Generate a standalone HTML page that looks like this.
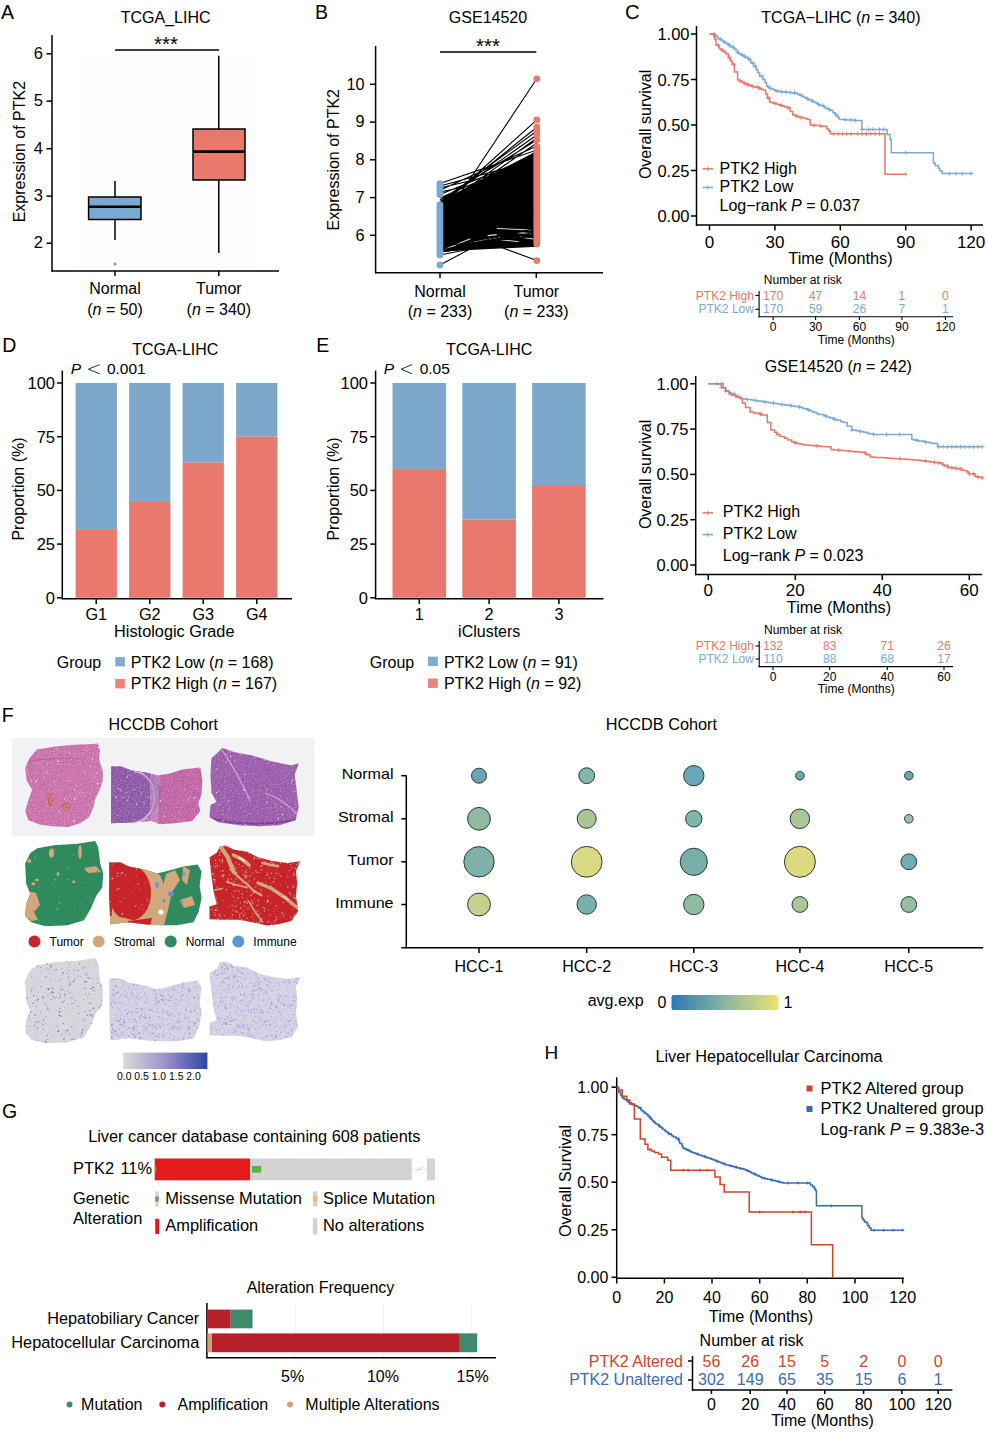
<!DOCTYPE html>
<html><head><meta charset="utf-8"><style>
html,body{margin:0;padding:0;background:#fff;}
svg{display:block;font-family:"Liberation Sans", sans-serif;}
</style></head><body>
<svg width="986" height="1433" viewBox="0 0 986 1433">
<rect width="986" height="1433" fill="#fff"/>
<text x="1.0" y="18.5" font-size="19.5" text-anchor="start" fill="#000">A</text><text x="165.6" y="23.4" font-size="16" text-anchor="middle" fill="#000">TCGA_LIHC</text><rect x="75.0" y="55.0" width="176.0" height="214.0" fill="#fdfdfd"/><line x1="52.0" y1="35.0" x2="52.0" y2="271.6" stroke="#000" stroke-width="1.5"/><line x1="51.3" y1="271.0" x2="279.0" y2="271.0" stroke="#000" stroke-width="1.5"/><line x1="46.5" y1="53.8" x2="52.0" y2="53.8" stroke="#000" stroke-width="1.5"/><text x="43.0" y="59.0" font-size="16.5" text-anchor="end" fill="#000">6</text><line x1="46.5" y1="101.1" x2="52.0" y2="101.1" stroke="#000" stroke-width="1.5"/><text x="43.0" y="106.3" font-size="16.5" text-anchor="end" fill="#000">5</text><line x1="46.5" y1="148.7" x2="52.0" y2="148.7" stroke="#000" stroke-width="1.5"/><text x="43.0" y="153.9" font-size="16.5" text-anchor="end" fill="#000">4</text><line x1="46.5" y1="196.1" x2="52.0" y2="196.1" stroke="#000" stroke-width="1.5"/><text x="43.0" y="201.3" font-size="16.5" text-anchor="end" fill="#000">3</text><line x1="46.5" y1="243.2" x2="52.0" y2="243.2" stroke="#000" stroke-width="1.5"/><text x="43.0" y="248.4" font-size="16.5" text-anchor="end" fill="#000">2</text><line x1="115.0" y1="271.0" x2="115.0" y2="276.0" stroke="#000" stroke-width="1.5"/><line x1="218.8" y1="271.0" x2="218.8" y2="276.0" stroke="#000" stroke-width="1.5"/><text x="19.5" y="151.6" font-size="16" text-anchor="middle" fill="#000" transform="rotate(-90 19.5 151.6)" dominant-baseline="central">Expression of PTK2</text><text x="115.0" y="294.0" font-size="16" text-anchor="middle" fill="#000">Normal</text><text x="115.0" y="315.0" font-size="16" text-anchor="middle" fill="#000">(<tspan font-style="italic">n</tspan> = 50)</text><text x="218.8" y="294.0" font-size="16" text-anchor="middle" fill="#000">Tumor</text><text x="218.8" y="315.0" font-size="16" text-anchor="middle" fill="#000">(<tspan font-style="italic">n</tspan> = 340)</text><line x1="115.0" y1="50.0" x2="219.0" y2="50.0" stroke="#000" stroke-width="1.5"/><text x="166.0" y="51.4" font-size="20.5" text-anchor="middle" fill="#000">***</text><line x1="115.0" y1="181.0" x2="115.0" y2="197.0" stroke="#000" stroke-width="1.5"/><line x1="115.0" y1="219.5" x2="115.0" y2="240.0" stroke="#000" stroke-width="1.5"/><rect x="88.6" y="197.0" width="52.4" height="22.5" fill="#7aaad2" stroke="#000" stroke-width="1.5"/><line x1="88.6" y1="206.8" x2="141.0" y2="206.8" stroke="#000" stroke-width="2.6"/><circle cx="115.0" cy="264.0" r="1.6" fill="#999"/><line x1="218.8" y1="55.8" x2="218.8" y2="129.0" stroke="#000" stroke-width="1.5"/><line x1="218.8" y1="180.0" x2="218.8" y2="253.0" stroke="#000" stroke-width="1.5"/><rect x="193.0" y="129.0" width="52.0" height="51.0" fill="#e8796c" stroke="#000" stroke-width="1.5"/><line x1="193.0" y1="151.6" x2="245.0" y2="151.6" stroke="#000" stroke-width="2.6"/><text x="315.0" y="18.5" font-size="19.5" text-anchor="start" fill="#000">B</text><text x="488.0" y="23.4" font-size="16" text-anchor="middle" fill="#000">GSE14520</text><line x1="375.6" y1="46.0" x2="375.6" y2="273.3" stroke="#000" stroke-width="1.5"/><line x1="375.0" y1="272.7" x2="603.0" y2="272.7" stroke="#000" stroke-width="1.5"/><line x1="370.0" y1="235.3" x2="375.6" y2="235.3" stroke="#000" stroke-width="1.5"/><text x="364.5" y="240.5" font-size="16.3" text-anchor="end" fill="#000">6</text><line x1="370.0" y1="197.6" x2="375.6" y2="197.6" stroke="#000" stroke-width="1.5"/><text x="364.5" y="202.8" font-size="16.3" text-anchor="end" fill="#000">7</text><line x1="370.0" y1="159.8" x2="375.6" y2="159.8" stroke="#000" stroke-width="1.5"/><text x="364.5" y="165.0" font-size="16.3" text-anchor="end" fill="#000">8</text><line x1="370.0" y1="122.1" x2="375.6" y2="122.1" stroke="#000" stroke-width="1.5"/><text x="364.5" y="127.3" font-size="16.3" text-anchor="end" fill="#000">9</text><line x1="370.0" y1="84.3" x2="375.6" y2="84.3" stroke="#000" stroke-width="1.5"/><text x="364.5" y="89.5" font-size="16.3" text-anchor="end" fill="#000">10</text><line x1="440.0" y1="272.7" x2="440.0" y2="278.0" stroke="#000" stroke-width="1.5"/><line x1="536.3" y1="272.7" x2="536.3" y2="278.0" stroke="#000" stroke-width="1.5"/><text x="333.5" y="159.7" font-size="16" text-anchor="middle" fill="#000" transform="rotate(-90 333.5 159.7)" dominant-baseline="central">Expression of PTK2</text><text x="440.0" y="297.0" font-size="16" text-anchor="middle" fill="#000">Normal</text><text x="440.0" y="317.0" font-size="16" text-anchor="middle" fill="#000">(<tspan font-style="italic">n</tspan> = 233)</text><text x="536.3" y="297.0" font-size="16" text-anchor="middle" fill="#000">Tumor</text><text x="536.3" y="317.0" font-size="16" text-anchor="middle" fill="#000">(<tspan font-style="italic">n</tspan> = 233)</text><line x1="440.0" y1="51.9" x2="536.3" y2="51.9" stroke="#000" stroke-width="1.5"/><text x="488.0" y="52.6" font-size="20.5" text-anchor="middle" fill="#000">***</text><path d="M439.9,201.5L536.8,151L536.8,246.8L439.9,251.5Z" fill="#050303" stroke="none" stroke-width="1"/><path d="M439.9,232.6L536.8,221.8M439.9,241.3L536.8,241.2M439.9,238.5L536.8,239.3M439.9,203.0L536.8,195.1M439.9,248.7L536.8,212.8M439.9,246.5L536.8,161.0M439.9,225.0L536.8,173.9M439.9,228.7L536.8,205.6M439.9,202.2L536.8,171.0M439.9,215.5L536.8,238.7M439.9,239.8L536.8,165.4M439.9,241.4L536.8,163.4M439.9,232.4L536.8,162.3M439.9,201.6L536.8,234.4M439.9,212.0L536.8,170.9M439.9,250.6L536.8,234.4M439.9,216.0L536.8,243.1M439.9,228.5L536.8,215.6M439.9,211.7L536.8,241.1M439.9,236.0L536.8,243.6M439.9,246.2L536.8,178.9M439.9,219.6L536.8,166.1M439.9,208.8L536.8,156.3M439.9,216.6L536.8,208.4M439.9,201.7L536.8,215.6M439.9,218.4L536.8,180.0M439.9,242.4L536.8,196.5M439.9,217.3L536.8,196.6M439.9,236.7L536.8,155.5M439.9,250.3L536.8,152.2M439.9,239.0L536.8,231.8M439.9,202.4L536.8,226.3M439.9,219.8L536.8,206.0M439.9,202.0L536.8,154.5M439.9,210.5L536.8,242.5M439.9,211.3L536.8,223.2M439.9,248.0L536.8,241.2M439.9,218.7L536.8,184.3M439.9,227.7L536.8,225.1M439.9,206.9L536.8,222.4M439.9,241.4L536.8,233.2M439.9,203.3L536.8,241.6M439.9,206.1L536.8,183.0M439.9,232.0L536.8,238.9M439.9,218.5L536.8,239.5M439.9,228.8L536.8,180.2M439.9,217.3L536.8,167.2M439.9,205.4L536.8,164.4M439.9,236.0L536.8,246.5M439.9,209.6L536.8,154.7M439.9,250.8L536.8,201.6M439.9,221.8L536.8,173.0M439.9,231.2L536.8,230.0M439.9,224.3L536.8,190.8M439.9,204.3L536.8,238.7M439.9,203.1L536.8,197.8M439.9,243.4L536.8,162.6M439.9,238.1L536.8,241.9M439.9,233.0L536.8,226.3M439.9,206.8L536.8,192.1M439.9,209.0L536.8,231.8M439.9,216.2L536.8,193.9M439.9,251.5L536.8,232.5M439.9,250.3L536.8,193.9M439.9,225.9L536.8,220.6M439.9,225.5L536.8,178.2M439.9,221.7L536.8,164.2M439.9,220.4L536.8,245.7M439.9,249.5L536.8,210.7M439.9,226.5L536.8,182.8M439.9,206.0L536.8,176.4M439.9,240.6L536.8,234.0M439.9,219.6L536.8,226.1M439.9,240.2L536.8,217.2M439.9,234.7L536.8,223.5M439.9,219.7L536.8,218.2M439.9,215.5L536.8,197.0M439.9,240.0L536.8,216.9M439.9,216.2L536.8,241.5M439.9,234.0L536.8,206.2M439.9,202.1L536.8,202.9M439.9,214.0L536.8,215.0M439.9,224.6L536.8,229.1M439.9,233.9L536.8,227.2M439.9,218.9L536.8,212.3M439.9,238.4L536.8,230.2M439.9,219.0L536.8,231.6M439.9,245.0L536.8,216.6M439.9,250.3L536.8,242.6M439.9,227.4L536.8,201.2M439.9,209.8L536.8,231.0M439.9,248.4L536.8,196.2M439.9,236.1L536.8,219.7M439.9,238.0L536.8,166.6M439.9,240.5L536.8,206.2M439.9,234.8L536.8,190.7M439.9,232.7L536.8,225.0M439.9,233.3L536.8,219.7M439.9,202.9L536.8,165.5M439.9,223.6L536.8,212.9M439.9,212.5L536.8,216.4M439.9,233.0L536.8,154.1M439.9,225.1L536.8,171.9M439.9,204.2L536.8,162.9M439.9,217.4L536.8,167.6M439.9,211.2L536.8,153.5M439.9,224.8L536.8,186.8M439.9,232.1L536.8,207.1M439.9,213.4L536.8,237.4M439.9,201.5L536.8,189.2M439.9,215.4L536.8,189.7M439.9,207.3L536.8,230.5M439.9,220.2L536.8,153.5M439.9,232.2L536.8,159.2M439.9,228.8L536.8,182.9M439.9,230.5L536.8,242.8M439.9,242.4L536.8,190.6M439.9,242.1L536.8,212.2M439.9,220.0L536.8,163.8M439.9,231.3L536.8,204.6M439.9,249.4L536.8,243.7M439.9,231.9L536.8,184.0M439.9,246.2L536.8,150.1M439.9,206.9L536.8,204.8M439.9,232.3L536.8,163.6M439.9,233.0L536.8,236.3M439.9,220.3L536.8,191.8M439.9,212.8L536.8,178.2M439.9,250.1L536.8,186.8M439.9,249.6L536.8,238.5M439.9,231.3L536.8,175.2M439.9,250.5L536.8,198.0M439.9,222.3L536.8,180.9M439.9,250.7L536.8,197.6M439.9,215.8L536.8,196.2M439.9,207.6L536.8,210.2M439.9,223.7L536.8,178.4M439.9,240.6L536.8,230.0M439.9,202.2L536.8,201.6M439.9,215.2L536.8,240.5M439.9,240.6L536.8,173.8M439.9,214.9L536.8,165.0M439.9,250.9L536.8,178.4M439.9,231.9L536.8,195.9M439.9,233.7L536.8,208.5M439.9,238.7L536.8,161.4M439.9,239.5L536.8,179.1M439.9,228.2L536.8,182.5M439.9,216.3L536.8,201.3M439.9,224.7L536.8,184.9M439.9,238.8L536.8,207.2M439.9,203.3L536.8,174.4M439.9,224.3L536.8,238.7M439.9,245.9L536.8,202.8M439.9,202.2L536.8,225.3M439.9,222.9L536.8,205.7M439.9,236.9L536.8,211.2M439.9,225.6L536.8,238.3M439.9,220.8L536.8,187.9M439.9,244.1L536.8,169.0M439.9,183.6L536.8,150.0M439.9,186.0L536.8,160.0M439.9,190.2L536.8,146.0M439.9,194.6L536.8,155.0M439.9,192.0L536.8,172.0M439.9,188.0L536.8,165.0M439.9,224.3L536.8,78.8M439.9,224.3L536.8,260.6M439.9,265.0L536.8,213.7M439.9,200.0L536.8,140.0M439.9,203.0L536.8,135.0M439.9,205.0L536.8,127.2M439.9,207.0L536.8,119.9M439.9,210.0L536.8,143.0M439.9,198.0L536.8,156.0M439.9,202.0L536.8,131.0M439.9,208.0L536.8,138.0M439.9,250.0L536.8,232.0M439.9,252.0L536.8,240.0M439.9,255.0L536.8,236.0" fill="none" stroke="#000" stroke-width="1.1"/><path d="M496.8,228.5L531.3,230M517,232.6L531.3,233.6M500.9,239.7L519.1,241.7M487.7,235.6L496.8,234.6M444,249.8L470.4,238.7M470,243L500,237M520,237L533,239" fill="none" stroke="#fff" stroke-width="1.1" opacity="0.85"/><path d="M439.9,250.0L536.8,232.0M439.9,252.0L536.8,240.0M439.9,246.0L536.8,236.0M439.9,251.0L536.8,228.0" fill="none" stroke="#000" stroke-width="1.0"/><rect x="436.5" y="201.2" width="6.8" height="57.2" fill="#79a9d2" rx="3.4"/><circle cx="439.9" cy="183.6" r="3.4" fill="#79a9d2"/><circle cx="439.9" cy="187.0" r="3.4" fill="#79a9d2"/><circle cx="439.9" cy="190.2" r="3.4" fill="#79a9d2"/><circle cx="439.9" cy="194.6" r="3.4" fill="#79a9d2"/><circle cx="439.9" cy="265.0" r="3.4" fill="#79a9d2"/><rect x="533.4" y="143.3" width="6.8" height="104.1" fill="#e8796c" rx="3.4"/><circle cx="536.8" cy="78.8" r="3.4" fill="#e8796c"/><circle cx="536.8" cy="119.9" r="3.4" fill="#e8796c"/><circle cx="536.8" cy="127.2" r="3.4" fill="#e8796c"/><circle cx="536.8" cy="131.0" r="3.4" fill="#e8796c"/><circle cx="536.8" cy="135.0" r="3.4" fill="#e8796c"/><circle cx="536.8" cy="140.0" r="3.4" fill="#e8796c"/><circle cx="536.8" cy="260.6" r="3.4" fill="#e8796c"/><text x="625.0" y="18.8" font-size="20.2" text-anchor="start" fill="#000">C</text><text x="840.9" y="23.0" font-size="16" text-anchor="middle" fill="#000">TCGA−LIHC (<tspan font-style="italic">n</tspan> = 340)</text><line x1="696.5" y1="26.0" x2="696.5" y2="225.6" stroke="#000" stroke-width="1.5"/><line x1="695.9" y1="225.0" x2="983.0" y2="225.0" stroke="#000" stroke-width="1.5"/><line x1="691.0" y1="34.0" x2="696.5" y2="34.0" stroke="#000" stroke-width="1.5"/><text x="689.5" y="40.0" font-size="16.5" text-anchor="end" fill="#000">1.00</text><line x1="691.0" y1="79.5" x2="696.5" y2="79.5" stroke="#000" stroke-width="1.5"/><text x="689.5" y="85.5" font-size="16.5" text-anchor="end" fill="#000">0.75</text><line x1="691.0" y1="125.0" x2="696.5" y2="125.0" stroke="#000" stroke-width="1.5"/><text x="689.5" y="131.0" font-size="16.5" text-anchor="end" fill="#000">0.50</text><line x1="691.0" y1="170.5" x2="696.5" y2="170.5" stroke="#000" stroke-width="1.5"/><text x="689.5" y="176.5" font-size="16.5" text-anchor="end" fill="#000">0.25</text><line x1="691.0" y1="216.0" x2="696.5" y2="216.0" stroke="#000" stroke-width="1.5"/><text x="689.5" y="222.0" font-size="16.5" text-anchor="end" fill="#000">0.00</text><line x1="709.5" y1="225.0" x2="709.5" y2="230.4" stroke="#000" stroke-width="1.5"/><text x="709.5" y="248.0" font-size="17" text-anchor="middle" fill="#000">0</text><line x1="774.9" y1="225.0" x2="774.9" y2="230.4" stroke="#000" stroke-width="1.5"/><text x="774.9" y="248.0" font-size="17" text-anchor="middle" fill="#000">30</text><line x1="840.3" y1="225.0" x2="840.3" y2="230.4" stroke="#000" stroke-width="1.5"/><text x="840.3" y="248.0" font-size="17" text-anchor="middle" fill="#000">60</text><line x1="905.7" y1="225.0" x2="905.7" y2="230.4" stroke="#000" stroke-width="1.5"/><text x="905.7" y="248.0" font-size="17" text-anchor="middle" fill="#000">90</text><line x1="971.1" y1="225.0" x2="971.1" y2="230.4" stroke="#000" stroke-width="1.5"/><text x="971.1" y="248.0" font-size="17" text-anchor="middle" fill="#000">120</text><text x="840.5" y="264.2" font-size="16.3" text-anchor="middle" fill="#000">Time (Months)</text><text x="645.5" y="124.4" font-size="16" text-anchor="middle" fill="#000" transform="rotate(-90 645.5 124.4)" dominant-baseline="central">Overall survival</text><path d="M709.5,34.0H713.8V36.0H717.3V38.0H720.2V39.5H722.4V40.9H723.9V42.4H726.6V43.8H728.9V45.3H731.0V47.1H733.5V48.9H735.9V50.7H737.6V52.6H739.0V53.8H740.9V55.0H744.0V56.2H745.4V57.4H747.8V58.6H749.4V59.8H750.8V63.1H753.6V66.4H756.1V69.7H757.9V72.9H759.7V76.2H762.9V79.4H765.0V82.6H766.6V85.9H768.1V87.2H770.3V88.5H773.2V89.8H775.3V91.1H778.0V91.3H779.2V91.5H781.0V91.7H783.3V91.9H784.8V92.1H787.1V92.3H789.4V92.5H791.5V92.7H793.2V92.9H795.6V93.1H797.4V94.2H799.5V95.3H802.1V96.4H804.3V97.5H806.3V98.7H808.3V99.8H811.9V101.0H813.8V102.2H816.1V103.3H818.4V104.4H819.8V105.4H823.0V106.5H824.8V107.5H825.8V108.5H828.2V109.6H830.5V110.6H833.0V112.8H835.2V115.0H837.7V117.2H839.2V119.4H841.1V119.5H843.7V119.6H845.5V119.7H847.0V119.9H849.5V120.0H851.9V120.1H853.9V120.2H855.4V120.4H857.6V120.5H859.5V120.6H861.9V129.4H887.1V134.5H890.0V139.6H891.3V152.7H933.4V162.9H935.2V165.5H938.2V168.2H939.8V170.9H942.1V173.6H972.6" fill="none" stroke="#79aad4" stroke-width="1.5"/><path d="M713.8,36.0H718.2M716.0,33.8V38.2M718.2,39.5H722.6M720.4,37.3V41.7M722.6,42.4H727.0M724.8,40.2V44.6M726.9,45.3H731.3M729.1,43.1V47.5M731.3,47.1H735.7M733.5,44.9V49.3M735.6,52.6H740.0M737.8,50.4V54.8M740.0,55.0H744.4M742.2,52.8V57.2M742.2,56.2H746.6M744.4,54.0V58.4M746.5,58.6H750.9M748.7,56.4V60.8M750.9,63.1H755.3M753.1,60.9V65.3M753.1,66.4H757.5M755.3,64.2V68.6M759.6,76.2H764.0M761.8,74.0V78.4M768.3,88.5H772.7M770.5,86.3V90.7M774.9,91.1H779.3M777.1,88.9V93.3M779.2,91.7H783.6M781.4,89.5V93.9M783.6,92.1H788.0M785.8,89.9V94.3M788.0,92.5H792.4M790.2,90.3V94.7M792.3,92.9H796.7M794.5,90.7V95.1M798.9,95.3H803.3M801.1,93.1V97.5M805.4,98.7H809.8M807.6,96.5V100.9M809.8,101.0H814.2M812.0,98.8V103.2M816.3,104.4H820.7M818.5,102.2V106.6M820.7,105.4H825.1M822.9,103.2V107.6M827.2,109.6H831.6M829.4,107.4V111.8M833.7,115.0H838.1M835.9,112.8V117.2M842.5,119.6H846.9M844.7,117.4V121.8M849.0,120.0H853.4M851.2,117.8V122.2M853.4,120.4H857.8M855.6,118.2V122.6M859.9,129.4H864.3M862.1,127.2V131.6M866.4,129.4H870.8M868.6,127.2V131.6M870.8,129.4H875.2M873.0,127.2V131.6M877.3,129.4H881.7M879.5,127.2V131.6M881.7,129.4H886.1M883.9,127.2V131.6M903.5,152.7H907.9M905.7,150.5V154.9M947.1,173.6H951.5M949.3,171.4V175.8M953.6,173.6H958.0M955.8,171.4V175.8M960.2,173.6H964.6M962.4,171.4V175.8M968.9,173.6H973.3M971.1,171.4V175.8" fill="none" stroke="#79aad4" stroke-width="0.9"/><path d="M709.5,34.0H714.6V39.6H716.0V45.3H718.7V47.0H719.4V48.8H721.5V50.5H724.5V52.3H726.1V54.0H728.4V57.4H730.2V60.8H732.0V64.2H734.4V72.1H737.6V80.0H740.0V81.1H742.1V82.2H744.3V83.3H746.3V84.4H748.0V85.1H750.6V85.9H752.7V86.6H755.4V87.3H758.0V88.1H760.1V88.8H761.7V89.5H763.8V90.2H765.7V94.1H767.4V98.0H769.7V101.9H771.1V102.6H773.3V103.3H776.2V104.1H778.1V104.8H780.4V105.5H783.3V106.3H785.0V107.0H787.1V107.7H790.1V111.4H792.8V115.0H794.5V115.6H796.3V116.2H798.8V116.9H800.6V117.5H803.2V118.1H806.0V118.7H807.4V119.4H810.2V125.0H812.5V125.2H813.9V125.4H816.9V125.6H818.9V125.8H820.8V126.0H823.1V126.2H824.6V126.5H826.9V128.9H828.9V131.3H830.5V133.7H885.0V174.3H905.7" fill="none" stroke="#e8776a" stroke-width="1.5"/><path d="M711.7,34.0H716.1M713.9,31.8V36.2M716.0,45.3H720.4M718.2,43.1V47.5M720.4,50.5H724.8M722.6,48.3V52.7M726.9,57.4H731.3M729.1,55.2V59.6M731.3,64.2H735.7M733.5,62.0V66.4M737.8,81.1H742.2M740.0,78.9V83.3M742.2,83.3H746.6M744.4,81.1V85.5M746.5,85.1H750.9M748.7,82.9V87.3M750.9,86.6H755.3M753.1,84.4V88.8M755.3,87.3H759.7M757.5,85.1V89.5M757.4,88.1H761.8M759.6,85.9V90.3M766.2,98.0H770.6M768.4,95.8V100.2M772.7,103.3H777.1M774.9,101.1V105.5M779.2,105.5H783.6M781.4,103.3V107.7M785.8,107.7H790.2M788.0,105.5V109.9M794.5,116.2H798.9M796.7,114.0V118.4M798.9,117.5H803.3M801.1,115.3V119.7M811.9,125.4H816.3M814.1,123.2V127.6M818.5,125.8H822.9M820.7,123.6V128.0M831.6,133.7H836.0M833.8,131.5V135.9M835.9,133.7H840.3M838.1,131.5V135.9M840.3,133.7H844.7M842.5,131.5V135.9M844.6,133.7H849.0M846.8,131.5V135.9M849.0,133.7H853.4M851.2,131.5V135.9M855.5,133.7H859.9M857.7,131.5V135.9M859.9,133.7H864.3M862.1,131.5V135.9M864.3,133.7H868.7M866.5,131.5V135.9M868.6,133.7H873.0M870.8,131.5V135.9M873.0,133.7H877.4M875.2,131.5V135.9M877.3,133.7H881.7M879.5,131.5V135.9M903.5,174.3H907.9M905.7,172.1V176.5" fill="none" stroke="#e8776a" stroke-width="0.9"/><line x1="702.5" y1="168.8" x2="713.0" y2="168.8" stroke="#e8776a" stroke-width="1.5"/><line x1="707.7" y1="166.6" x2="707.7" y2="171.0" stroke="#e8776a" stroke-width="1"/><line x1="702.5" y1="187.5" x2="713.0" y2="187.5" stroke="#79aad4" stroke-width="1.5"/><line x1="707.7" y1="185.3" x2="707.7" y2="189.7" stroke="#79aad4" stroke-width="1"/><text x="719.5" y="173.7" font-size="16" text-anchor="start" fill="#000">PTK2 High</text><text x="719.5" y="192.3" font-size="16" text-anchor="start" fill="#000">PTK2 Low</text><text x="719.5" y="210.8" font-size="16" text-anchor="start" fill="#000">Log−rank <tspan font-style="italic">P</tspan> = 0.037</text><text x="763.8" y="284.2" font-size="12" text-anchor="start" fill="#000">Number at risk</text><text x="753.9" y="299.7" font-size="12" text-anchor="end" fill="#e8776a">PTK2 High</text><text x="753.9" y="313.4" font-size="12" text-anchor="end" fill="#79aad4">PTK2 Low</text><line x1="759.1" y1="291.0" x2="759.1" y2="317.4" stroke="#000" stroke-width="1.1"/><line x1="758.5" y1="316.8" x2="953.0" y2="316.8" stroke="#000" stroke-width="1.1"/><line x1="755.5" y1="295.5" x2="759.1" y2="295.5" stroke="#000" stroke-width="1.1"/><line x1="755.5" y1="309.3" x2="759.1" y2="309.3" stroke="#000" stroke-width="1.1"/><text x="773.1" y="299.7" font-size="12" text-anchor="middle" fill="#e8776a">170</text><text x="773.1" y="313.4" font-size="12" text-anchor="middle" fill="#79aad4">170</text><line x1="773.1" y1="316.8" x2="773.1" y2="320.0" stroke="#000" stroke-width="1.1"/><text x="773.1" y="330.8" font-size="12" text-anchor="middle" fill="#000">0</text><text x="815.6" y="299.7" font-size="12" text-anchor="middle" fill="#e8776a">47</text><text x="815.6" y="313.4" font-size="12" text-anchor="middle" fill="#79aad4">59</text><line x1="815.6" y1="316.8" x2="815.6" y2="320.0" stroke="#000" stroke-width="1.1"/><text x="815.6" y="330.8" font-size="12" text-anchor="middle" fill="#000">30</text><text x="859.4" y="299.7" font-size="12" text-anchor="middle" fill="#e8776a">14</text><text x="859.4" y="313.4" font-size="12" text-anchor="middle" fill="#79aad4">26</text><line x1="859.4" y1="316.8" x2="859.4" y2="320.0" stroke="#000" stroke-width="1.1"/><text x="859.4" y="330.8" font-size="12" text-anchor="middle" fill="#000">60</text><text x="901.9" y="299.7" font-size="12" text-anchor="middle" fill="#e8776a">1</text><text x="901.9" y="313.4" font-size="12" text-anchor="middle" fill="#79aad4">7</text><line x1="901.9" y1="316.8" x2="901.9" y2="320.0" stroke="#000" stroke-width="1.1"/><text x="901.9" y="330.8" font-size="12" text-anchor="middle" fill="#000">90</text><text x="945.4" y="299.7" font-size="12" text-anchor="middle" fill="#e8776a">0</text><text x="945.4" y="313.4" font-size="12" text-anchor="middle" fill="#79aad4">1</text><line x1="945.4" y1="316.8" x2="945.4" y2="320.0" stroke="#000" stroke-width="1.1"/><text x="945.4" y="330.8" font-size="12" text-anchor="middle" fill="#000">120</text><text x="856.3" y="344.4" font-size="12" text-anchor="middle" fill="#000">Time (Months)</text><text x="838.3" y="371.5" font-size="16" text-anchor="middle" fill="#000">GSE14520 (<tspan font-style="italic">n</tspan> = 242)</text><line x1="695.7" y1="376.0" x2="695.7" y2="575.2" stroke="#000" stroke-width="1.5"/><line x1="695.1" y1="574.6" x2="982.0" y2="574.6" stroke="#000" stroke-width="1.5"/><line x1="690.2" y1="383.8" x2="695.7" y2="383.8" stroke="#000" stroke-width="1.5"/><text x="688.5" y="389.8" font-size="16.5" text-anchor="end" fill="#000">1.00</text><line x1="690.2" y1="429.1" x2="695.7" y2="429.1" stroke="#000" stroke-width="1.5"/><text x="688.5" y="435.1" font-size="16.5" text-anchor="end" fill="#000">0.75</text><line x1="690.2" y1="474.4" x2="695.7" y2="474.4" stroke="#000" stroke-width="1.5"/><text x="688.5" y="480.4" font-size="16.5" text-anchor="end" fill="#000">0.50</text><line x1="690.2" y1="519.7" x2="695.7" y2="519.7" stroke="#000" stroke-width="1.5"/><text x="688.5" y="525.7" font-size="16.5" text-anchor="end" fill="#000">0.25</text><line x1="690.2" y1="565.0" x2="695.7" y2="565.0" stroke="#000" stroke-width="1.5"/><text x="688.5" y="571.0" font-size="16.5" text-anchor="end" fill="#000">0.00</text><line x1="708.3" y1="574.6" x2="708.3" y2="580.0" stroke="#000" stroke-width="1.5"/><text x="708.3" y="596.0" font-size="17" text-anchor="middle" fill="#000">0</text><line x1="795.3" y1="574.6" x2="795.3" y2="580.0" stroke="#000" stroke-width="1.5"/><text x="795.3" y="596.0" font-size="17" text-anchor="middle" fill="#000">20</text><line x1="882.3" y1="574.6" x2="882.3" y2="580.0" stroke="#000" stroke-width="1.5"/><text x="882.3" y="596.0" font-size="17" text-anchor="middle" fill="#000">40</text><line x1="969.3" y1="574.6" x2="969.3" y2="580.0" stroke="#000" stroke-width="1.5"/><text x="969.3" y="596.0" font-size="17" text-anchor="middle" fill="#000">60</text><text x="839.0" y="612.8" font-size="16.3" text-anchor="middle" fill="#000">Time (Months)</text><text x="645.5" y="474.4" font-size="16" text-anchor="middle" fill="#000" transform="rotate(-90 645.5 474.4)" dominant-baseline="central">Overall survival</text><path d="M708.3,383.8H721.3V387.4H725.7V391.0H728.8V392.5H731.5V394.0H735.1V395.5H738.1V397.0H740.9V398.5H743.2V399.0H746.5V399.5H751.7V400.0H753.7V400.5H757.0V401.0H762.1V401.5H764.2V402.0H768.4V402.5H770.9V403.0H774.2V403.5H777.9V404.0H780.1V404.5H784.6V405.0H788.5V405.5H791.0V406.0H794.8V406.5H798.0V407.0H801.0V407.5H803.1V408.7H807.6V409.9H810.3V411.1H812.7V412.3H816.2V413.5H818.4V414.6H823.8V415.8H826.2V416.9H830.2V418.0H833.9V419.2H836.9V420.3H840.8V421.4H843.1V422.6H847.2V426.3H851.8V430.0H856.2V430.8H858.8V431.5H863.6V432.3H867.0V433.0H868.6V433.8H873.2V434.5H911.9V439.6H914.5V440.3H918.2V440.9H923.5V441.6H925.6V442.3H929.6V442.9H932.8V443.6H937.5V446.7H982.3" fill="none" stroke="#79aad4" stroke-width="1.5"/><path d="M714.8,383.8H719.2M717.0,381.6V386.0M719.1,387.4H723.5M721.3,385.2V389.6M732.2,394.0H736.6M734.4,391.8V396.2M745.2,399.5H749.6M747.4,397.3V401.7M753.9,400.5H758.4M756.1,398.3V402.7M762.6,402.0H767.0M764.8,399.8V404.2M771.3,403.0H775.8M773.5,400.8V405.2M780.0,404.5H784.5M782.2,402.3V406.7M788.7,405.5H793.1M790.9,403.3V407.7M797.4,407.0H801.9M799.6,404.8V409.2M806.1,409.9H810.5M808.3,407.7V412.1M823.5,415.8H828.0M825.8,413.6V418.0M832.2,419.2H836.6M834.4,417.0V421.4M849.6,430.0H854.0M851.8,427.8V432.2M858.3,431.5H862.8M860.5,429.3V433.7M871.4,434.5H875.8M873.6,432.3V436.7M884.4,434.5H888.9M886.6,432.3V436.7M897.5,434.5H901.9M899.7,432.3V436.7M914.9,440.3H919.3M917.1,438.1V442.5M923.6,442.3H928.0M925.8,440.1V444.5M936.6,446.7H941.0M938.8,444.5V448.9M941.0,446.7H945.4M943.2,444.5V448.9M945.3,446.7H949.8M947.5,444.5V448.9M949.7,446.7H954.1M951.9,444.5V448.9M954.0,446.7H958.5M956.2,444.5V448.9M958.4,446.7H962.8M960.6,444.5V448.9M962.7,446.7H967.1M964.9,444.5V448.9M967.1,446.7H971.5M969.3,444.5V448.9M971.4,446.7H975.8M973.6,444.5V448.9M975.8,446.7H980.2M978.0,444.5V448.9M980.1,446.7H984.5M982.3,444.5V448.9" fill="none" stroke="#79aad4" stroke-width="0.9"/><path d="M708.3,383.8H723.1V388.0H725.6V391.0H729.2V393.9H731.7V395.5H735.9V397.0H739.6V398.5H742.3V403.0H745.5V407.5H750.1V412.1H753.7V413.0H759.0V414.0H761.8V415.0H767.3V422.5H770.9V430.0H774.6V432.3H777.0V434.5H780.0V436.4H784.5V438.3H787.5V440.1H791.8V442.0H794.2V442.7H797.1V443.5H800.3V444.3H804.0V445.0H808.5V445.3H811.8V445.6H815.2V445.9H818.7V446.1H820.7V446.4H824.9V446.7H831.0V449.6H833.8V449.9H837.9V450.2H841.4V450.5H845.0V450.8H848.4V451.1H849.8V451.4H854.4V451.7H857.8V452.0H860.7V452.3H864.0V452.7H866.4V454.8H870.1V457.0H873.3V457.2H875.6V457.4H880.7V457.6H883.7V457.8H886.2V458.0H888.9V458.2H893.4V458.5H895.9V458.7H899.8V458.9H902.9V459.1H905.3V459.3H908.3V459.5H911.9V459.7H914.9V459.9H918.2V460.3H921.0V460.8H924.7V461.2H929.3V461.7H930.9V462.1H934.3V462.5H938.8V463.0H942.2V464.6H944.5V466.1H948.0V467.7H952.0V468.1H955.7V468.5H959.7V469.0H962.4V470.5H966.9V472.1H968.9V473.7H975.0V476.6H977.9V477.3H982.3V478.0H982.3" fill="none" stroke="#e8776a" stroke-width="1.5"/><path d="M719.1,383.8H723.5M721.3,381.6V386.0M723.5,391.0H727.9M725.7,388.8V393.2M758.3,414.0H762.7M760.5,411.8V416.2M775.7,434.5H780.1M777.9,432.3V436.7M793.1,442.7H797.5M795.3,440.5V444.9M814.8,445.9H819.2M817.0,443.7V448.1M836.6,450.2H841.0M838.8,448.0V452.4M862.7,452.7H867.1M864.9,450.5V454.9M897.5,458.7H901.9M899.7,456.5V460.9M923.6,461.2H928.0M925.8,459.0V463.4M932.3,462.5H936.7M934.5,460.3V464.7M936.6,463.0H941.0M938.8,460.8V465.2M941.0,464.6H945.4M943.2,462.4V466.8M945.3,466.1H949.8M947.5,463.9V468.3M949.7,467.7H954.1M951.9,465.5V469.9M954.0,468.5H958.5M956.2,466.3V470.7M958.4,469.0H962.8M960.6,466.8V471.2M967.1,473.7H971.5M969.3,471.5V475.9M971.4,473.7H975.8M973.6,471.5V475.9M975.8,477.3H980.2M978.0,475.1V479.5M980.1,478.0H984.5M982.3,475.8V480.2" fill="none" stroke="#e8776a" stroke-width="0.9"/><line x1="702.5" y1="512.8" x2="713.0" y2="512.8" stroke="#e8776a" stroke-width="1.5"/><line x1="707.7" y1="510.6" x2="707.7" y2="515.0" stroke="#e8776a" stroke-width="1"/><line x1="702.5" y1="534.6" x2="713.0" y2="534.6" stroke="#79aad4" stroke-width="1.5"/><line x1="707.7" y1="532.4" x2="707.7" y2="536.8" stroke="#79aad4" stroke-width="1"/><text x="722.8" y="517.4" font-size="16" text-anchor="start" fill="#000">PTK2 High</text><text x="722.8" y="539.3" font-size="16" text-anchor="start" fill="#000">PTK2 Low</text><text x="722.8" y="560.9" font-size="16" text-anchor="start" fill="#000">Log−rank <tspan font-style="italic">P</tspan> = 0.023</text><text x="764.0" y="634.4" font-size="12" text-anchor="start" fill="#000">Number at risk</text><text x="753.9" y="650.3" font-size="12" text-anchor="end" fill="#e8776a">PTK2 High</text><text x="753.9" y="663.0" font-size="12" text-anchor="end" fill="#79aad4">PTK2 Low</text><line x1="759.2" y1="641.0" x2="759.2" y2="667.2" stroke="#000" stroke-width="1.1"/><line x1="758.6" y1="666.6" x2="953.0" y2="666.6" stroke="#000" stroke-width="1.1"/><line x1="755.6" y1="646.0" x2="759.2" y2="646.0" stroke="#000" stroke-width="1.1"/><line x1="755.6" y1="659.0" x2="759.2" y2="659.0" stroke="#000" stroke-width="1.1"/><text x="773.0" y="650.3" font-size="12" text-anchor="middle" fill="#e8776a">132</text><text x="773.0" y="663.0" font-size="12" text-anchor="middle" fill="#79aad4">110</text><line x1="773.0" y1="666.6" x2="773.0" y2="670.0" stroke="#000" stroke-width="1.1"/><text x="773.0" y="680.8" font-size="12" text-anchor="middle" fill="#000">0</text><text x="829.7" y="650.3" font-size="12" text-anchor="middle" fill="#e8776a">83</text><text x="829.7" y="663.0" font-size="12" text-anchor="middle" fill="#79aad4">88</text><line x1="829.7" y1="666.6" x2="829.7" y2="670.0" stroke="#000" stroke-width="1.1"/><text x="829.7" y="680.8" font-size="12" text-anchor="middle" fill="#000">20</text><text x="887.3" y="650.3" font-size="12" text-anchor="middle" fill="#e8776a">71</text><text x="887.3" y="663.0" font-size="12" text-anchor="middle" fill="#79aad4">68</text><line x1="887.3" y1="666.6" x2="887.3" y2="670.0" stroke="#000" stroke-width="1.1"/><text x="887.3" y="680.8" font-size="12" text-anchor="middle" fill="#000">40</text><text x="944.0" y="650.3" font-size="12" text-anchor="middle" fill="#e8776a">26</text><text x="944.0" y="663.0" font-size="12" text-anchor="middle" fill="#79aad4">17</text><line x1="944.0" y1="666.6" x2="944.0" y2="670.0" stroke="#000" stroke-width="1.1"/><text x="944.0" y="680.8" font-size="12" text-anchor="middle" fill="#000">60</text><text x="856.3" y="692.6" font-size="12" text-anchor="middle" fill="#000">Time (Months)</text><text x="2.3" y="351.8" font-size="19.5" text-anchor="start" fill="#000">D</text><text x="175.3" y="355.3" font-size="16" text-anchor="middle" fill="#000">TCGA-LIHC</text><text x="70.8" y="373.8" font-size="15.5" text-anchor="start" fill="#000"><tspan font-style="italic">P</tspan></text><path d="M99.6,364.6L88.4,369.2L99.6,373.8" fill="none" stroke="#111" stroke-width="0.9"/><text x="106.9" y="373.8" font-size="15.5" text-anchor="start" fill="#000">0.001</text><line x1="62.3" y1="370.6" x2="62.3" y2="599.3" stroke="#000" stroke-width="1.5"/><line x1="61.7" y1="598.7" x2="292.0" y2="598.7" stroke="#000" stroke-width="1.5"/><line x1="57.0" y1="597.8" x2="62.3" y2="597.8" stroke="#000" stroke-width="1.5"/><text x="55.0" y="603.8" font-size="16.5" text-anchor="end" fill="#000">0</text><line x1="57.0" y1="544.1" x2="62.3" y2="544.1" stroke="#000" stroke-width="1.5"/><text x="55.0" y="550.1" font-size="16.5" text-anchor="end" fill="#000">25</text><line x1="57.0" y1="490.4" x2="62.3" y2="490.4" stroke="#000" stroke-width="1.5"/><text x="55.0" y="496.4" font-size="16.5" text-anchor="end" fill="#000">50</text><line x1="57.0" y1="436.7" x2="62.3" y2="436.7" stroke="#000" stroke-width="1.5"/><text x="55.0" y="442.7" font-size="16.5" text-anchor="end" fill="#000">75</text><line x1="57.0" y1="383.0" x2="62.3" y2="383.0" stroke="#000" stroke-width="1.5"/><text x="55.0" y="389.0" font-size="16.5" text-anchor="end" fill="#000">100</text><text x="18.8" y="489.0" font-size="16" text-anchor="middle" fill="#000" transform="rotate(-90 18.8 489)" dominant-baseline="central">Proportion (%)</text><rect x="75.6" y="383.0" width="41.3" height="146.1" fill="#7ba8cb"/><rect x="75.6" y="529.1" width="41.3" height="68.7" fill="#e8796c"/><line x1="96.2" y1="598.7" x2="96.2" y2="604.0" stroke="#000" stroke-width="1.5"/><text x="96.2" y="619.8" font-size="16.2" text-anchor="middle" fill="#000">G1</text><rect x="129.1" y="383.0" width="41.3" height="118.1" fill="#7ba8cb"/><rect x="129.1" y="501.1" width="41.3" height="96.7" fill="#e8796c"/><line x1="149.8" y1="598.7" x2="149.8" y2="604.0" stroke="#000" stroke-width="1.5"/><text x="149.8" y="619.8" font-size="16.2" text-anchor="middle" fill="#000">G2</text><rect x="182.6" y="383.0" width="41.3" height="79.5" fill="#7ba8cb"/><rect x="182.6" y="462.5" width="41.3" height="135.3" fill="#e8796c"/><line x1="203.2" y1="598.7" x2="203.2" y2="604.0" stroke="#000" stroke-width="1.5"/><text x="203.2" y="619.8" font-size="16.2" text-anchor="middle" fill="#000">G3</text><rect x="236.1" y="383.0" width="41.3" height="53.7" fill="#7ba8cb"/><rect x="236.1" y="436.7" width="41.3" height="161.1" fill="#e8796c"/><line x1="256.8" y1="598.7" x2="256.8" y2="604.0" stroke="#000" stroke-width="1.5"/><text x="256.8" y="619.8" font-size="16.2" text-anchor="middle" fill="#000">G4</text><text x="174.3" y="636.7" font-size="16.3" text-anchor="middle" fill="#000">Histologic Grade</text><text x="56.8" y="667.6" font-size="16" text-anchor="start" fill="#000">Group</text><rect x="115.3" y="657.0" width="9.6" height="9.4" fill="#80acd0"/><text x="130.8" y="667.6" font-size="16" text-anchor="start" fill="#000">PTK2 Low (<tspan font-style="italic">n</tspan> = 168)</text><rect x="115.3" y="679.0" width="9.6" height="9.4" fill="#e8847a"/><text x="130.8" y="688.6" font-size="16" text-anchor="start" fill="#000">PTK2 High (<tspan font-style="italic">n</tspan> = 167)</text><text x="316.3" y="351.8" font-size="19.5" text-anchor="start" fill="#000">E</text><text x="489.2" y="355.3" font-size="16" text-anchor="middle" fill="#000">TCGA-LIHC</text><text x="383.7" y="373.8" font-size="15.5" text-anchor="start" fill="#000"><tspan font-style="italic">P</tspan></text><path d="M412.1,364.6L401.2,369.2L412.1,373.8" fill="none" stroke="#111" stroke-width="0.9"/><text x="419.7" y="373.8" font-size="15.5" text-anchor="start" fill="#000">0.05</text><line x1="375.6" y1="370.6" x2="375.6" y2="599.3" stroke="#000" stroke-width="1.5"/><line x1="375.0" y1="598.7" x2="603.5" y2="598.7" stroke="#000" stroke-width="1.5"/><line x1="370.3" y1="597.8" x2="375.6" y2="597.8" stroke="#000" stroke-width="1.5"/><text x="368.0" y="603.8" font-size="16.5" text-anchor="end" fill="#000">0</text><line x1="370.3" y1="544.1" x2="375.6" y2="544.1" stroke="#000" stroke-width="1.5"/><text x="368.0" y="550.1" font-size="16.5" text-anchor="end" fill="#000">25</text><line x1="370.3" y1="490.4" x2="375.6" y2="490.4" stroke="#000" stroke-width="1.5"/><text x="368.0" y="496.4" font-size="16.5" text-anchor="end" fill="#000">50</text><line x1="370.3" y1="436.7" x2="375.6" y2="436.7" stroke="#000" stroke-width="1.5"/><text x="368.0" y="442.7" font-size="16.5" text-anchor="end" fill="#000">75</text><line x1="370.3" y1="383.0" x2="375.6" y2="383.0" stroke="#000" stroke-width="1.5"/><text x="368.0" y="389.0" font-size="16.5" text-anchor="end" fill="#000">100</text><text x="333.0" y="489.0" font-size="16" text-anchor="middle" fill="#000" transform="rotate(-90 333 489)" dominant-baseline="central">Proportion (%)</text><rect x="392.5" y="383.0" width="53.6" height="85.9" fill="#7ba8cb"/><rect x="392.5" y="468.9" width="53.6" height="128.9" fill="#e8796c"/><line x1="419.3" y1="598.7" x2="419.3" y2="604.0" stroke="#000" stroke-width="1.5"/><text x="419.3" y="619.8" font-size="16.2" text-anchor="middle" fill="#000">1</text><rect x="462.3" y="383.0" width="53.6" height="136.4" fill="#7ba8cb"/><rect x="462.3" y="519.4" width="53.6" height="78.4" fill="#e8796c"/><line x1="489.1" y1="598.7" x2="489.1" y2="604.0" stroke="#000" stroke-width="1.5"/><text x="489.1" y="619.8" font-size="16.2" text-anchor="middle" fill="#000">2</text><rect x="532.1" y="383.0" width="53.6" height="102.0" fill="#7ba8cb"/><rect x="532.1" y="485.0" width="53.6" height="112.8" fill="#e8796c"/><line x1="558.9" y1="598.7" x2="558.9" y2="604.0" stroke="#000" stroke-width="1.5"/><text x="558.9" y="619.8" font-size="16.2" text-anchor="middle" fill="#000">3</text><text x="489.2" y="636.7" font-size="16" text-anchor="middle" fill="#000">iClusters</text><text x="369.8" y="667.6" font-size="16" text-anchor="start" fill="#000">Group</text><rect x="428.0" y="656.6" width="9.8" height="9.4" fill="#80acd0"/><text x="443.9" y="667.6" font-size="16" text-anchor="start" fill="#000">PTK2 Low (<tspan font-style="italic">n</tspan> = 91)</text><rect x="428.0" y="678.5" width="9.8" height="9.4" fill="#e8847a"/><text x="443.9" y="688.6" font-size="16" text-anchor="start" fill="#000">PTK2 High (<tspan font-style="italic">n</tspan> = 92)</text><text x="1.8" y="722.0" font-size="19.5" text-anchor="start" fill="#000">F</text><text x="163.3" y="730.1" font-size="16" text-anchor="middle" fill="#000">HCCDB Cohort</text><rect x="11.6" y="738.0" width="302.7" height="98.2" fill="#f2f2f5"/><defs><clipPath id="c1"><path d="M29.8,757.8L36.6,749.5L55.6,746.4L70.9,744.9L92.9,744.1L98.2,743.4L99.8,750.2L99.0,759.3L102.8,771.5L102.8,780.6L99.8,789.8L95.2,798.9L93.7,806.5L89.1,817.2L80.0,823.2L67.8,827.0L52.6,826.3L40.4,824.8L28.3,820.2L25.2,811.1L28.3,800.4L32.1,789.8L26.7,780.6L25.2,768.5L27.5,762.4Z"/></clipPath><clipPath id="c2"><path d="M111.1,766.4L121.2,766.4L131.4,770.4L145.6,772.5L157.7,775.5L169.9,773.5L182.1,769.4L200.3,767.4L202.4,780.6L201.4,794.8L198.3,802.9L200.3,811.0L195.3,817.1L192.2,821.1L174.0,823.2L159.8,824.2L151.7,821.1L135.4,822.2L111.1,823.2Z"/></clipPath><clipPath id="c3"><path d="M211.5,758.3L222.6,748.1L234.8,752.2L251.0,755.2L271.3,761.3L291.6,765.4L298.7,763.3L294.7,774.5L296.7,790.7L298.7,806.9L295.7,820.1L279.4,825.2L259.2,826.2L238.9,825.2L218.6,822.2L209.5,817.1L210.5,804.9L216.6,801.9L211.5,792.7L210.5,774.5Z"/></clipPath></defs><path d="M29.8,757.8L36.6,749.5L55.6,746.4L70.9,744.9L92.9,744.1L98.2,743.4L99.8,750.2L99.0,759.3L102.8,771.5L102.8,780.6L99.8,789.8L95.2,798.9L93.7,806.5L89.1,817.2L80.0,823.2L67.8,827.0L52.6,826.3L40.4,824.8L28.3,820.2L25.2,811.1L28.3,800.4L32.1,789.8L26.7,780.6L25.2,768.5L27.5,762.4Z" fill="#cc72aa" stroke="none" stroke-width="1"/><path d="M111.1,766.4L121.2,766.4L131.4,770.4L145.6,772.5L157.7,775.5L169.9,773.5L182.1,769.4L200.3,767.4L202.4,780.6L201.4,794.8L198.3,802.9L200.3,811.0L195.3,817.1L192.2,821.1L174.0,823.2L159.8,824.2L151.7,821.1L135.4,822.2L111.1,823.2Z" fill="#c264a4" stroke="none" stroke-width="1"/><path d="M211.5,758.3L222.6,748.1L234.8,752.2L251.0,755.2L271.3,761.3L291.6,765.4L298.7,763.3L294.7,774.5L296.7,790.7L298.7,806.9L295.7,820.1L279.4,825.2L259.2,826.2L238.9,825.2L218.6,822.2L209.5,817.1L210.5,804.9L216.6,801.9L211.5,792.7L210.5,774.5Z" fill="#9a5bab" stroke="none" stroke-width="1"/><g clip-path="url(#c2)"><path d="M105,760 L134,760 A22,26 0 0 1 134,823 L105,830Z" fill="#8a58a5"/><path d="M134,771 A22.5,26.5 0 0 1 134,823.5" stroke="#cdaed3" stroke-width="3.2" fill="none"/><ellipse cx="132.9" cy="796.8" rx="21" ry="24.5" fill="#8b57a6"/><path d="M150,772 L160,776 L158,824 L150,824Z" fill="#c898c8" opacity="0.6"/></g><g clip-path="url(#c1)"><ellipse cx="50" cy="800" rx="3" ry="7" fill="#c96a5a" opacity="0.85"/><ellipse cx="66" cy="806" rx="4.5" ry="4" fill="#c96a5a" opacity="0.85"/><path d="M27,762 Q45,757 82,759" stroke="#a65a98" stroke-width="0.9" fill="none"/></g><g clip-path="url(#c3)"><path d="M222,750 Q236,770 250,800" stroke="#c6a6d2" stroke-width="1.3" fill="none"/><path d="M265,793 Q285,800 298,815" stroke="#c6a6d2" stroke-width="1.3" fill="none"/><path d="M208,818 Q250,828 297,820" stroke="#7a3d90" stroke-width="2" fill="none"/></g><defs><filter id="nzl" x="0" y="0" width="1" height="1"><feTurbulence type="fractalNoise" baseFrequency="0.7" numOctaves="2" seed="4"/><feColorMatrix type="matrix" values="0 0 0 0 1  0 0 0 0 0.92  0 0 0 0 1  2.2 0 0 0 -1.05"/></filter><filter id="nzd" x="0" y="0" width="1" height="1"><feTurbulence type="fractalNoise" baseFrequency="0.55" numOctaves="2" seed="9"/><feColorMatrix type="matrix" values="0 0 0 0 0.35  0 0 0 0 0.1  0 0 0 0 0.4  2.2 0 0 0 -1.1"/></filter></defs><g clip-path="url(#c1)"><rect x="24" y="742" width="81" height="87" filter="url(#nzl)" opacity="0.45"/><rect x="24" y="742" width="81" height="87" filter="url(#nzd)" opacity="0.6"/></g><g clip-path="url(#c2)"><rect x="110" y="765" width="94" height="61" filter="url(#nzl)" opacity="0.45"/><rect x="110" y="765" width="94" height="61" filter="url(#nzd)" opacity="0.6"/></g><g clip-path="url(#c3)"><rect x="208" y="746" width="92" height="83" filter="url(#nzl)" opacity="0.45"/><rect x="208" y="746" width="92" height="83" filter="url(#nzd)" opacity="0.6"/></g><g clip-path="url(#c1)"><circle cx="60.7" cy="790.6" r="0.5" fill="#ffffff"/><circle cx="92.5" cy="759.1" r="0.6" fill="#ffffff"/><circle cx="87.6" cy="751.0" r="0.4" fill="#ffffff"/><circle cx="67.6" cy="818.7" r="0.5" fill="#f0c8e0"/><circle cx="56.3" cy="781.5" r="0.5" fill="#f0c8e0"/><circle cx="90.7" cy="748.4" r="0.4" fill="#f0c8e0"/><circle cx="44.1" cy="745.6" r="0.4" fill="#ffffff"/><circle cx="71.7" cy="759.6" r="0.6" fill="#f0c8e0"/><circle cx="64.5" cy="799.3" r="0.6" fill="#ffffff"/><circle cx="57.1" cy="789.9" r="0.6" fill="#f0c8e0"/><circle cx="49.9" cy="762.5" r="0.3" fill="#ffffff"/><circle cx="69.5" cy="752.2" r="0.6" fill="#f0c8e0"/><circle cx="55.5" cy="824.4" r="0.4" fill="#f0c8e0"/><circle cx="98.2" cy="747.4" r="0.7" fill="#ffffff"/><circle cx="56.4" cy="749.2" r="0.6" fill="#f0c8e0"/><circle cx="46.3" cy="750.4" r="0.3" fill="#ffffff"/><circle cx="57.4" cy="821.4" r="0.4" fill="#f0c8e0"/><circle cx="33.0" cy="748.1" r="0.4" fill="#ffffff"/><circle cx="69.2" cy="781.0" r="0.7" fill="#f0c8e0"/><circle cx="85.8" cy="778.6" r="0.3" fill="#ffffff"/><circle cx="58.2" cy="761.1" r="0.6" fill="#ffffff"/><circle cx="102.0" cy="793.4" r="0.4" fill="#f0c8e0"/><circle cx="56.1" cy="815.6" r="0.3" fill="#f0c8e0"/><circle cx="36.6" cy="780.5" r="0.6" fill="#f0c8e0"/><circle cx="51.0" cy="768.2" r="0.3" fill="#f0c8e0"/><circle cx="41.5" cy="797.1" r="0.5" fill="#f0c8e0"/><circle cx="54.4" cy="781.5" r="0.6" fill="#ffffff"/><circle cx="35.7" cy="775.8" r="0.4" fill="#f0c8e0"/><circle cx="43.0" cy="794.9" r="0.4" fill="#f0c8e0"/><circle cx="74.7" cy="790.1" r="0.7" fill="#ffffff"/><circle cx="72.7" cy="778.8" r="0.3" fill="#f0c8e0"/><circle cx="65.5" cy="764.7" r="0.4" fill="#ffffff"/><circle cx="90.1" cy="793.7" r="0.5" fill="#ffffff"/><circle cx="98.4" cy="826.1" r="0.4" fill="#f0c8e0"/><circle cx="69.2" cy="815.5" r="0.4" fill="#f0c8e0"/><circle cx="97.5" cy="760.3" r="0.3" fill="#f0c8e0"/><circle cx="57.5" cy="764.2" r="0.4" fill="#f0c8e0"/><circle cx="54.1" cy="791.6" r="0.3" fill="#f0c8e0"/><circle cx="35.9" cy="781.3" r="0.6" fill="#ffffff"/><circle cx="79.6" cy="792.7" r="0.5" fill="#f0c8e0"/><circle cx="98.0" cy="783.4" r="0.6" fill="#ffffff"/><circle cx="101.1" cy="744.8" r="0.5" fill="#f0c8e0"/><circle cx="82.7" cy="770.1" r="0.3" fill="#f0c8e0"/><circle cx="68.1" cy="805.6" r="0.6" fill="#f0c8e0"/><circle cx="97.3" cy="772.9" r="0.7" fill="#ffffff"/><circle cx="93.8" cy="778.5" r="0.6" fill="#f0c8e0"/><circle cx="70.3" cy="796.1" r="0.5" fill="#ffffff"/><circle cx="26.0" cy="749.1" r="0.6" fill="#f0c8e0"/><circle cx="103.5" cy="817.8" r="0.5" fill="#ffffff"/><circle cx="83.1" cy="792.4" r="0.5" fill="#ffffff"/><circle cx="67.8" cy="787.1" r="0.4" fill="#f0c8e0"/><circle cx="31.9" cy="744.9" r="0.5" fill="#f0c8e0"/><circle cx="73.5" cy="821.2" r="0.7" fill="#ffffff"/><circle cx="54.1" cy="755.2" r="0.5" fill="#f0c8e0"/><circle cx="84.5" cy="772.1" r="0.5" fill="#ffffff"/><circle cx="44.1" cy="777.4" r="0.4" fill="#ffffff"/><circle cx="59.0" cy="811.5" r="0.7" fill="#f0c8e0"/><circle cx="55.4" cy="792.6" r="0.4" fill="#ffffff"/><circle cx="35.6" cy="772.8" r="0.6" fill="#f0c8e0"/><circle cx="100.1" cy="766.5" r="0.3" fill="#f0c8e0"/><circle cx="62.2" cy="821.7" r="0.5" fill="#ffffff"/><circle cx="66.1" cy="800.1" r="0.4" fill="#ffffff"/><circle cx="90.5" cy="766.6" r="0.6" fill="#f0c8e0"/><circle cx="47.2" cy="773.1" r="0.6" fill="#f0c8e0"/><circle cx="57.0" cy="759.1" r="0.4" fill="#ffffff"/><circle cx="36.1" cy="747.0" r="0.5" fill="#f0c8e0"/><circle cx="74.8" cy="798.7" r="0.7" fill="#ffffff"/><circle cx="79.1" cy="759.9" r="0.4" fill="#ffffff"/><circle cx="81.4" cy="807.2" r="0.4" fill="#f0c8e0"/><circle cx="46.5" cy="772.4" r="0.5" fill="#f0c8e0"/><circle cx="87.6" cy="820.0" r="0.5" fill="#f0c8e0"/><circle cx="95.5" cy="776.0" r="0.5" fill="#ffffff"/><circle cx="74.4" cy="820.3" r="0.5" fill="#ffffff"/><circle cx="76.6" cy="785.7" r="0.5" fill="#ffffff"/><circle cx="76.5" cy="760.4" r="0.4" fill="#f0c8e0"/><circle cx="96.1" cy="826.3" r="0.5" fill="#ffffff"/><circle cx="87.5" cy="770.2" r="0.4" fill="#f0c8e0"/><circle cx="31.5" cy="780.5" r="0.6" fill="#ffffff"/><circle cx="63.5" cy="745.4" r="0.5" fill="#f0c8e0"/><circle cx="27.8" cy="788.3" r="0.5" fill="#f0c8e0"/></g><g clip-path="url(#c2)"><circle cx="203.0" cy="819.0" r="0.7" fill="#ffffff"/><circle cx="155.8" cy="821.9" r="0.6" fill="#f0d0ea"/><circle cx="150.9" cy="798.5" r="0.5" fill="#f0d0ea"/><circle cx="188.5" cy="798.6" r="0.6" fill="#ffffff"/><circle cx="198.8" cy="817.2" r="0.4" fill="#f0d0ea"/><circle cx="123.1" cy="797.7" r="0.5" fill="#ffffff"/><circle cx="128.7" cy="797.2" r="0.5" fill="#f0d0ea"/><circle cx="112.6" cy="823.2" r="0.5" fill="#ffffff"/><circle cx="202.0" cy="772.3" r="0.6" fill="#f0d0ea"/><circle cx="116.1" cy="797.3" r="0.7" fill="#ffffff"/><circle cx="184.4" cy="789.2" r="0.5" fill="#f0d0ea"/><circle cx="121.8" cy="791.0" r="0.5" fill="#ffffff"/><circle cx="120.1" cy="790.2" r="0.7" fill="#f0d0ea"/><circle cx="122.0" cy="811.8" r="0.3" fill="#f0d0ea"/><circle cx="124.5" cy="765.7" r="0.4" fill="#ffffff"/><circle cx="143.0" cy="802.2" r="0.5" fill="#f0d0ea"/><circle cx="164.1" cy="816.1" r="0.6" fill="#ffffff"/><circle cx="175.2" cy="817.7" r="0.5" fill="#f0d0ea"/><circle cx="148.4" cy="796.8" r="0.5" fill="#f0d0ea"/><circle cx="190.3" cy="797.0" r="0.5" fill="#f0d0ea"/><circle cx="189.2" cy="801.7" r="0.4" fill="#f0d0ea"/><circle cx="178.9" cy="813.6" r="0.4" fill="#f0d0ea"/><circle cx="139.3" cy="820.4" r="0.6" fill="#f0d0ea"/><circle cx="128.1" cy="770.8" r="0.4" fill="#f0d0ea"/><circle cx="118.2" cy="788.3" r="0.6" fill="#ffffff"/><circle cx="149.2" cy="812.4" r="0.4" fill="#f0d0ea"/><circle cx="168.4" cy="812.9" r="0.4" fill="#f0d0ea"/><circle cx="173.5" cy="819.7" r="0.3" fill="#ffffff"/><circle cx="157.0" cy="810.5" r="0.6" fill="#f0d0ea"/><circle cx="154.8" cy="766.5" r="0.4" fill="#ffffff"/><circle cx="127.2" cy="777.2" r="0.7" fill="#f0d0ea"/><circle cx="196.2" cy="770.7" r="0.4" fill="#f0d0ea"/><circle cx="173.3" cy="769.7" r="0.4" fill="#f0d0ea"/><circle cx="153.4" cy="795.9" r="0.4" fill="#ffffff"/><circle cx="144.7" cy="803.0" r="0.6" fill="#f0d0ea"/><circle cx="126.9" cy="792.2" r="0.5" fill="#ffffff"/><circle cx="128.1" cy="774.9" r="0.4" fill="#f0d0ea"/><circle cx="117.9" cy="815.5" r="0.5" fill="#ffffff"/><circle cx="127.8" cy="800.1" r="0.6" fill="#ffffff"/><circle cx="134.0" cy="819.7" r="0.6" fill="#f0d0ea"/><circle cx="147.7" cy="818.8" r="0.6" fill="#ffffff"/><circle cx="181.2" cy="789.3" r="0.3" fill="#f0d0ea"/><circle cx="141.8" cy="793.1" r="0.7" fill="#f0d0ea"/><circle cx="202.1" cy="819.2" r="0.4" fill="#f0d0ea"/><circle cx="197.9" cy="805.0" r="0.4" fill="#ffffff"/><circle cx="147.8" cy="775.9" r="0.5" fill="#f0d0ea"/><circle cx="203.0" cy="803.5" r="0.6" fill="#f0d0ea"/><circle cx="201.1" cy="766.4" r="0.6" fill="#f0d0ea"/><circle cx="133.9" cy="789.1" r="0.6" fill="#f0d0ea"/><circle cx="170.3" cy="765.6" r="0.4" fill="#ffffff"/><circle cx="194.2" cy="798.0" r="0.7" fill="#ffffff"/><circle cx="162.8" cy="824.7" r="0.6" fill="#ffffff"/><circle cx="117.1" cy="800.9" r="0.5" fill="#f0d0ea"/><circle cx="197.3" cy="788.2" r="0.6" fill="#f0d0ea"/><circle cx="160.4" cy="800.8" r="0.7" fill="#ffffff"/><circle cx="149.1" cy="796.6" r="0.4" fill="#ffffff"/><circle cx="136.6" cy="804.3" r="0.6" fill="#ffffff"/><circle cx="179.5" cy="766.6" r="0.5" fill="#f0d0ea"/><circle cx="168.9" cy="789.5" r="0.3" fill="#ffffff"/><circle cx="139.3" cy="788.9" r="0.3" fill="#ffffff"/></g><g clip-path="url(#c3)"><circle cx="291.4" cy="781.8" r="0.4" fill="#ffffff"/><circle cx="277.8" cy="750.7" r="0.7" fill="#e0c8ec"/><circle cx="274.8" cy="784.9" r="0.5" fill="#e0c8ec"/><circle cx="219.5" cy="797.6" r="0.3" fill="#ffffff"/><circle cx="287.4" cy="775.9" r="0.3" fill="#e0c8ec"/><circle cx="249.3" cy="801.1" r="0.5" fill="#ffffff"/><circle cx="267.2" cy="802.2" r="0.6" fill="#ffffff"/><circle cx="257.3" cy="827.8" r="0.6" fill="#ffffff"/><circle cx="230.7" cy="756.2" r="0.6" fill="#ffffff"/><circle cx="265.9" cy="776.1" r="0.5" fill="#ffffff"/><circle cx="275.0" cy="803.6" r="0.6" fill="#e0c8ec"/><circle cx="277.6" cy="762.4" r="0.5" fill="#e0c8ec"/><circle cx="268.4" cy="762.9" r="0.6" fill="#e0c8ec"/><circle cx="209.9" cy="768.0" r="0.5" fill="#e0c8ec"/><circle cx="218.3" cy="790.9" r="0.6" fill="#e0c8ec"/><circle cx="292.1" cy="760.0" r="0.6" fill="#e0c8ec"/><circle cx="243.0" cy="785.8" r="0.4" fill="#e0c8ec"/><circle cx="254.0" cy="757.8" r="0.6" fill="#e0c8ec"/><circle cx="249.7" cy="813.6" r="0.5" fill="#e0c8ec"/><circle cx="277.0" cy="778.6" r="0.4" fill="#e0c8ec"/><circle cx="268.5" cy="827.1" r="0.4" fill="#ffffff"/><circle cx="278.1" cy="813.9" r="0.5" fill="#e0c8ec"/><circle cx="242.6" cy="754.9" r="0.3" fill="#ffffff"/><circle cx="216.6" cy="792.7" r="0.6" fill="#ffffff"/><circle cx="251.2" cy="813.7" r="0.3" fill="#e0c8ec"/><circle cx="228.4" cy="800.6" r="0.6" fill="#e0c8ec"/><circle cx="254.0" cy="808.9" r="0.4" fill="#ffffff"/><circle cx="222.0" cy="776.0" r="0.4" fill="#ffffff"/><circle cx="219.7" cy="804.5" r="0.5" fill="#ffffff"/><circle cx="282.1" cy="771.7" r="0.4" fill="#ffffff"/><circle cx="297.1" cy="806.1" r="0.3" fill="#e0c8ec"/><circle cx="284.4" cy="749.0" r="0.5" fill="#ffffff"/><circle cx="281.4" cy="806.8" r="0.6" fill="#ffffff"/><circle cx="258.2" cy="814.7" r="0.4" fill="#e0c8ec"/><circle cx="278.1" cy="818.4" r="0.6" fill="#ffffff"/><circle cx="229.1" cy="751.7" r="0.5" fill="#e0c8ec"/><circle cx="296.9" cy="799.7" r="0.3" fill="#ffffff"/><circle cx="258.8" cy="810.8" r="0.4" fill="#e0c8ec"/><circle cx="233.9" cy="755.5" r="0.3" fill="#ffffff"/><circle cx="266.7" cy="758.7" r="0.4" fill="#ffffff"/><circle cx="229.1" cy="809.0" r="0.6" fill="#ffffff"/><circle cx="244.9" cy="774.4" r="0.6" fill="#ffffff"/><circle cx="253.9" cy="790.5" r="0.6" fill="#e0c8ec"/><circle cx="292.3" cy="780.3" r="0.6" fill="#ffffff"/><circle cx="282.3" cy="814.5" r="0.7" fill="#ffffff"/><circle cx="267.3" cy="789.4" r="0.6" fill="#e0c8ec"/><circle cx="247.4" cy="781.1" r="0.4" fill="#e0c8ec"/><circle cx="223.8" cy="798.4" r="0.4" fill="#e0c8ec"/><circle cx="244.4" cy="789.9" r="0.7" fill="#ffffff"/><circle cx="214.4" cy="772.0" r="0.4" fill="#e0c8ec"/><circle cx="223.2" cy="821.5" r="0.6" fill="#e0c8ec"/><circle cx="210.6" cy="786.0" r="0.4" fill="#e0c8ec"/><circle cx="227.0" cy="776.1" r="0.5" fill="#e0c8ec"/><circle cx="251.9" cy="788.2" r="0.4" fill="#ffffff"/><circle cx="234.6" cy="761.0" r="0.6" fill="#ffffff"/><circle cx="294.7" cy="791.6" r="0.5" fill="#ffffff"/><circle cx="245.6" cy="824.4" r="0.5" fill="#e0c8ec"/><circle cx="229.1" cy="751.0" r="0.6" fill="#e0c8ec"/><circle cx="244.0" cy="789.7" r="0.6" fill="#ffffff"/><circle cx="214.3" cy="821.9" r="0.6" fill="#e0c8ec"/><circle cx="291.4" cy="783.5" r="0.6" fill="#e0c8ec"/><circle cx="264.2" cy="759.7" r="0.6" fill="#e0c8ec"/><circle cx="222.2" cy="820.6" r="0.6" fill="#e0c8ec"/><circle cx="299.4" cy="768.6" r="0.4" fill="#e0c8ec"/><circle cx="279.1" cy="747.1" r="0.6" fill="#e0c8ec"/><circle cx="216.5" cy="768.9" r="0.7" fill="#e0c8ec"/><circle cx="272.1" cy="753.7" r="0.3" fill="#ffffff"/><circle cx="226.1" cy="762.6" r="0.6" fill="#e0c8ec"/><circle cx="249.1" cy="750.0" r="0.5" fill="#ffffff"/><circle cx="223.3" cy="814.4" r="0.4" fill="#ffffff"/></g><defs><clipPath id="s1"><path d="M30.2,853.3L37.3,848.2L55.6,845.1L75.9,844.1L95.1,841.1L98.2,847.2L100.2,863.4L103.2,873.5L102.2,887.7L96.1,895.9L91.1,908.0L84.0,920.2L67.7,925.3L45.4,926.3L31.2,922.2L25.1,916.1L26.2,904.0L30.2,893.8L26.2,883.7L25.1,863.4Z"/></clipPath><clipPath id="s2"><path d="M109.3,862.4L120.5,862.4L128.6,866.4L144.8,869.5L157.0,873.5L169.2,870.5L183.4,866.4L197.6,864.4L201.6,871.5L199.6,885.7L201.6,897.9L198.6,912.1L193.5,922.2L177.3,925.3L161.0,925.3L144.8,924.2L128.6,922.2L110.3,924.2L109.3,895.9Z"/></clipPath><clipPath id="s3"><path d="M220.1,846.2L225.7,845.6L233.5,849.5L246.9,851.7L258.0,857.3L271.4,860.7L287.0,862.9L300.4,861.2L295.9,870.7L297.1,883.0L295.9,896.4L298.2,910.9L291.5,920.9L278.1,924.2L266.9,925.4L255.8,923.1L239.0,919.8L222.3,919.8L209.5,919.2L209.5,906.4L216.7,904.2L213.4,890.8L211.2,874.0L209.5,857.3L216.7,852.8Z"/></clipPath></defs><path d="M30.2,853.3L37.3,848.2L55.6,845.1L75.9,844.1L95.1,841.1L98.2,847.2L100.2,863.4L103.2,873.5L102.2,887.7L96.1,895.9L91.1,908.0L84.0,920.2L67.7,925.3L45.4,926.3L31.2,922.2L25.1,916.1L26.2,904.0L30.2,893.8L26.2,883.7L25.1,863.4Z" fill="#2f8a5e" stroke="none" stroke-width="1"/><g clip-path="url(#s1)" fill="#d3a77c"><path d="M24,890 L36,893 L40,905 L34,912 L38,920 L24,922Z"/><ellipse cx="51.5" cy="853" rx="2.5" ry="4.5"/><ellipse cx="80" cy="852" rx="1.8" ry="7"/><path d="M84,868 L96,866 L101,872 L88,873Z"/><ellipse cx="29.2" cy="861" rx="2" ry="2"/><ellipse cx="33.3" cy="883.7" rx="2" ry="1.5"/><ellipse cx="73.8" cy="881.7" rx="1.5" ry="1.5"/><ellipse cx="58" cy="874" rx="1.3" ry="2"/><ellipse cx="37" cy="880" rx="2" ry="1.2"/></g><path d="M109.3,862.4L120.5,862.4L128.6,866.4L144.8,869.5L157.0,873.5L169.2,870.5L183.4,866.4L197.6,864.4L201.6,871.5L199.6,885.7L201.6,897.9L198.6,912.1L193.5,922.2L177.3,925.3L161.0,925.3L144.8,924.2L128.6,922.2L110.3,924.2L109.3,895.9Z" fill="#2f8a5e" stroke="none" stroke-width="1"/><g clip-path="url(#s2)"><path d="M105,858 L128,864 L150,870 L160,875 L166,890 L162,930 L105,930Z" fill="#d3a77c"/><ellipse cx="130" cy="893" rx="21" ry="28" fill="#c8242b"/><path d="M105,858 L121,862 L128,866 L112,880 L112,918 L105,918Z" fill="#c8242b"/><path d="M105,915 L125,918 L140,922 L150,915 L150,930 L105,930Z" fill="#d3a77c"/><path d="M128,921 L152,918 L150,928 L128,928Z" fill="#c8242b"/><path d="M166,874 L175,870 L180,880 L172,892 L168,910 L164,925 L160,925 L158,905Z" fill="#d3a77c"/><path d="M183,866 L190,870 L187,885 L182,880Z" fill="#d3a77c"/><path d="M180,900 L192,896 L195,905 L184,908Z" fill="#d3a77c"/><ellipse cx="157" cy="885" rx="1.5" ry="3" fill="#5b95d6"/><ellipse cx="171" cy="894" rx="3" ry="2.5" fill="#5b95d6"/><ellipse cx="164" cy="901" rx="1.5" ry="2" fill="#5b95d6"/><ellipse cx="181" cy="902" rx="2" ry="1.5" fill="#5b95d6"/><ellipse cx="184" cy="874" rx="1.2" ry="1.5" fill="#5b95d6"/><circle cx="161" cy="912" r="2.6" fill="#fff"/></g><path d="M220.1,846.2L225.7,845.6L233.5,849.5L246.9,851.7L258.0,857.3L271.4,860.7L287.0,862.9L300.4,861.2L295.9,870.7L297.1,883.0L295.9,896.4L298.2,910.9L291.5,920.9L278.1,924.2L266.9,925.4L255.8,923.1L239.0,919.8L222.3,919.8L209.5,919.2L209.5,906.4L216.7,904.2L213.4,890.8L211.2,874.0L209.5,857.3L216.7,852.8Z" fill="#c8242b" stroke="none" stroke-width="1"/><g clip-path="url(#s3)" stroke="#d3a77c" fill="none" stroke-linecap="round" stroke-linejoin="round"><path d="M221.2,847.3 L227.9,857.3 L233.5,871.8" stroke-width="4.2"/><path d="M233.5,871.8 L240.2,878.5 L246.9,884.1 L253.5,890.8 L261.4,895.2" stroke-width="2.2"/><path d="M233.5,855.1 L242.4,859.5 L249.1,865.1" stroke-width="3.6"/><path d="M262.5,862.9 L271.4,865.1 L278.1,866.2" stroke-width="2.6"/><path d="M258,883 L271.4,888.5 L284.8,897.5 L297.1,907.5" stroke-width="3.4"/><path d="M226.8,881.9 L236.8,885.2 L246.9,887.4" stroke-width="1.8"/><path d="M249.1,901.9 L255.8,913.1 L262.5,922" stroke-width="1.6"/><path d="M215,890 L222.3,888.5" stroke-width="1.5"/></g><path d="M238.5,857.5 L245,861.5" stroke="#fff" stroke-width="1.1"/><path d="M283,896 L289,900" stroke="#fff" stroke-width="0.9"/><g clip-path="url(#s1)"><circle cx="56.0" cy="887.8" r="0.7" fill="#3b9468"/><circle cx="29.3" cy="846.4" r="0.4" fill="#d3a77c"/><circle cx="55.1" cy="879.7" r="0.7" fill="#d3a77c"/><circle cx="25.0" cy="872.4" r="0.5" fill="#3b9468"/><circle cx="68.6" cy="879.4" r="0.7" fill="#d3a77c"/><circle cx="90.7" cy="901.9" r="0.5" fill="#d3a77c"/><circle cx="53.7" cy="886.4" r="0.8" fill="#3b9468"/><circle cx="83.6" cy="887.8" r="0.5" fill="#d3a77c"/><circle cx="39.8" cy="902.9" r="0.5" fill="#3b9468"/><circle cx="45.6" cy="880.4" r="0.6" fill="#3b9468"/><circle cx="54.2" cy="848.8" r="0.5" fill="#d3a77c"/><circle cx="73.8" cy="855.4" r="0.6" fill="#d3a77c"/><circle cx="90.1" cy="891.0" r="0.4" fill="#d3a77c"/><circle cx="26.6" cy="924.9" r="0.6" fill="#3b9468"/><circle cx="29.7" cy="919.2" r="0.8" fill="#3b9468"/><circle cx="35.0" cy="857.7" r="0.7" fill="#d3a77c"/><circle cx="54.5" cy="868.5" r="0.6" fill="#3b9468"/><circle cx="81.4" cy="892.7" r="0.8" fill="#3b9468"/><circle cx="86.4" cy="896.8" r="0.5" fill="#d3a77c"/><circle cx="38.9" cy="866.4" r="0.4" fill="#3b9468"/><circle cx="53.8" cy="883.8" r="0.7" fill="#3b9468"/><circle cx="72.3" cy="853.6" r="0.6" fill="#3b9468"/><circle cx="51.9" cy="883.0" r="0.6" fill="#d3a77c"/><circle cx="39.7" cy="920.3" r="0.6" fill="#d3a77c"/><circle cx="26.1" cy="896.7" r="0.5" fill="#d3a77c"/><circle cx="61.8" cy="875.9" r="0.5" fill="#3b9468"/><circle cx="97.4" cy="871.1" r="0.8" fill="#3b9468"/><circle cx="59.7" cy="902.8" r="0.8" fill="#d3a77c"/><circle cx="66.9" cy="888.2" r="0.5" fill="#3b9468"/><circle cx="82.9" cy="917.1" r="0.6" fill="#3b9468"/><circle cx="33.7" cy="910.9" r="0.7" fill="#3b9468"/><circle cx="52.7" cy="905.2" r="0.7" fill="#3b9468"/><circle cx="38.7" cy="887.1" r="0.6" fill="#d3a77c"/><circle cx="55.9" cy="907.3" r="0.5" fill="#d3a77c"/><circle cx="77.0" cy="903.4" r="0.6" fill="#3b9468"/><circle cx="74.6" cy="905.6" r="0.5" fill="#d3a77c"/><circle cx="61.0" cy="852.3" r="0.4" fill="#3b9468"/><circle cx="56.1" cy="868.9" r="0.5" fill="#d3a77c"/><circle cx="68.9" cy="868.6" r="0.7" fill="#d3a77c"/><circle cx="86.2" cy="874.7" r="0.6" fill="#3b9468"/><circle cx="61.1" cy="875.4" r="0.7" fill="#3b9468"/><circle cx="62.4" cy="925.5" r="0.7" fill="#3b9468"/><circle cx="33.3" cy="849.9" r="0.6" fill="#3b9468"/><circle cx="58.1" cy="917.8" r="0.8" fill="#3b9468"/><circle cx="47.4" cy="893.0" r="0.7" fill="#3b9468"/><circle cx="71.2" cy="904.7" r="0.8" fill="#3b9468"/><circle cx="93.3" cy="861.0" r="0.5" fill="#3b9468"/><circle cx="93.0" cy="923.6" r="0.7" fill="#3b9468"/><circle cx="65.6" cy="860.6" r="0.7" fill="#3b9468"/><circle cx="98.3" cy="915.7" r="0.7" fill="#3b9468"/><circle cx="57.3" cy="909.3" r="0.7" fill="#d3a77c"/><circle cx="57.3" cy="850.6" r="0.4" fill="#d3a77c"/><circle cx="86.6" cy="850.6" r="0.4" fill="#3b9468"/><circle cx="43.3" cy="865.7" r="0.5" fill="#3b9468"/><circle cx="58.8" cy="878.7" r="0.5" fill="#3b9468"/><circle cx="78.7" cy="859.8" r="0.4" fill="#3b9468"/><circle cx="95.0" cy="866.5" r="0.5" fill="#3b9468"/><circle cx="85.4" cy="906.8" r="0.5" fill="#d3a77c"/><circle cx="91.9" cy="899.6" r="0.5" fill="#d3a77c"/><circle cx="90.2" cy="870.5" r="0.4" fill="#3b9468"/></g><g clip-path="url(#s3)"><circle cx="266.8" cy="902.2" r="0.6" fill="#d3a77c"/><circle cx="230.5" cy="922.9" r="0.7" fill="#d3a77c"/><circle cx="236.9" cy="912.1" r="0.8" fill="#e0b894"/><circle cx="273.9" cy="856.1" r="0.6" fill="#e0b894"/><circle cx="224.4" cy="915.6" r="0.7" fill="#d3a77c"/><circle cx="226.9" cy="859.8" r="0.6" fill="#d3a77c"/><circle cx="235.9" cy="867.4" r="0.7" fill="#d3a77c"/><circle cx="229.8" cy="869.7" r="0.7" fill="#d3a77c"/><circle cx="234.2" cy="897.5" r="0.6" fill="#d3a77c"/><circle cx="215.9" cy="920.2" r="0.6" fill="#d3a77c"/><circle cx="213.1" cy="894.2" r="0.6" fill="#e0b894"/><circle cx="247.5" cy="891.6" r="0.5" fill="#d3a77c"/><circle cx="277.8" cy="865.2" r="0.7" fill="#e0b894"/><circle cx="211.6" cy="909.8" r="0.8" fill="#d3a77c"/><circle cx="212.1" cy="882.9" r="0.4" fill="#e0b894"/><circle cx="290.1" cy="849.9" r="0.7" fill="#d3a77c"/><circle cx="267.7" cy="874.5" r="0.8" fill="#e0b894"/><circle cx="256.0" cy="886.5" r="0.7" fill="#d3a77c"/><circle cx="279.2" cy="854.2" r="0.5" fill="#e0b894"/><circle cx="249.1" cy="908.4" r="0.5" fill="#d3a77c"/><circle cx="258.5" cy="914.9" r="0.5" fill="#e0b894"/><circle cx="227.4" cy="924.6" r="0.7" fill="#d3a77c"/><circle cx="288.4" cy="859.8" r="0.7" fill="#d3a77c"/><circle cx="264.4" cy="911.1" r="0.7" fill="#e0b894"/><circle cx="287.0" cy="847.5" r="0.8" fill="#d3a77c"/><circle cx="260.8" cy="889.5" r="0.7" fill="#d3a77c"/><circle cx="213.9" cy="879.9" r="0.8" fill="#e0b894"/><circle cx="276.2" cy="909.0" r="0.4" fill="#e0b894"/><circle cx="283.7" cy="859.1" r="0.5" fill="#e0b894"/><circle cx="254.2" cy="899.0" r="0.4" fill="#e0b894"/><circle cx="246.4" cy="874.9" r="0.7" fill="#d3a77c"/><circle cx="296.1" cy="855.5" r="0.5" fill="#d3a77c"/><circle cx="250.4" cy="906.1" r="0.4" fill="#d3a77c"/><circle cx="246.3" cy="888.1" r="0.6" fill="#d3a77c"/><circle cx="236.1" cy="879.8" r="0.8" fill="#d3a77c"/><circle cx="270.9" cy="903.8" r="0.5" fill="#d3a77c"/><circle cx="219.8" cy="915.1" r="0.6" fill="#e0b894"/><circle cx="293.9" cy="874.8" r="0.8" fill="#e0b894"/><circle cx="293.0" cy="862.9" r="0.6" fill="#d3a77c"/><circle cx="268.1" cy="849.8" r="0.7" fill="#e0b894"/><circle cx="292.0" cy="917.5" r="0.6" fill="#d3a77c"/><circle cx="244.8" cy="914.1" r="0.6" fill="#e0b894"/><circle cx="213.5" cy="879.3" r="0.5" fill="#d3a77c"/><circle cx="259.0" cy="858.4" r="0.6" fill="#d3a77c"/><circle cx="263.0" cy="907.3" r="0.6" fill="#e0b894"/><circle cx="299.4" cy="900.7" r="0.5" fill="#e0b894"/><circle cx="243.8" cy="851.0" r="0.6" fill="#e0b894"/><circle cx="234.0" cy="846.5" r="0.7" fill="#d3a77c"/><circle cx="255.6" cy="891.5" r="0.5" fill="#d3a77c"/><circle cx="241.9" cy="857.6" r="0.5" fill="#e0b894"/><circle cx="230.9" cy="913.8" r="0.4" fill="#d3a77c"/><circle cx="238.3" cy="876.5" r="0.8" fill="#d3a77c"/><circle cx="243.7" cy="866.0" r="0.5" fill="#d3a77c"/><circle cx="264.3" cy="885.1" r="0.5" fill="#d3a77c"/><circle cx="263.2" cy="847.6" r="0.6" fill="#e0b894"/><circle cx="252.6" cy="901.9" r="0.5" fill="#e0b894"/><circle cx="250.1" cy="875.9" r="0.8" fill="#d3a77c"/><circle cx="257.7" cy="881.8" r="0.6" fill="#d3a77c"/><circle cx="287.8" cy="863.5" r="0.6" fill="#e0b894"/><circle cx="264.6" cy="856.5" r="0.7" fill="#d3a77c"/><circle cx="252.9" cy="845.9" r="0.7" fill="#e0b894"/><circle cx="215.1" cy="914.9" r="0.7" fill="#e0b894"/><circle cx="295.9" cy="916.2" r="0.8" fill="#d3a77c"/><circle cx="232.6" cy="910.6" r="0.6" fill="#d3a77c"/><circle cx="214.5" cy="876.4" r="0.5" fill="#e0b894"/><circle cx="273.0" cy="863.2" r="0.5" fill="#e0b894"/><circle cx="278.9" cy="873.8" r="0.6" fill="#d3a77c"/><circle cx="276.6" cy="919.4" r="0.6" fill="#d3a77c"/><circle cx="232.4" cy="914.9" r="0.7" fill="#e0b894"/><circle cx="211.1" cy="877.1" r="0.8" fill="#e0b894"/><circle cx="292.0" cy="867.3" r="0.6" fill="#e0b894"/><circle cx="262.3" cy="883.5" r="0.8" fill="#e0b894"/><circle cx="215.6" cy="847.9" r="0.8" fill="#e0b894"/><circle cx="260.5" cy="866.5" r="0.7" fill="#d3a77c"/><circle cx="244.0" cy="873.0" r="0.4" fill="#e0b894"/><circle cx="273.4" cy="862.8" r="0.7" fill="#d3a77c"/><circle cx="265.5" cy="878.7" r="0.4" fill="#e0b894"/><circle cx="215.2" cy="883.0" r="0.6" fill="#e0b894"/><circle cx="291.8" cy="848.1" r="0.7" fill="#d3a77c"/><circle cx="233.8" cy="885.6" r="0.8" fill="#e0b894"/><circle cx="222.6" cy="860.8" r="0.5" fill="#d3a77c"/><circle cx="229.0" cy="887.7" r="0.4" fill="#e0b894"/><circle cx="258.8" cy="914.6" r="0.7" fill="#d3a77c"/><circle cx="260.0" cy="913.2" r="0.5" fill="#e0b894"/><circle cx="218.5" cy="846.6" r="0.7" fill="#d3a77c"/><circle cx="271.5" cy="924.0" r="0.5" fill="#d3a77c"/><circle cx="265.6" cy="885.2" r="0.6" fill="#e0b894"/><circle cx="235.0" cy="906.4" r="0.5" fill="#e0b894"/><circle cx="231.7" cy="871.6" r="0.8" fill="#d3a77c"/><circle cx="276.1" cy="917.0" r="0.8" fill="#d3a77c"/><circle cx="289.6" cy="870.4" r="0.6" fill="#e0b894"/><circle cx="270.8" cy="848.3" r="0.8" fill="#e0b894"/><circle cx="213.9" cy="865.8" r="0.5" fill="#e0b894"/><circle cx="266.8" cy="875.2" r="0.5" fill="#e0b894"/><circle cx="286.9" cy="861.8" r="0.7" fill="#d3a77c"/><circle cx="247.3" cy="903.0" r="0.8" fill="#e0b894"/><circle cx="220.4" cy="875.9" r="0.5" fill="#e0b894"/><circle cx="225.8" cy="846.1" r="0.5" fill="#d3a77c"/><circle cx="233.7" cy="865.7" r="0.6" fill="#e0b894"/><circle cx="270.8" cy="856.4" r="0.7" fill="#d3a77c"/><circle cx="219.8" cy="848.5" r="0.6" fill="#e0b894"/><circle cx="258.0" cy="910.7" r="0.5" fill="#e0b894"/><circle cx="211.4" cy="889.5" r="0.5" fill="#e0b894"/><circle cx="215.1" cy="881.0" r="0.5" fill="#e0b894"/><circle cx="274.7" cy="878.5" r="0.8" fill="#d3a77c"/><circle cx="244.4" cy="901.9" r="0.8" fill="#e0b894"/><circle cx="222.4" cy="859.4" r="0.7" fill="#d3a77c"/><circle cx="290.6" cy="917.2" r="0.5" fill="#e0b894"/><circle cx="238.5" cy="846.6" r="0.5" fill="#d3a77c"/><circle cx="245.4" cy="871.4" r="0.6" fill="#d3a77c"/><circle cx="242.3" cy="866.3" r="0.5" fill="#d3a77c"/><circle cx="209.6" cy="907.4" r="0.4" fill="#d3a77c"/><circle cx="239.6" cy="856.5" r="0.8" fill="#d3a77c"/><circle cx="246.2" cy="847.6" r="0.8" fill="#e0b894"/><circle cx="245.0" cy="849.7" r="0.5" fill="#e0b894"/><circle cx="294.4" cy="915.9" r="0.7" fill="#e0b894"/><circle cx="294.6" cy="848.9" r="0.8" fill="#d3a77c"/><circle cx="258.0" cy="900.3" r="0.6" fill="#e0b894"/><circle cx="277.6" cy="870.4" r="0.4" fill="#e0b894"/><circle cx="228.1" cy="923.7" r="0.7" fill="#d3a77c"/><circle cx="233.1" cy="865.1" r="0.6" fill="#e0b894"/><circle cx="282.1" cy="912.9" r="0.8" fill="#d3a77c"/><circle cx="252.9" cy="913.9" r="0.5" fill="#e0b894"/><circle cx="291.8" cy="846.9" r="0.5" fill="#d3a77c"/><circle cx="244.3" cy="875.3" r="0.8" fill="#e0b894"/><circle cx="242.2" cy="897.3" r="0.5" fill="#e0b894"/><circle cx="215.1" cy="898.6" r="0.5" fill="#d3a77c"/><circle cx="228.4" cy="859.8" r="0.7" fill="#d3a77c"/><circle cx="258.7" cy="900.8" r="0.6" fill="#d3a77c"/><circle cx="223.2" cy="875.6" r="0.6" fill="#d3a77c"/><circle cx="209.9" cy="886.2" r="0.4" fill="#e0b894"/><circle cx="295.5" cy="913.9" r="0.4" fill="#d3a77c"/><circle cx="224.9" cy="850.5" r="0.7" fill="#d3a77c"/><circle cx="238.3" cy="883.8" r="0.6" fill="#d3a77c"/><circle cx="280.0" cy="917.8" r="0.4" fill="#e0b894"/><circle cx="244.5" cy="920.5" r="0.7" fill="#d3a77c"/><circle cx="256.8" cy="845.8" r="0.8" fill="#e0b894"/><circle cx="214.0" cy="895.5" r="0.8" fill="#e0b894"/><circle cx="286.9" cy="896.5" r="0.5" fill="#d3a77c"/><circle cx="276.2" cy="906.0" r="0.7" fill="#e0b894"/><circle cx="247.2" cy="876.5" r="0.6" fill="#d3a77c"/><circle cx="258.2" cy="848.5" r="0.6" fill="#d3a77c"/><circle cx="250.1" cy="868.3" r="0.7" fill="#d3a77c"/><circle cx="293.8" cy="857.5" r="0.5" fill="#e0b894"/><circle cx="232.3" cy="896.1" r="0.7" fill="#d3a77c"/><circle cx="299.0" cy="878.0" r="0.7" fill="#d3a77c"/><circle cx="290.7" cy="854.1" r="0.8" fill="#d3a77c"/><circle cx="268.1" cy="921.9" r="0.8" fill="#d3a77c"/><circle cx="255.6" cy="926.5" r="0.5" fill="#d3a77c"/><circle cx="212.5" cy="873.1" r="0.6" fill="#e0b894"/><circle cx="257.8" cy="916.0" r="0.6" fill="#d3a77c"/><circle cx="296.5" cy="864.6" r="0.6" fill="#d3a77c"/><circle cx="280.6" cy="885.2" r="0.4" fill="#d3a77c"/><circle cx="254.2" cy="849.6" r="0.8" fill="#d3a77c"/><circle cx="222.8" cy="875.0" r="0.6" fill="#d3a77c"/><circle cx="293.5" cy="923.3" r="0.8" fill="#d3a77c"/><circle cx="219.7" cy="859.9" r="0.4" fill="#e0b894"/><circle cx="271.1" cy="883.2" r="0.4" fill="#e0b894"/><circle cx="298.9" cy="862.0" r="0.8" fill="#e0b894"/><circle cx="275.2" cy="861.2" r="0.6" fill="#e0b894"/><circle cx="283.3" cy="902.4" r="0.7" fill="#e0b894"/><circle cx="228.0" cy="862.2" r="0.5" fill="#d3a77c"/><circle cx="261.8" cy="848.4" r="0.5" fill="#e0b894"/><circle cx="294.6" cy="895.0" r="0.5" fill="#e0b894"/><circle cx="209.7" cy="850.7" r="0.7" fill="#d3a77c"/><circle cx="241.8" cy="870.4" r="0.5" fill="#e0b894"/><circle cx="215.5" cy="866.8" r="0.8" fill="#e0b894"/><circle cx="246.2" cy="882.5" r="0.8" fill="#d3a77c"/><circle cx="240.5" cy="902.7" r="0.6" fill="#d3a77c"/><circle cx="219.7" cy="855.1" r="0.8" fill="#e0b894"/><circle cx="216.1" cy="898.2" r="0.8" fill="#d3a77c"/><circle cx="244.3" cy="905.9" r="0.6" fill="#d3a77c"/><circle cx="214.8" cy="879.4" r="0.7" fill="#e0b894"/><circle cx="268.9" cy="866.9" r="0.7" fill="#d3a77c"/><circle cx="231.3" cy="878.7" r="0.7" fill="#d3a77c"/><circle cx="287.8" cy="876.8" r="0.6" fill="#e0b894"/><circle cx="283.7" cy="914.7" r="0.6" fill="#d3a77c"/><circle cx="218.0" cy="918.5" r="0.8" fill="#d3a77c"/><circle cx="210.5" cy="847.5" r="0.8" fill="#e0b894"/><circle cx="283.2" cy="916.6" r="0.6" fill="#d3a77c"/><circle cx="241.9" cy="883.1" r="0.6" fill="#e0b894"/><circle cx="268.3" cy="850.0" r="0.8" fill="#d3a77c"/><circle cx="299.3" cy="877.4" r="0.7" fill="#d3a77c"/><circle cx="272.8" cy="926.8" r="0.8" fill="#d3a77c"/><circle cx="268.7" cy="909.8" r="0.6" fill="#d3a77c"/><circle cx="262.2" cy="885.8" r="0.6" fill="#d3a77c"/><circle cx="217.7" cy="910.2" r="0.5" fill="#d3a77c"/><circle cx="268.1" cy="896.1" r="0.7" fill="#e0b894"/><circle cx="297.3" cy="883.8" r="0.6" fill="#d3a77c"/><circle cx="223.2" cy="875.4" r="0.8" fill="#e0b894"/><circle cx="290.5" cy="847.0" r="0.6" fill="#e0b894"/><circle cx="260.1" cy="924.9" r="0.5" fill="#d3a77c"/><circle cx="255.2" cy="855.2" r="0.5" fill="#d3a77c"/><circle cx="217.0" cy="887.0" r="0.6" fill="#e0b894"/><circle cx="231.4" cy="893.4" r="0.4" fill="#e0b894"/><circle cx="228.8" cy="882.0" r="0.6" fill="#d3a77c"/><circle cx="286.4" cy="853.6" r="0.5" fill="#d3a77c"/><circle cx="260.4" cy="859.2" r="0.6" fill="#d3a77c"/><circle cx="210.0" cy="857.6" r="0.7" fill="#d3a77c"/><circle cx="273.8" cy="857.8" r="0.6" fill="#d3a77c"/><circle cx="253.9" cy="919.8" r="0.6" fill="#d3a77c"/><circle cx="236.3" cy="862.6" r="0.7" fill="#d3a77c"/><circle cx="247.1" cy="918.4" r="0.7" fill="#d3a77c"/><circle cx="289.7" cy="922.6" r="0.6" fill="#d3a77c"/><circle cx="236.2" cy="905.6" r="0.5" fill="#e0b894"/><circle cx="216.7" cy="909.9" r="0.6" fill="#e0b894"/><circle cx="248.2" cy="882.0" r="0.5" fill="#d3a77c"/><circle cx="257.3" cy="858.4" r="0.6" fill="#e0b894"/><circle cx="245.4" cy="863.3" r="0.7" fill="#d3a77c"/><circle cx="211.9" cy="874.5" r="0.6" fill="#d3a77c"/><circle cx="256.9" cy="905.1" r="0.6" fill="#e0b894"/><circle cx="296.9" cy="845.6" r="0.8" fill="#e0b894"/><circle cx="242.3" cy="894.0" r="0.8" fill="#e0b894"/><circle cx="228.1" cy="907.5" r="0.5" fill="#d3a77c"/><circle cx="254.3" cy="887.3" r="0.4" fill="#e0b894"/><circle cx="217.4" cy="865.7" r="0.8" fill="#e0b894"/><circle cx="294.9" cy="898.1" r="0.6" fill="#e0b894"/><circle cx="235.0" cy="900.8" r="0.6" fill="#d3a77c"/><circle cx="229.5" cy="865.5" r="0.5" fill="#d3a77c"/><circle cx="283.6" cy="909.6" r="0.4" fill="#e0b894"/><circle cx="278.5" cy="848.9" r="0.6" fill="#d3a77c"/><circle cx="293.4" cy="897.4" r="0.7" fill="#d3a77c"/><circle cx="271.1" cy="862.3" r="0.8" fill="#d3a77c"/><circle cx="252.6" cy="872.5" r="0.5" fill="#d3a77c"/><circle cx="216.6" cy="901.2" r="0.6" fill="#d3a77c"/><circle cx="249.7" cy="880.8" r="0.6" fill="#d3a77c"/><circle cx="290.7" cy="904.7" r="0.8" fill="#d3a77c"/><circle cx="241.4" cy="913.2" r="0.7" fill="#d3a77c"/><circle cx="245.1" cy="901.7" r="0.8" fill="#d3a77c"/><circle cx="228.2" cy="879.0" r="0.8" fill="#d3a77c"/><circle cx="220.2" cy="916.6" r="0.6" fill="#e0b894"/><circle cx="290.6" cy="921.3" r="0.7" fill="#d3a77c"/><circle cx="293.5" cy="885.5" r="0.6" fill="#e0b894"/><circle cx="252.8" cy="890.1" r="0.7" fill="#d3a77c"/><circle cx="238.5" cy="846.2" r="0.7" fill="#d3a77c"/><circle cx="243.3" cy="910.8" r="0.6" fill="#e0b894"/><circle cx="262.6" cy="882.9" r="0.6" fill="#d3a77c"/><circle cx="298.2" cy="871.9" r="0.5" fill="#e0b894"/><circle cx="232.8" cy="904.9" r="0.5" fill="#d3a77c"/><circle cx="214.8" cy="912.6" r="0.5" fill="#e0b894"/><circle cx="228.4" cy="919.5" r="0.7" fill="#d3a77c"/><circle cx="297.8" cy="919.6" r="0.6" fill="#e0b894"/><circle cx="219.7" cy="860.3" r="0.7" fill="#d3a77c"/><circle cx="254.6" cy="857.3" r="0.7" fill="#e0b894"/><circle cx="259.2" cy="872.3" r="0.6" fill="#d3a77c"/><circle cx="297.3" cy="874.3" r="0.4" fill="#e0b894"/><circle cx="280.4" cy="862.9" r="0.8" fill="#d3a77c"/><circle cx="276.1" cy="873.2" r="0.7" fill="#d3a77c"/><circle cx="262.0" cy="918.7" r="0.7" fill="#e0b894"/><circle cx="242.1" cy="923.0" r="0.7" fill="#e0b894"/><circle cx="284.6" cy="925.5" r="0.5" fill="#d3a77c"/><circle cx="210.9" cy="889.1" r="0.7" fill="#e0b894"/><circle cx="235.1" cy="891.0" r="0.6" fill="#e0b894"/><circle cx="233.8" cy="868.4" r="0.8" fill="#e0b894"/><circle cx="222.8" cy="877.0" r="0.7" fill="#d3a77c"/><circle cx="258.5" cy="905.2" r="0.5" fill="#e0b894"/><circle cx="247.9" cy="909.0" r="0.6" fill="#d3a77c"/><circle cx="271.4" cy="873.3" r="0.8" fill="#d3a77c"/><circle cx="255.0" cy="891.4" r="0.8" fill="#e0b894"/><circle cx="215.9" cy="890.1" r="0.5" fill="#d3a77c"/><circle cx="209.2" cy="921.5" r="0.5" fill="#d3a77c"/><circle cx="242.4" cy="874.0" r="0.4" fill="#d3a77c"/><circle cx="269.6" cy="850.6" r="0.6" fill="#d3a77c"/><circle cx="222.0" cy="919.0" r="0.6" fill="#d3a77c"/><circle cx="270.8" cy="852.1" r="0.7" fill="#e0b894"/><circle cx="293.2" cy="917.1" r="0.6" fill="#d3a77c"/><circle cx="253.2" cy="851.5" r="0.4" fill="#e0b894"/><circle cx="294.5" cy="918.7" r="0.5" fill="#d3a77c"/><circle cx="236.3" cy="872.5" r="0.8" fill="#e0b894"/><circle cx="297.8" cy="922.9" r="0.8" fill="#d3a77c"/><circle cx="294.1" cy="846.7" r="0.8" fill="#e0b894"/><circle cx="299.7" cy="891.9" r="0.8" fill="#e0b894"/><circle cx="216.9" cy="887.6" r="0.4" fill="#d3a77c"/><circle cx="236.1" cy="869.7" r="0.6" fill="#d3a77c"/><circle cx="222.6" cy="860.3" r="0.4" fill="#d3a77c"/><circle cx="215.2" cy="910.1" r="0.8" fill="#e0b894"/><circle cx="246.1" cy="872.5" r="0.6" fill="#e0b894"/><circle cx="290.8" cy="864.8" r="0.7" fill="#d3a77c"/><circle cx="256.9" cy="872.5" r="0.6" fill="#e0b894"/><circle cx="230.3" cy="917.3" r="0.5" fill="#d3a77c"/><circle cx="228.2" cy="882.0" r="0.8" fill="#d3a77c"/><circle cx="239.3" cy="864.5" r="0.7" fill="#e0b894"/><circle cx="261.3" cy="892.0" r="0.5" fill="#d3a77c"/><circle cx="230.1" cy="869.7" r="0.7" fill="#e0b894"/><circle cx="227.6" cy="847.8" r="0.6" fill="#d3a77c"/><circle cx="216.2" cy="907.6" r="0.6" fill="#d3a77c"/><circle cx="213.1" cy="890.7" r="0.6" fill="#d3a77c"/><circle cx="241.4" cy="919.7" r="0.8" fill="#e0b894"/><circle cx="247.1" cy="900.0" r="0.6" fill="#d3a77c"/><circle cx="280.9" cy="876.1" r="0.7" fill="#e0b894"/><circle cx="294.9" cy="850.6" r="0.4" fill="#d3a77c"/><circle cx="212.0" cy="923.2" r="0.8" fill="#e0b894"/><circle cx="222.1" cy="861.9" r="0.8" fill="#e0b894"/><circle cx="293.8" cy="873.0" r="0.5" fill="#d3a77c"/><circle cx="274.0" cy="922.5" r="0.5" fill="#d3a77c"/><circle cx="272.8" cy="864.4" r="0.6" fill="#e0b894"/><circle cx="275.1" cy="920.7" r="0.8" fill="#d3a77c"/><circle cx="215.5" cy="860.2" r="0.7" fill="#e0b894"/><circle cx="220.2" cy="871.3" r="0.5" fill="#d3a77c"/><circle cx="256.5" cy="911.9" r="0.7" fill="#e0b894"/><circle cx="256.9" cy="922.7" r="0.7" fill="#d3a77c"/><circle cx="210.5" cy="920.6" r="0.5" fill="#d3a77c"/><circle cx="239.1" cy="891.6" r="0.6" fill="#e0b894"/><circle cx="290.3" cy="894.0" r="0.7" fill="#e0b894"/><circle cx="286.0" cy="883.1" r="0.5" fill="#d3a77c"/><circle cx="251.7" cy="900.6" r="0.7" fill="#e0b894"/><circle cx="245.4" cy="849.3" r="0.4" fill="#d3a77c"/><circle cx="245.5" cy="912.5" r="0.4" fill="#d3a77c"/><circle cx="247.6" cy="923.8" r="0.6" fill="#d3a77c"/><circle cx="225.6" cy="846.2" r="0.8" fill="#e0b894"/><circle cx="239.6" cy="914.5" r="0.7" fill="#e0b894"/><circle cx="231.8" cy="905.9" r="0.6" fill="#d3a77c"/><circle cx="289.4" cy="892.6" r="0.6" fill="#e0b894"/><circle cx="262.4" cy="866.0" r="0.5" fill="#e0b894"/><circle cx="294.2" cy="914.9" r="0.6" fill="#d3a77c"/><circle cx="260.1" cy="920.4" r="0.8" fill="#d3a77c"/><circle cx="237.5" cy="890.5" r="0.5" fill="#e0b894"/><circle cx="295.2" cy="868.3" r="0.7" fill="#d3a77c"/><circle cx="209.3" cy="884.3" r="0.6" fill="#d3a77c"/><circle cx="293.0" cy="887.2" r="0.7" fill="#e0b894"/><circle cx="269.3" cy="877.9" r="0.7" fill="#e0b894"/><circle cx="266.5" cy="882.9" r="0.5" fill="#d3a77c"/><circle cx="267.2" cy="850.1" r="0.8" fill="#d3a77c"/><circle cx="234.5" cy="881.3" r="0.5" fill="#d3a77c"/><circle cx="213.6" cy="892.8" r="0.8" fill="#e0b894"/><circle cx="232.2" cy="919.0" r="0.6" fill="#d3a77c"/><circle cx="259.5" cy="922.6" r="0.8" fill="#e0b894"/><circle cx="222.8" cy="870.9" r="0.8" fill="#e0b894"/><circle cx="267.8" cy="901.5" r="0.8" fill="#e0b894"/><circle cx="298.1" cy="920.2" r="0.8" fill="#d3a77c"/><circle cx="273.8" cy="911.4" r="0.5" fill="#d3a77c"/><circle cx="252.3" cy="903.6" r="0.8" fill="#d3a77c"/><circle cx="211.1" cy="887.0" r="0.6" fill="#e0b894"/><circle cx="267.6" cy="900.4" r="0.8" fill="#e0b894"/><circle cx="267.6" cy="850.3" r="0.4" fill="#d3a77c"/><circle cx="298.4" cy="916.5" r="0.5" fill="#e0b894"/><circle cx="264.5" cy="908.5" r="0.8" fill="#e0b894"/><circle cx="265.7" cy="855.3" r="0.6" fill="#d3a77c"/><circle cx="246.1" cy="877.3" r="0.7" fill="#d3a77c"/><circle cx="294.9" cy="897.4" r="0.5" fill="#e0b894"/><circle cx="273.7" cy="848.2" r="0.6" fill="#d3a77c"/><circle cx="298.1" cy="863.9" r="0.7" fill="#d3a77c"/><circle cx="255.9" cy="870.9" r="0.7" fill="#e0b894"/><circle cx="211.4" cy="866.9" r="0.5" fill="#d3a77c"/><circle cx="293.4" cy="919.7" r="0.6" fill="#e0b894"/><circle cx="261.8" cy="869.8" r="0.7" fill="#e0b894"/><circle cx="239.3" cy="867.9" r="0.4" fill="#e0b894"/><circle cx="217.8" cy="902.8" r="0.6" fill="#d3a77c"/><circle cx="276.8" cy="865.5" r="0.8" fill="#d3a77c"/><circle cx="242.1" cy="880.6" r="0.4" fill="#e0b894"/><circle cx="213.7" cy="874.1" r="0.5" fill="#e0b894"/><circle cx="292.7" cy="909.8" r="0.5" fill="#d3a77c"/><circle cx="248.4" cy="901.2" r="0.7" fill="#e0b894"/><circle cx="247.2" cy="846.0" r="0.5" fill="#d3a77c"/><circle cx="278.7" cy="849.7" r="0.5" fill="#d3a77c"/><circle cx="297.2" cy="909.5" r="0.5" fill="#e0b894"/><circle cx="281.6" cy="848.4" r="0.6" fill="#d3a77c"/><circle cx="248.4" cy="853.7" r="0.5" fill="#e0b894"/><circle cx="232.0" cy="919.2" r="0.4" fill="#d3a77c"/><circle cx="251.3" cy="895.4" r="0.8" fill="#d3a77c"/><circle cx="254.3" cy="909.3" r="0.6" fill="#d3a77c"/><circle cx="268.1" cy="900.9" r="0.4" fill="#e0b894"/><circle cx="273.7" cy="855.5" r="0.7" fill="#d3a77c"/><circle cx="245.6" cy="876.4" r="0.7" fill="#e0b894"/><circle cx="265.3" cy="862.1" r="0.8" fill="#d3a77c"/><circle cx="253.3" cy="893.2" r="0.8" fill="#e0b894"/><circle cx="267.1" cy="872.5" r="0.5" fill="#d3a77c"/><circle cx="287.8" cy="886.7" r="0.7" fill="#e0b894"/><circle cx="288.1" cy="860.7" r="0.8" fill="#d3a77c"/><circle cx="273.4" cy="881.8" r="0.7" fill="#e0b894"/><circle cx="227.6" cy="880.7" r="0.7" fill="#d3a77c"/><circle cx="246.4" cy="869.9" r="0.6" fill="#d3a77c"/><circle cx="252.1" cy="917.1" r="0.7" fill="#e0b894"/><circle cx="270.7" cy="886.4" r="0.8" fill="#e0b894"/><circle cx="215.8" cy="863.6" r="0.7" fill="#d3a77c"/><circle cx="295.4" cy="898.8" r="0.6" fill="#e0b894"/><circle cx="268.5" cy="863.5" r="0.6" fill="#d3a77c"/><circle cx="298.2" cy="873.0" r="0.4" fill="#e0b894"/><circle cx="246.9" cy="907.8" r="0.4" fill="#e0b894"/><circle cx="243.6" cy="915.8" r="0.8" fill="#e0b894"/><circle cx="226.9" cy="919.8" r="0.6" fill="#d3a77c"/><circle cx="213.7" cy="862.7" r="0.4" fill="#e0b894"/><circle cx="298.0" cy="903.4" r="0.7" fill="#e0b894"/><circle cx="261.7" cy="865.6" r="0.6" fill="#e0b894"/><circle cx="298.8" cy="856.2" r="0.8" fill="#e0b894"/><circle cx="255.3" cy="846.8" r="0.6" fill="#e0b894"/><circle cx="254.1" cy="858.7" r="0.7" fill="#e0b894"/><circle cx="235.3" cy="911.1" r="0.7" fill="#e0b894"/><circle cx="217.9" cy="849.0" r="0.6" fill="#e0b894"/><circle cx="299.2" cy="891.7" r="0.6" fill="#e0b894"/><circle cx="278.1" cy="851.2" r="0.6" fill="#e0b894"/><circle cx="224.3" cy="874.8" r="0.6" fill="#d3a77c"/><circle cx="233.9" cy="874.4" r="0.6" fill="#d3a77c"/><circle cx="245.2" cy="878.2" r="0.7" fill="#e0b894"/><circle cx="284.9" cy="895.1" r="0.5" fill="#d3a77c"/><circle cx="219.7" cy="852.0" r="0.7" fill="#d3a77c"/><circle cx="233.1" cy="885.1" r="0.7" fill="#d3a77c"/><circle cx="235.5" cy="872.1" r="0.7" fill="#e0b894"/><circle cx="239.7" cy="917.0" r="0.8" fill="#d3a77c"/><circle cx="272.8" cy="847.3" r="0.7" fill="#e0b894"/><circle cx="298.8" cy="863.3" r="0.7" fill="#d3a77c"/><circle cx="238.1" cy="898.1" r="0.8" fill="#e0b894"/><circle cx="289.7" cy="859.4" r="0.8" fill="#d3a77c"/><circle cx="270.6" cy="859.1" r="0.7" fill="#e0b894"/><circle cx="240.7" cy="908.1" r="0.8" fill="#e0b894"/><circle cx="229.6" cy="874.9" r="0.6" fill="#d3a77c"/><circle cx="269.9" cy="914.7" r="0.7" fill="#d3a77c"/><circle cx="270.9" cy="922.2" r="0.4" fill="#d3a77c"/><circle cx="213.0" cy="874.0" r="0.7" fill="#e0b894"/><circle cx="287.5" cy="850.1" r="0.6" fill="#d3a77c"/><circle cx="291.7" cy="895.4" r="0.4" fill="#e0b894"/><circle cx="222.9" cy="900.6" r="0.6" fill="#d3a77c"/><circle cx="235.3" cy="891.0" r="0.5" fill="#e0b894"/><circle cx="209.3" cy="920.8" r="0.5" fill="#e0b894"/><circle cx="210.5" cy="870.5" r="0.5" fill="#d3a77c"/><circle cx="219.3" cy="914.4" r="0.7" fill="#e0b894"/><circle cx="226.3" cy="889.7" r="0.7" fill="#e0b894"/><circle cx="254.5" cy="878.9" r="0.6" fill="#e0b894"/><circle cx="233.2" cy="881.4" r="0.5" fill="#d3a77c"/><circle cx="236.0" cy="877.1" r="0.7" fill="#d3a77c"/></g><g clip-path="url(#s2)"><circle cx="121.4" cy="873.5" r="0.7" fill="#d3a77c"/><circle cx="139.8" cy="889.3" r="0.6" fill="#d3a77c"/><circle cx="119.1" cy="896.8" r="0.4" fill="#d3a77c"/><circle cx="119.9" cy="920.3" r="0.6" fill="#d3a77c"/><circle cx="122.4" cy="913.7" r="0.8" fill="#d3a77c"/><circle cx="113.0" cy="921.6" r="0.7" fill="#d3a77c"/><circle cx="141.9" cy="904.9" r="0.6" fill="#d3a77c"/><circle cx="149.6" cy="915.8" r="0.6" fill="#d3a77c"/><circle cx="116.9" cy="889.8" r="0.7" fill="#d3a77c"/><circle cx="118.7" cy="888.8" r="0.8" fill="#d3a77c"/><circle cx="146.9" cy="898.9" r="0.5" fill="#d3a77c"/><circle cx="136.3" cy="874.9" r="0.5" fill="#d3a77c"/><circle cx="122.4" cy="872.6" r="0.8" fill="#d3a77c"/><circle cx="117.4" cy="873.3" r="0.7" fill="#d3a77c"/><circle cx="112.3" cy="864.1" r="0.7" fill="#d3a77c"/><circle cx="135.4" cy="906.4" r="0.7" fill="#d3a77c"/><circle cx="149.4" cy="910.3" r="0.5" fill="#d3a77c"/><circle cx="114.6" cy="862.4" r="0.7" fill="#d3a77c"/><circle cx="122.2" cy="914.7" r="0.6" fill="#d3a77c"/><circle cx="135.9" cy="886.9" r="0.5" fill="#d3a77c"/><circle cx="121.2" cy="917.1" r="0.4" fill="#d3a77c"/><circle cx="117.5" cy="876.2" r="0.8" fill="#d3a77c"/><circle cx="136.6" cy="869.2" r="0.8" fill="#d3a77c"/><circle cx="122.8" cy="862.4" r="0.6" fill="#d3a77c"/><circle cx="125.4" cy="893.9" r="0.4" fill="#d3a77c"/><circle cx="124.4" cy="898.5" r="0.6" fill="#d3a77c"/><circle cx="147.7" cy="900.6" r="0.5" fill="#d3a77c"/><circle cx="110.5" cy="901.5" r="0.6" fill="#d3a77c"/><circle cx="129.4" cy="864.6" r="0.5" fill="#d3a77c"/><circle cx="125.3" cy="875.5" r="0.6" fill="#d3a77c"/><circle cx="139.8" cy="907.7" r="0.5" fill="#d3a77c"/><circle cx="112.7" cy="878.6" r="0.8" fill="#d3a77c"/><circle cx="119.7" cy="900.8" r="0.4" fill="#d3a77c"/><circle cx="111.9" cy="912.8" r="0.6" fill="#d3a77c"/><circle cx="119.2" cy="872.8" r="0.4" fill="#d3a77c"/><circle cx="118.0" cy="900.4" r="0.4" fill="#d3a77c"/><circle cx="143.1" cy="909.5" r="0.5" fill="#d3a77c"/><circle cx="132.7" cy="892.5" r="0.4" fill="#d3a77c"/><circle cx="122.3" cy="921.3" r="0.5" fill="#d3a77c"/><circle cx="123.4" cy="862.6" r="0.5" fill="#d3a77c"/><circle cx="121.4" cy="901.9" r="0.6" fill="#d3a77c"/><circle cx="138.3" cy="884.3" r="0.8" fill="#d3a77c"/><circle cx="111.6" cy="879.1" r="0.5" fill="#d3a77c"/><circle cx="149.9" cy="868.0" r="0.7" fill="#d3a77c"/><circle cx="144.6" cy="882.5" r="0.4" fill="#d3a77c"/></g><circle cx="34.5" cy="941.6" r="6.0" fill="#c8242b"/><text x="49.5" y="946.0" font-size="12" text-anchor="start" fill="#000">Tumor</text><circle cx="98.7" cy="941.6" r="6.0" fill="#d3a77c"/><text x="113.7" y="946.0" font-size="12" text-anchor="start" fill="#000">Stromal</text><circle cx="170.7" cy="941.6" r="6.0" fill="#2f8a5e"/><text x="185.7" y="946.0" font-size="12" text-anchor="start" fill="#000">Normal</text><circle cx="238.3" cy="941.6" r="6.0" fill="#5b95d6"/><text x="253.3" y="946.0" font-size="12" text-anchor="start" fill="#000">Immune</text><defs><clipPath id="g1"><path d="M30.2,970.3L37.3,965.2L55.6,962.1L75.9,961.1L95.1,958.1L98.2,964.2L100.2,980.4L103.2,990.5L102.2,1004.7L96.1,1012.9L91.1,1025.0L84.0,1037.2L67.7,1042.3L45.4,1043.3L31.2,1039.2L25.1,1033.1L26.2,1021.0L30.2,1010.8L26.2,1000.7L25.1,980.4Z"/></clipPath><clipPath id="g2"><path d="M109.3,978.4L120.5,978.4L128.6,982.4L144.8,985.5L157.0,989.5L169.2,986.5L183.4,982.4L197.6,980.4L201.6,987.5L199.6,1001.7L201.6,1013.9L198.6,1028.1L193.5,1038.2L177.3,1041.3L161.0,1041.3L144.8,1040.2L128.6,1038.2L110.3,1040.2L109.3,1011.9Z"/></clipPath><clipPath id="g3"><path d="M220.1,962.2L225.7,961.6L233.5,965.5L246.9,967.7L258.0,973.3L271.4,976.7L287.0,978.9L300.4,977.2L295.9,986.7L297.1,999.0L295.9,1012.4L298.2,1026.9L291.5,1036.9L278.1,1040.2L266.9,1041.4L255.8,1039.1L239.0,1035.8L222.3,1035.8L209.5,1035.2L209.5,1022.4L216.7,1020.2L213.4,1006.8L211.2,990.0L209.5,973.3L216.7,968.8Z"/></clipPath></defs><path d="M30.2,970.3L37.3,965.2L55.6,962.1L75.9,961.1L95.1,958.1L98.2,964.2L100.2,980.4L103.2,990.5L102.2,1004.7L96.1,1012.9L91.1,1025.0L84.0,1037.2L67.7,1042.3L45.4,1043.3L31.2,1039.2L25.1,1033.1L26.2,1021.0L30.2,1010.8L26.2,1000.7L25.1,980.4Z" fill="#d9d9db" stroke="none" stroke-width="1"/><path d="M109.3,978.4L120.5,978.4L128.6,982.4L144.8,985.5L157.0,989.5L169.2,986.5L183.4,982.4L197.6,980.4L201.6,987.5L199.6,1001.7L201.6,1013.9L198.6,1028.1L193.5,1038.2L177.3,1041.3L161.0,1041.3L144.8,1040.2L128.6,1038.2L110.3,1040.2L109.3,1011.9Z" fill="#d8d6e2" stroke="none" stroke-width="1"/><path d="M220.1,962.2L225.7,961.6L233.5,965.5L246.9,967.7L258.0,973.3L271.4,976.7L287.0,978.9L300.4,977.2L295.9,986.7L297.1,999.0L295.9,1012.4L298.2,1026.9L291.5,1036.9L278.1,1040.2L266.9,1041.4L255.8,1039.1L239.0,1035.8L222.3,1035.8L209.5,1035.2L209.5,1022.4L216.7,1020.2L213.4,1006.8L211.2,990.0L209.5,973.3L216.7,968.8Z" fill="#d8d6e3" stroke="none" stroke-width="1"/><defs><filter id="nzp" x="0" y="0" width="1" height="1"><feTurbulence type="fractalNoise" baseFrequency="0.5" numOctaves="2" seed="21"/><feColorMatrix type="matrix" values="0 0 0 0 0.55  0 0 0 0 0.5  0 0 0 0 0.82  2.4 0 0 0 -1.05"/></filter></defs><g clip-path="url(#g1)"><rect x="24" y="956" width="80" height="88" filter="url(#nzp)" opacity="0.45"/></g><g clip-path="url(#g2)"><rect x="109" y="976" width="95" height="70" filter="url(#nzp)" opacity="0.8"/></g><g clip-path="url(#g3)"><rect x="208" y="960" width="93" height="86" filter="url(#nzp)" opacity="0.8"/></g><g clip-path="url(#g1)"><circle cx="101.4" cy="1020.7" r="0.5" fill="#b0acd8"/><circle cx="71.8" cy="1039.5" r="0.8" fill="#b0acd8"/><circle cx="45.9" cy="977.1" r="0.7" fill="#6a64bb"/><circle cx="99.9" cy="969.4" r="0.6" fill="#6a64bb"/><circle cx="31.1" cy="1023.8" r="0.4" fill="#b0acd8"/><circle cx="73.7" cy="981.1" r="0.8" fill="#6a64bb"/><circle cx="54.8" cy="980.0" r="0.7" fill="#b0acd8"/><circle cx="102.0" cy="979.6" r="0.6" fill="#6a64bb"/><circle cx="71.8" cy="1003.6" r="0.5" fill="#6a64bb"/><circle cx="68.0" cy="986.2" r="0.4" fill="#8f89cc"/><circle cx="78.3" cy="1010.9" r="0.5" fill="#b0acd8"/><circle cx="102.3" cy="1011.8" r="0.6" fill="#8f89cc"/><circle cx="96.6" cy="1025.9" r="0.7" fill="#8f89cc"/><circle cx="91.7" cy="1037.4" r="0.5" fill="#6a64bb"/><circle cx="68.4" cy="977.8" r="0.7" fill="#b0acd8"/><circle cx="60.6" cy="1016.0" r="0.8" fill="#8f89cc"/><circle cx="75.8" cy="1039.4" r="0.6" fill="#8f89cc"/><circle cx="36.8" cy="960.0" r="0.7" fill="#6a64bb"/><circle cx="67.1" cy="973.8" r="0.7" fill="#b0acd8"/><circle cx="100.5" cy="962.0" r="0.8" fill="#8f89cc"/><circle cx="35.0" cy="1015.2" r="0.7" fill="#6a64bb"/><circle cx="67.3" cy="1030.6" r="0.8" fill="#6a64bb"/><circle cx="28.5" cy="1012.7" r="0.5" fill="#6a64bb"/><circle cx="26.4" cy="970.9" r="0.5" fill="#8f89cc"/><circle cx="51.5" cy="965.0" r="0.7" fill="#b0acd8"/><circle cx="51.2" cy="967.3" r="0.7" fill="#b0acd8"/><circle cx="53.3" cy="993.6" r="0.6" fill="#b0acd8"/><circle cx="92.2" cy="1015.2" r="0.5" fill="#6a64bb"/><circle cx="85.2" cy="1011.4" r="0.5" fill="#6a64bb"/><circle cx="58.9" cy="1030.3" r="0.6" fill="#6a64bb"/><circle cx="64.2" cy="1000.9" r="0.6" fill="#8f89cc"/><circle cx="52.4" cy="988.4" r="0.8" fill="#8f89cc"/><circle cx="86.6" cy="981.9" r="0.6" fill="#6a64bb"/><circle cx="57.2" cy="981.0" r="0.6" fill="#b0acd8"/><circle cx="55.4" cy="998.3" r="0.4" fill="#6a64bb"/><circle cx="33.3" cy="1017.3" r="0.4" fill="#b0acd8"/><circle cx="77.6" cy="970.0" r="0.6" fill="#8f89cc"/><circle cx="31.8" cy="976.8" r="0.6" fill="#8f89cc"/><circle cx="47.3" cy="988.6" r="0.7" fill="#8f89cc"/><circle cx="24.3" cy="971.5" r="0.5" fill="#8f89cc"/><circle cx="34.7" cy="1033.6" r="0.7" fill="#b0acd8"/><circle cx="68.7" cy="970.3" r="0.6" fill="#6a64bb"/><circle cx="71.8" cy="961.4" r="0.5" fill="#8f89cc"/><circle cx="35.4" cy="1024.1" r="0.6" fill="#8f89cc"/><circle cx="101.1" cy="985.6" r="0.8" fill="#6a64bb"/><circle cx="86.5" cy="974.8" r="0.8" fill="#8f89cc"/><circle cx="38.1" cy="999.5" r="0.8" fill="#6a64bb"/><circle cx="40.5" cy="1012.3" r="0.6" fill="#8f89cc"/><circle cx="36.4" cy="996.4" r="0.5" fill="#8f89cc"/><circle cx="81.2" cy="1034.7" r="0.7" fill="#8f89cc"/><circle cx="42.8" cy="1029.6" r="0.8" fill="#b0acd8"/><circle cx="92.3" cy="978.4" r="0.6" fill="#b0acd8"/><circle cx="93.1" cy="1008.2" r="0.7" fill="#6a64bb"/><circle cx="50.6" cy="993.1" r="0.8" fill="#b0acd8"/><circle cx="41.7" cy="962.4" r="0.4" fill="#b0acd8"/><circle cx="37.4" cy="1028.1" r="0.7" fill="#6a64bb"/><circle cx="62.4" cy="974.1" r="0.5" fill="#8f89cc"/><circle cx="101.0" cy="1009.1" r="0.4" fill="#8f89cc"/><circle cx="63.9" cy="1001.6" r="0.7" fill="#b0acd8"/><circle cx="85.8" cy="994.2" r="0.7" fill="#8f89cc"/><circle cx="53.6" cy="992.3" r="0.4" fill="#6a64bb"/><circle cx="43.8" cy="997.0" r="0.7" fill="#b0acd8"/><circle cx="87.2" cy="1015.2" r="0.6" fill="#6a64bb"/><circle cx="74.8" cy="978.6" r="0.6" fill="#6a64bb"/><circle cx="100.6" cy="971.9" r="0.6" fill="#6a64bb"/><circle cx="74.3" cy="1017.2" r="0.6" fill="#b0acd8"/><circle cx="73.7" cy="1002.9" r="0.5" fill="#6a64bb"/><circle cx="93.3" cy="987.3" r="0.8" fill="#6a64bb"/><circle cx="87.2" cy="1037.2" r="0.5" fill="#6a64bb"/><circle cx="61.9" cy="975.0" r="0.7" fill="#b0acd8"/><circle cx="49.8" cy="973.5" r="0.6" fill="#8f89cc"/><circle cx="30.5" cy="1021.4" r="0.4" fill="#b0acd8"/><circle cx="59.8" cy="1008.5" r="0.5" fill="#6a64bb"/><circle cx="64.8" cy="994.7" r="0.8" fill="#6a64bb"/><circle cx="52.4" cy="1036.3" r="0.6" fill="#b0acd8"/><circle cx="34.0" cy="1026.5" r="0.5" fill="#8f89cc"/><circle cx="75.8" cy="1000.3" r="0.6" fill="#8f89cc"/><circle cx="36.3" cy="1042.3" r="0.5" fill="#b0acd8"/><circle cx="47.3" cy="963.7" r="0.7" fill="#6a64bb"/><circle cx="61.4" cy="1023.9" r="0.4" fill="#b0acd8"/><circle cx="65.0" cy="1031.9" r="0.7" fill="#b0acd8"/><circle cx="94.7" cy="1009.3" r="0.4" fill="#6a64bb"/><circle cx="35.5" cy="961.1" r="0.8" fill="#8f89cc"/><circle cx="85.5" cy="966.8" r="0.6" fill="#8f89cc"/><circle cx="68.6" cy="981.0" r="0.5" fill="#b0acd8"/><circle cx="90.8" cy="1026.1" r="0.6" fill="#8f89cc"/><circle cx="53.9" cy="1034.8" r="0.4" fill="#8f89cc"/><circle cx="45.1" cy="1023.1" r="0.7" fill="#b0acd8"/><circle cx="38.4" cy="985.2" r="0.5" fill="#b0acd8"/><circle cx="60.5" cy="979.1" r="0.6" fill="#b0acd8"/><circle cx="67.3" cy="1008.3" r="0.6" fill="#b0acd8"/><circle cx="70.0" cy="957.3" r="0.7" fill="#8f89cc"/><circle cx="54.0" cy="970.7" r="0.8" fill="#b0acd8"/><circle cx="38.1" cy="1022.0" r="0.8" fill="#6a64bb"/><circle cx="40.5" cy="967.4" r="0.6" fill="#8f89cc"/><circle cx="96.0" cy="964.8" r="0.6" fill="#8f89cc"/><circle cx="34.1" cy="987.3" r="0.5" fill="#8f89cc"/><circle cx="90.9" cy="1003.2" r="0.6" fill="#6a64bb"/><circle cx="60.1" cy="997.2" r="0.7" fill="#6a64bb"/><circle cx="63.9" cy="1038.8" r="0.8" fill="#6a64bb"/><circle cx="79.1" cy="970.3" r="0.6" fill="#b0acd8"/><circle cx="52.4" cy="959.8" r="0.8" fill="#8f89cc"/><circle cx="76.8" cy="976.3" r="0.4" fill="#6a64bb"/><circle cx="49.0" cy="988.7" r="0.7" fill="#6a64bb"/><circle cx="28.7" cy="1016.0" r="0.6" fill="#b0acd8"/><circle cx="37.9" cy="966.1" r="0.6" fill="#8f89cc"/><circle cx="84.5" cy="973.0" r="0.5" fill="#8f89cc"/><circle cx="53.9" cy="997.4" r="0.7" fill="#8f89cc"/><circle cx="47.9" cy="995.9" r="0.4" fill="#6a64bb"/><circle cx="31.9" cy="1040.3" r="0.8" fill="#8f89cc"/><circle cx="71.5" cy="1039.5" r="0.5" fill="#8f89cc"/><circle cx="102.3" cy="974.2" r="0.4" fill="#8f89cc"/><circle cx="47.9" cy="995.0" r="0.7" fill="#b0acd8"/><circle cx="40.1" cy="1034.2" r="0.4" fill="#b0acd8"/><circle cx="47.4" cy="1035.5" r="0.6" fill="#6a64bb"/><circle cx="30.1" cy="1030.6" r="0.4" fill="#6a64bb"/><circle cx="43.4" cy="1019.9" r="0.6" fill="#6a64bb"/><circle cx="63.5" cy="1023.6" r="0.6" fill="#6a64bb"/><circle cx="67.2" cy="991.4" r="0.6" fill="#b0acd8"/><circle cx="53.2" cy="996.2" r="0.5" fill="#8f89cc"/><circle cx="62.8" cy="989.5" r="0.6" fill="#6a64bb"/><circle cx="24.6" cy="1022.2" r="0.4" fill="#8f89cc"/><circle cx="26.3" cy="998.3" r="0.7" fill="#8f89cc"/><circle cx="26.3" cy="957.6" r="0.6" fill="#b0acd8"/><circle cx="25.9" cy="965.7" r="0.7" fill="#b0acd8"/><circle cx="31.7" cy="990.2" r="0.6" fill="#6a64bb"/><circle cx="86.6" cy="1028.9" r="0.5" fill="#b0acd8"/><circle cx="47.8" cy="1039.4" r="0.7" fill="#b0acd8"/><circle cx="64.8" cy="1042.0" r="0.7" fill="#8f89cc"/><circle cx="89.3" cy="1003.2" r="0.8" fill="#b0acd8"/><circle cx="27.9" cy="997.9" r="0.4" fill="#6a64bb"/><circle cx="69.9" cy="1034.2" r="0.5" fill="#6a64bb"/><circle cx="83.6" cy="999.1" r="0.7" fill="#b0acd8"/><circle cx="88.7" cy="994.1" r="0.5" fill="#6a64bb"/><circle cx="81.9" cy="1032.6" r="0.8" fill="#6a64bb"/><circle cx="56.3" cy="996.7" r="0.6" fill="#8f89cc"/><circle cx="79.4" cy="963.6" r="0.6" fill="#6a64bb"/><circle cx="50.7" cy="966.0" r="0.8" fill="#6a64bb"/><circle cx="33.8" cy="995.3" r="0.6" fill="#6a64bb"/><circle cx="63.6" cy="972.7" r="0.6" fill="#6a64bb"/><circle cx="61.4" cy="994.4" r="0.5" fill="#b0acd8"/><circle cx="25.5" cy="1020.3" r="0.5" fill="#b0acd8"/><circle cx="43.3" cy="996.5" r="0.6" fill="#b0acd8"/><circle cx="79.6" cy="1013.5" r="0.5" fill="#6a64bb"/><circle cx="25.5" cy="964.8" r="0.8" fill="#8f89cc"/><circle cx="99.2" cy="1038.2" r="0.5" fill="#b0acd8"/><circle cx="43.1" cy="1024.6" r="0.6" fill="#6a64bb"/><circle cx="59.1" cy="980.9" r="0.6" fill="#b0acd8"/><circle cx="34.1" cy="987.2" r="0.7" fill="#b0acd8"/><circle cx="99.5" cy="1008.8" r="0.5" fill="#b0acd8"/><circle cx="74.5" cy="969.6" r="0.5" fill="#8f89cc"/><circle cx="82.8" cy="967.0" r="0.8" fill="#8f89cc"/><circle cx="90.5" cy="1030.0" r="0.6" fill="#6a64bb"/><circle cx="29.9" cy="1019.9" r="0.7" fill="#b0acd8"/><circle cx="27.4" cy="962.3" r="0.7" fill="#b0acd8"/><circle cx="27.8" cy="1007.3" r="0.6" fill="#b0acd8"/><circle cx="77.4" cy="1014.2" r="0.6" fill="#b0acd8"/><circle cx="28.7" cy="1041.7" r="0.7" fill="#6a64bb"/><circle cx="87.4" cy="996.8" r="0.5" fill="#8f89cc"/><circle cx="58.9" cy="1027.7" r="0.4" fill="#b0acd8"/><circle cx="24.3" cy="991.2" r="0.7" fill="#8f89cc"/><circle cx="34.8" cy="1040.3" r="0.6" fill="#b0acd8"/><circle cx="34.6" cy="1026.2" r="0.7" fill="#b0acd8"/><circle cx="72.1" cy="1019.9" r="0.5" fill="#b0acd8"/><circle cx="30.6" cy="1012.0" r="0.7" fill="#6a64bb"/><circle cx="28.3" cy="1015.6" r="0.7" fill="#8f89cc"/><circle cx="71.9" cy="1026.5" r="0.6" fill="#6a64bb"/><circle cx="25.2" cy="1009.8" r="0.5" fill="#b0acd8"/><circle cx="90.1" cy="988.5" r="0.4" fill="#8f89cc"/><circle cx="89.6" cy="1010.7" r="0.6" fill="#6a64bb"/><circle cx="91.4" cy="1023.4" r="0.6" fill="#8f89cc"/><circle cx="94.9" cy="991.1" r="0.6" fill="#8f89cc"/><circle cx="96.5" cy="962.2" r="0.6" fill="#b0acd8"/><circle cx="45.7" cy="1016.4" r="0.6" fill="#8f89cc"/><circle cx="82.8" cy="1021.0" r="0.6" fill="#8f89cc"/><circle cx="57.4" cy="1026.0" r="0.6" fill="#6a64bb"/><circle cx="78.0" cy="1006.6" r="0.5" fill="#6a64bb"/><circle cx="25.1" cy="982.9" r="0.5" fill="#b0acd8"/><circle cx="62.6" cy="1002.1" r="0.7" fill="#6a64bb"/><circle cx="52.3" cy="992.1" r="0.8" fill="#6a64bb"/><circle cx="85.3" cy="1026.1" r="0.5" fill="#b0acd8"/><circle cx="48.5" cy="989.5" r="0.5" fill="#6a64bb"/><circle cx="83.1" cy="1029.2" r="0.7" fill="#b0acd8"/><circle cx="36.5" cy="1005.8" r="0.6" fill="#b0acd8"/><circle cx="60.6" cy="990.0" r="0.6" fill="#6a64bb"/><circle cx="45.2" cy="1041.4" r="0.7" fill="#6a64bb"/><circle cx="82.1" cy="959.0" r="0.5" fill="#8f89cc"/><circle cx="47.9" cy="1009.2" r="0.7" fill="#6a64bb"/><circle cx="101.1" cy="1005.3" r="0.8" fill="#8f89cc"/><circle cx="96.8" cy="978.8" r="0.4" fill="#6a64bb"/><circle cx="70.0" cy="963.5" r="0.6" fill="#8f89cc"/><circle cx="78.4" cy="976.2" r="0.6" fill="#b0acd8"/><circle cx="24.1" cy="1025.2" r="0.7" fill="#8f89cc"/><circle cx="84.8" cy="1020.1" r="0.6" fill="#6a64bb"/><circle cx="59.4" cy="980.1" r="0.6" fill="#b0acd8"/><circle cx="97.1" cy="1015.3" r="0.5" fill="#8f89cc"/><circle cx="37.9" cy="992.6" r="0.7" fill="#b0acd8"/><circle cx="69.7" cy="992.6" r="0.7" fill="#b0acd8"/><circle cx="92.2" cy="1016.2" r="0.5" fill="#6a64bb"/><circle cx="84.9" cy="988.5" r="0.8" fill="#8f89cc"/><circle cx="31.9" cy="964.8" r="0.6" fill="#b0acd8"/><circle cx="61.3" cy="1034.9" r="0.6" fill="#b0acd8"/><circle cx="73.1" cy="1039.2" r="0.5" fill="#6a64bb"/><circle cx="30.7" cy="958.6" r="0.5" fill="#8f89cc"/><circle cx="69.9" cy="992.6" r="0.8" fill="#b0acd8"/><circle cx="48.8" cy="1028.1" r="0.6" fill="#b0acd8"/><circle cx="60.6" cy="987.6" r="0.7" fill="#b0acd8"/><circle cx="28.0" cy="1017.4" r="0.5" fill="#8f89cc"/><circle cx="91.2" cy="1026.4" r="0.5" fill="#8f89cc"/><circle cx="36.3" cy="1040.2" r="0.8" fill="#8f89cc"/><circle cx="66.7" cy="961.4" r="0.7" fill="#6a64bb"/><circle cx="41.1" cy="971.7" r="0.4" fill="#b0acd8"/><circle cx="93.6" cy="987.4" r="0.7" fill="#8f89cc"/><circle cx="27.7" cy="1038.5" r="0.6" fill="#8f89cc"/><circle cx="76.0" cy="965.3" r="0.5" fill="#b0acd8"/><circle cx="33.9" cy="965.5" r="0.5" fill="#b0acd8"/><circle cx="89.0" cy="978.0" r="0.7" fill="#6a64bb"/><circle cx="45.0" cy="1003.8" r="0.6" fill="#6a64bb"/><circle cx="80.5" cy="1038.5" r="0.6" fill="#b0acd8"/><circle cx="101.3" cy="967.7" r="0.5" fill="#6a64bb"/><circle cx="102.1" cy="1000.8" r="0.6" fill="#6a64bb"/><circle cx="27.9" cy="967.4" r="0.7" fill="#b0acd8"/><circle cx="93.6" cy="990.5" r="0.5" fill="#8f89cc"/><circle cx="81.4" cy="1038.0" r="0.8" fill="#8f89cc"/><circle cx="43.1" cy="997.5" r="0.7" fill="#6a64bb"/><circle cx="71.9" cy="998.0" r="0.8" fill="#8f89cc"/><circle cx="25.1" cy="981.4" r="0.6" fill="#8f89cc"/><circle cx="74.8" cy="1025.9" r="0.5" fill="#b0acd8"/><circle cx="48.0" cy="969.4" r="0.6" fill="#6a64bb"/><circle cx="74.0" cy="970.7" r="0.6" fill="#b0acd8"/><circle cx="96.1" cy="1028.8" r="0.7" fill="#b0acd8"/><circle cx="41.1" cy="986.7" r="0.6" fill="#8f89cc"/><circle cx="60.2" cy="994.8" r="0.5" fill="#8f89cc"/><circle cx="58.1" cy="1031.5" r="0.7" fill="#6a64bb"/><circle cx="93.7" cy="1036.4" r="0.5" fill="#6a64bb"/><circle cx="67.6" cy="1042.0" r="0.6" fill="#b0acd8"/><circle cx="35.5" cy="1006.0" r="0.5" fill="#8f89cc"/><circle cx="102.4" cy="1022.0" r="0.7" fill="#6a64bb"/><circle cx="82.4" cy="1030.4" r="0.6" fill="#6a64bb"/><circle cx="86.9" cy="1038.4" r="0.6" fill="#8f89cc"/><circle cx="56.2" cy="969.5" r="0.7" fill="#6a64bb"/><circle cx="34.8" cy="1000.7" r="0.6" fill="#b0acd8"/><circle cx="34.8" cy="1028.1" r="0.4" fill="#b0acd8"/><circle cx="59.2" cy="1015.5" r="0.8" fill="#6a64bb"/><circle cx="72.6" cy="1038.2" r="0.7" fill="#b0acd8"/><circle cx="27.8" cy="974.2" r="0.4" fill="#6a64bb"/><circle cx="83.2" cy="968.7" r="0.5" fill="#8f89cc"/><circle cx="27.7" cy="1005.1" r="0.7" fill="#6a64bb"/><circle cx="64.5" cy="997.4" r="0.4" fill="#8f89cc"/><circle cx="26.3" cy="1026.4" r="0.5" fill="#6a64bb"/><circle cx="25.2" cy="1006.6" r="0.5" fill="#8f89cc"/><circle cx="39.8" cy="1041.1" r="0.5" fill="#b0acd8"/><circle cx="71.9" cy="981.9" r="0.5" fill="#8f89cc"/><circle cx="92.7" cy="1015.3" r="0.5" fill="#b0acd8"/><circle cx="99.4" cy="1007.1" r="0.7" fill="#6a64bb"/><circle cx="26.9" cy="1020.1" r="0.6" fill="#8f89cc"/><circle cx="43.6" cy="962.7" r="0.7" fill="#8f89cc"/><circle cx="35.2" cy="1021.9" r="0.5" fill="#6a64bb"/><circle cx="93.9" cy="957.1" r="0.7" fill="#b0acd8"/><circle cx="101.4" cy="1008.9" r="0.6" fill="#8f89cc"/><circle cx="70.0" cy="984.9" r="0.6" fill="#6a64bb"/><circle cx="46.4" cy="1042.1" r="0.7" fill="#6a64bb"/><circle cx="80.9" cy="976.4" r="0.5" fill="#8f89cc"/><circle cx="33.3" cy="968.7" r="0.5" fill="#b0acd8"/><circle cx="94.4" cy="1027.6" r="0.7" fill="#8f89cc"/><circle cx="68.1" cy="1004.5" r="0.5" fill="#8f89cc"/><circle cx="69.5" cy="983.9" r="0.8" fill="#8f89cc"/><circle cx="47.2" cy="1006.4" r="0.8" fill="#b0acd8"/><circle cx="61.2" cy="1039.3" r="0.4" fill="#b0acd8"/><circle cx="42.0" cy="981.0" r="0.4" fill="#8f89cc"/><circle cx="76.2" cy="972.4" r="0.5" fill="#b0acd8"/><circle cx="74.8" cy="1008.6" r="0.7" fill="#b0acd8"/><circle cx="61.2" cy="969.1" r="0.6" fill="#b0acd8"/><circle cx="78.4" cy="975.5" r="0.4" fill="#b0acd8"/><circle cx="97.6" cy="982.8" r="0.6" fill="#6a64bb"/><circle cx="84.7" cy="981.8" r="0.7" fill="#6a64bb"/><circle cx="62.9" cy="1033.7" r="0.5" fill="#b0acd8"/><circle cx="99.4" cy="1041.5" r="0.6" fill="#6a64bb"/><circle cx="50.8" cy="970.5" r="0.4" fill="#6a64bb"/><circle cx="25.4" cy="1007.8" r="0.7" fill="#b0acd8"/><circle cx="42.2" cy="1022.9" r="0.6" fill="#b0acd8"/><circle cx="90.2" cy="1014.8" r="0.7" fill="#6a64bb"/><circle cx="68.2" cy="964.8" r="0.6" fill="#b0acd8"/><circle cx="27.9" cy="998.3" r="0.6" fill="#b0acd8"/><circle cx="37.1" cy="1001.0" r="0.5" fill="#6a64bb"/><circle cx="26.2" cy="970.2" r="0.5" fill="#b0acd8"/><circle cx="68.7" cy="976.1" r="0.4" fill="#6a64bb"/><circle cx="91.9" cy="957.5" r="0.8" fill="#8f89cc"/><circle cx="59.4" cy="1011.8" r="0.8" fill="#6a64bb"/><circle cx="91.6" cy="988.8" r="0.7" fill="#6a64bb"/><circle cx="33.0" cy="1003.4" r="0.7" fill="#6a64bb"/><circle cx="24.3" cy="1005.5" r="0.5" fill="#6a64bb"/><circle cx="99.4" cy="1008.5" r="0.5" fill="#6a64bb"/><circle cx="64.7" cy="1007.7" r="0.5" fill="#b0acd8"/><circle cx="51.2" cy="999.5" r="0.5" fill="#6a64bb"/><circle cx="58.6" cy="993.3" r="0.8" fill="#b0acd8"/><circle cx="60.8" cy="1011.9" r="0.7" fill="#b0acd8"/><circle cx="87.6" cy="977.4" r="0.6" fill="#b0acd8"/><circle cx="50.5" cy="978.9" r="0.8" fill="#b0acd8"/><circle cx="63.2" cy="1042.4" r="0.7" fill="#b0acd8"/></g><g clip-path="url(#g2)"><circle cx="134.6" cy="1036.2" r="0.6" fill="#a49fd6"/><circle cx="149.3" cy="986.8" r="0.6" fill="#b0acd8"/><circle cx="131.8" cy="987.3" r="0.4" fill="#8f89cc"/><circle cx="201.9" cy="978.1" r="0.7" fill="#8f89cc"/><circle cx="194.4" cy="1042.9" r="0.8" fill="#8f89cc"/><circle cx="119.8" cy="1008.4" r="0.5" fill="#8f89cc"/><circle cx="173.7" cy="1003.6" r="0.6" fill="#a49fd6"/><circle cx="200.1" cy="1021.1" r="0.6" fill="#8f89cc"/><circle cx="194.7" cy="1022.8" r="0.6" fill="#8f89cc"/><circle cx="143.6" cy="1026.0" r="0.8" fill="#a49fd6"/><circle cx="154.9" cy="990.6" r="0.7" fill="#a49fd6"/><circle cx="155.2" cy="992.8" r="0.4" fill="#8f89cc"/><circle cx="132.4" cy="989.7" r="0.6" fill="#b0acd8"/><circle cx="119.5" cy="977.7" r="0.5" fill="#b0acd8"/><circle cx="191.9" cy="979.2" r="0.8" fill="#8f89cc"/><circle cx="152.3" cy="1011.7" r="0.5" fill="#8f89cc"/><circle cx="179.1" cy="1044.4" r="0.4" fill="#8f89cc"/><circle cx="114.1" cy="979.0" r="0.7" fill="#a49fd6"/><circle cx="164.8" cy="999.3" r="0.7" fill="#a49fd6"/><circle cx="202.5" cy="1019.3" r="0.7" fill="#a49fd6"/><circle cx="128.5" cy="1028.0" r="0.7" fill="#a49fd6"/><circle cx="133.1" cy="1030.0" r="0.7" fill="#8f89cc"/><circle cx="117.7" cy="992.2" r="0.6" fill="#b0acd8"/><circle cx="136.4" cy="1041.2" r="0.8" fill="#a49fd6"/><circle cx="178.2" cy="1023.1" r="0.7" fill="#a49fd6"/><circle cx="155.8" cy="1004.2" r="0.6" fill="#8f89cc"/><circle cx="181.8" cy="999.2" r="0.5" fill="#a49fd6"/><circle cx="158.8" cy="1001.2" r="0.5" fill="#a49fd6"/><circle cx="142.9" cy="1030.8" r="0.6" fill="#a49fd6"/><circle cx="123.7" cy="1026.8" r="0.8" fill="#a49fd6"/><circle cx="111.6" cy="998.7" r="0.6" fill="#b0acd8"/><circle cx="173.6" cy="1005.9" r="0.6" fill="#a49fd6"/><circle cx="119.8" cy="1010.5" r="0.7" fill="#a49fd6"/><circle cx="149.9" cy="1017.5" r="0.7" fill="#8f89cc"/><circle cx="124.5" cy="1019.8" r="0.6" fill="#8f89cc"/><circle cx="188.6" cy="1028.0" r="0.8" fill="#8f89cc"/><circle cx="199.7" cy="1002.0" r="0.7" fill="#8f89cc"/><circle cx="156.1" cy="988.6" r="0.7" fill="#b0acd8"/><circle cx="116.3" cy="992.8" r="0.7" fill="#b0acd8"/><circle cx="131.8" cy="1011.6" r="0.6" fill="#b0acd8"/><circle cx="158.8" cy="989.6" r="0.7" fill="#8f89cc"/><circle cx="136.7" cy="1030.6" r="0.6" fill="#a49fd6"/><circle cx="169.2" cy="1015.4" r="0.6" fill="#b0acd8"/><circle cx="152.9" cy="1033.4" r="0.8" fill="#a49fd6"/><circle cx="201.7" cy="1033.3" r="0.8" fill="#b0acd8"/><circle cx="159.1" cy="1016.8" r="0.7" fill="#8f89cc"/><circle cx="133.1" cy="1018.6" r="0.6" fill="#b0acd8"/><circle cx="142.8" cy="1038.2" r="0.5" fill="#8f89cc"/><circle cx="174.8" cy="1037.2" r="0.6" fill="#a49fd6"/><circle cx="157.1" cy="981.5" r="0.7" fill="#b0acd8"/><circle cx="180.3" cy="1029.2" r="0.6" fill="#b0acd8"/><circle cx="147.9" cy="1023.1" r="0.7" fill="#b0acd8"/><circle cx="139.2" cy="1033.4" r="0.5" fill="#a49fd6"/><circle cx="184.7" cy="1006.2" r="0.4" fill="#a49fd6"/><circle cx="135.9" cy="1009.4" r="0.4" fill="#8f89cc"/><circle cx="202.7" cy="982.2" r="0.5" fill="#b0acd8"/><circle cx="111.8" cy="1036.9" r="0.8" fill="#8f89cc"/><circle cx="142.3" cy="1020.6" r="0.7" fill="#b0acd8"/><circle cx="187.5" cy="989.1" r="0.8" fill="#b0acd8"/><circle cx="180.3" cy="992.3" r="0.7" fill="#a49fd6"/><circle cx="136.9" cy="1022.3" r="0.6" fill="#8f89cc"/><circle cx="181.3" cy="1043.9" r="0.6" fill="#b0acd8"/><circle cx="176.3" cy="1005.5" r="0.7" fill="#a49fd6"/><circle cx="162.9" cy="1036.4" r="0.6" fill="#8f89cc"/><circle cx="179.7" cy="981.3" r="0.7" fill="#a49fd6"/><circle cx="114.3" cy="1041.2" r="0.5" fill="#a49fd6"/><circle cx="190.8" cy="1012.2" r="0.7" fill="#8f89cc"/><circle cx="161.3" cy="994.4" r="0.5" fill="#a49fd6"/><circle cx="114.0" cy="1014.5" r="0.5" fill="#a49fd6"/><circle cx="133.5" cy="985.1" r="0.7" fill="#8f89cc"/><circle cx="152.3" cy="1024.8" r="0.6" fill="#8f89cc"/><circle cx="171.2" cy="996.5" r="0.7" fill="#a49fd6"/><circle cx="175.9" cy="990.3" r="0.7" fill="#a49fd6"/><circle cx="126.6" cy="1026.7" r="0.5" fill="#8f89cc"/><circle cx="144.3" cy="993.7" r="0.5" fill="#a49fd6"/><circle cx="124.9" cy="1004.2" r="0.5" fill="#8f89cc"/><circle cx="183.0" cy="994.9" r="0.6" fill="#8f89cc"/><circle cx="200.6" cy="1036.8" r="0.6" fill="#b0acd8"/><circle cx="135.1" cy="1003.1" r="0.6" fill="#a49fd6"/><circle cx="165.1" cy="981.7" r="0.6" fill="#a49fd6"/><circle cx="147.2" cy="1001.4" r="0.4" fill="#a49fd6"/><circle cx="149.3" cy="1010.0" r="0.7" fill="#8f89cc"/><circle cx="123.7" cy="1022.3" r="0.7" fill="#8f89cc"/><circle cx="124.5" cy="1016.2" r="0.6" fill="#b0acd8"/><circle cx="135.3" cy="998.1" r="0.5" fill="#a49fd6"/><circle cx="132.6" cy="1013.4" r="0.7" fill="#b0acd8"/><circle cx="194.7" cy="1033.0" r="0.7" fill="#b0acd8"/><circle cx="156.1" cy="1024.0" r="0.7" fill="#b0acd8"/><circle cx="167.9" cy="1019.7" r="0.5" fill="#a49fd6"/><circle cx="126.9" cy="996.5" r="0.5" fill="#8f89cc"/><circle cx="173.1" cy="1028.3" r="0.7" fill="#8f89cc"/><circle cx="195.7" cy="1010.0" r="0.5" fill="#b0acd8"/><circle cx="155.6" cy="997.2" r="0.6" fill="#b0acd8"/><circle cx="158.7" cy="1002.4" r="0.7" fill="#8f89cc"/><circle cx="113.3" cy="990.1" r="0.7" fill="#8f89cc"/><circle cx="159.1" cy="1036.4" r="0.4" fill="#b0acd8"/><circle cx="197.0" cy="1040.8" r="0.6" fill="#a49fd6"/><circle cx="178.2" cy="1017.9" r="0.4" fill="#a49fd6"/><circle cx="197.3" cy="1008.1" r="0.6" fill="#b0acd8"/><circle cx="110.7" cy="1015.8" r="0.6" fill="#a49fd6"/><circle cx="136.6" cy="1030.1" r="0.7" fill="#b0acd8"/><circle cx="141.5" cy="1008.8" r="0.4" fill="#a49fd6"/><circle cx="113.4" cy="1042.4" r="0.6" fill="#a49fd6"/><circle cx="197.5" cy="1013.7" r="0.8" fill="#b0acd8"/><circle cx="163.8" cy="1031.1" r="0.6" fill="#b0acd8"/><circle cx="170.7" cy="1000.3" r="0.7" fill="#b0acd8"/><circle cx="186.6" cy="1010.3" r="0.6" fill="#8f89cc"/><circle cx="115.1" cy="993.5" r="0.6" fill="#b0acd8"/><circle cx="200.7" cy="1042.9" r="0.5" fill="#b0acd8"/><circle cx="157.8" cy="1011.8" r="0.6" fill="#b0acd8"/><circle cx="146.8" cy="1028.3" r="0.7" fill="#8f89cc"/><circle cx="125.7" cy="1038.2" r="0.7" fill="#b0acd8"/><circle cx="190.1" cy="1011.5" r="0.6" fill="#b0acd8"/><circle cx="191.9" cy="980.1" r="0.7" fill="#b0acd8"/><circle cx="136.8" cy="980.3" r="0.5" fill="#8f89cc"/><circle cx="194.8" cy="1011.0" r="0.7" fill="#8f89cc"/><circle cx="176.0" cy="1003.5" r="0.6" fill="#8f89cc"/><circle cx="120.1" cy="1035.7" r="0.6" fill="#8f89cc"/><circle cx="125.4" cy="995.1" r="0.7" fill="#8f89cc"/><circle cx="139.5" cy="1038.5" r="0.7" fill="#8f89cc"/><circle cx="133.4" cy="1041.7" r="0.8" fill="#a49fd6"/><circle cx="123.3" cy="985.1" r="0.6" fill="#b0acd8"/><circle cx="179.5" cy="1027.3" r="0.8" fill="#a49fd6"/><circle cx="136.4" cy="982.8" r="0.6" fill="#b0acd8"/><circle cx="120.9" cy="1027.6" r="0.4" fill="#8f89cc"/><circle cx="173.5" cy="989.3" r="0.8" fill="#8f89cc"/><circle cx="177.8" cy="1015.4" r="0.4" fill="#b0acd8"/><circle cx="148.4" cy="1035.0" r="0.7" fill="#b0acd8"/><circle cx="134.0" cy="1029.3" r="0.7" fill="#a49fd6"/><circle cx="129.2" cy="1028.1" r="0.7" fill="#8f89cc"/><circle cx="197.2" cy="1043.5" r="0.7" fill="#8f89cc"/><circle cx="144.9" cy="992.2" r="0.5" fill="#a49fd6"/><circle cx="117.1" cy="1035.1" r="0.8" fill="#a49fd6"/><circle cx="162.6" cy="982.8" r="0.7" fill="#b0acd8"/><circle cx="162.6" cy="1034.6" r="0.6" fill="#a49fd6"/><circle cx="200.8" cy="1008.4" r="0.5" fill="#a49fd6"/><circle cx="200.9" cy="999.8" r="0.8" fill="#a49fd6"/><circle cx="135.3" cy="1038.0" r="0.7" fill="#a49fd6"/><circle cx="137.7" cy="1008.5" r="0.6" fill="#b0acd8"/><circle cx="177.3" cy="1028.6" r="0.8" fill="#8f89cc"/><circle cx="176.1" cy="1042.1" r="0.8" fill="#a49fd6"/><circle cx="195.1" cy="996.7" r="0.5" fill="#8f89cc"/><circle cx="115.1" cy="1030.5" r="0.7" fill="#8f89cc"/><circle cx="115.9" cy="996.1" r="0.4" fill="#a49fd6"/><circle cx="154.4" cy="1035.5" r="0.4" fill="#b0acd8"/><circle cx="152.0" cy="980.4" r="0.7" fill="#8f89cc"/><circle cx="167.0" cy="1013.7" r="0.6" fill="#8f89cc"/><circle cx="150.8" cy="982.9" r="0.5" fill="#8f89cc"/><circle cx="124.5" cy="1009.9" r="0.6" fill="#a49fd6"/><circle cx="202.2" cy="1043.7" r="0.6" fill="#8f89cc"/><circle cx="134.0" cy="1027.7" r="0.8" fill="#8f89cc"/><circle cx="157.0" cy="1002.6" r="0.6" fill="#b0acd8"/><circle cx="194.8" cy="1044.1" r="0.5" fill="#a49fd6"/><circle cx="134.8" cy="1019.6" r="0.8" fill="#8f89cc"/><circle cx="195.4" cy="1022.8" r="0.7" fill="#a49fd6"/><circle cx="159.4" cy="1034.6" r="0.5" fill="#a49fd6"/><circle cx="139.8" cy="980.6" r="0.6" fill="#8f89cc"/><circle cx="140.1" cy="1016.2" r="0.8" fill="#a49fd6"/><circle cx="145.4" cy="1029.7" r="0.7" fill="#a49fd6"/><circle cx="193.9" cy="997.3" r="0.7" fill="#8f89cc"/><circle cx="112.3" cy="1039.4" r="0.4" fill="#a49fd6"/><circle cx="167.4" cy="1019.8" r="0.4" fill="#b0acd8"/><circle cx="183.4" cy="1041.1" r="0.5" fill="#b0acd8"/><circle cx="137.1" cy="985.3" r="0.7" fill="#8f89cc"/><circle cx="169.0" cy="1015.5" r="0.6" fill="#8f89cc"/><circle cx="164.5" cy="1003.7" r="0.5" fill="#a49fd6"/><circle cx="198.7" cy="980.3" r="0.4" fill="#8f89cc"/><circle cx="119.6" cy="1039.8" r="0.5" fill="#8f89cc"/><circle cx="163.5" cy="991.7" r="0.5" fill="#8f89cc"/><circle cx="123.1" cy="1024.3" r="0.4" fill="#a49fd6"/><circle cx="154.6" cy="1027.6" r="0.6" fill="#8f89cc"/><circle cx="142.8" cy="1040.4" r="0.6" fill="#b0acd8"/><circle cx="145.9" cy="986.8" r="0.6" fill="#b0acd8"/><circle cx="116.5" cy="986.4" r="0.7" fill="#b0acd8"/><circle cx="164.4" cy="1010.6" r="0.6" fill="#a49fd6"/><circle cx="194.6" cy="1009.7" r="0.6" fill="#b0acd8"/><circle cx="126.1" cy="996.8" r="0.4" fill="#b0acd8"/><circle cx="169.9" cy="1006.3" r="0.6" fill="#b0acd8"/><circle cx="116.7" cy="1008.0" r="0.5" fill="#b0acd8"/><circle cx="126.6" cy="1014.2" r="0.7" fill="#b0acd8"/><circle cx="163.4" cy="977.1" r="0.5" fill="#8f89cc"/><circle cx="112.6" cy="1024.2" r="0.7" fill="#a49fd6"/><circle cx="189.5" cy="991.5" r="0.7" fill="#a49fd6"/><circle cx="162.2" cy="1011.4" r="0.6" fill="#a49fd6"/><circle cx="131.7" cy="993.2" r="0.5" fill="#8f89cc"/><circle cx="136.5" cy="1008.8" r="0.8" fill="#b0acd8"/><circle cx="199.2" cy="987.0" r="0.6" fill="#b0acd8"/><circle cx="110.5" cy="1003.1" r="0.5" fill="#a49fd6"/><circle cx="181.5" cy="1033.9" r="0.4" fill="#a49fd6"/><circle cx="151.7" cy="1009.8" r="0.7" fill="#8f89cc"/><circle cx="153.5" cy="990.6" r="0.5" fill="#a49fd6"/><circle cx="180.0" cy="1029.9" r="0.5" fill="#a49fd6"/><circle cx="122.0" cy="1031.9" r="0.6" fill="#a49fd6"/><circle cx="137.2" cy="979.1" r="0.6" fill="#a49fd6"/><circle cx="185.2" cy="1017.7" r="0.7" fill="#8f89cc"/><circle cx="174.4" cy="1027.4" r="0.6" fill="#b0acd8"/><circle cx="189.9" cy="1032.2" r="0.6" fill="#b0acd8"/><circle cx="144.1" cy="1012.9" r="0.5" fill="#8f89cc"/><circle cx="156.6" cy="998.2" r="0.5" fill="#b0acd8"/><circle cx="156.1" cy="998.7" r="0.6" fill="#8f89cc"/><circle cx="146.8" cy="1023.2" r="0.5" fill="#a49fd6"/><circle cx="196.6" cy="1003.6" r="0.4" fill="#a49fd6"/><circle cx="167.3" cy="1018.7" r="0.5" fill="#b0acd8"/><circle cx="168.4" cy="994.8" r="0.7" fill="#b0acd8"/><circle cx="150.4" cy="1032.3" r="0.6" fill="#b0acd8"/><circle cx="198.1" cy="1039.6" r="0.4" fill="#8f89cc"/><circle cx="145.1" cy="1017.3" r="0.6" fill="#8f89cc"/><circle cx="193.5" cy="988.1" r="0.6" fill="#8f89cc"/><circle cx="193.1" cy="1039.8" r="0.4" fill="#8f89cc"/><circle cx="115.3" cy="985.8" r="0.7" fill="#8f89cc"/><circle cx="137.3" cy="997.8" r="0.7" fill="#8f89cc"/><circle cx="200.8" cy="983.4" r="0.5" fill="#b0acd8"/><circle cx="135.6" cy="1012.2" r="0.5" fill="#a49fd6"/><circle cx="198.6" cy="996.4" r="0.6" fill="#b0acd8"/><circle cx="140.0" cy="987.1" r="0.6" fill="#8f89cc"/><circle cx="152.9" cy="991.4" r="0.4" fill="#b0acd8"/><circle cx="135.4" cy="982.6" r="0.7" fill="#b0acd8"/><circle cx="112.2" cy="1036.4" r="0.7" fill="#b0acd8"/><circle cx="141.9" cy="1010.4" r="0.4" fill="#b0acd8"/><circle cx="117.6" cy="1020.5" r="0.6" fill="#8f89cc"/><circle cx="202.5" cy="979.5" r="0.6" fill="#8f89cc"/><circle cx="171.4" cy="980.5" r="0.4" fill="#8f89cc"/><circle cx="139.8" cy="1023.8" r="0.4" fill="#8f89cc"/><circle cx="126.9" cy="1040.0" r="0.5" fill="#b0acd8"/><circle cx="116.9" cy="1020.9" r="0.6" fill="#b0acd8"/><circle cx="202.7" cy="1012.0" r="0.5" fill="#b0acd8"/><circle cx="188.8" cy="1017.7" r="0.7" fill="#b0acd8"/><circle cx="124.4" cy="1023.1" r="0.6" fill="#8f89cc"/><circle cx="117.9" cy="1015.1" r="0.4" fill="#8f89cc"/><circle cx="188.6" cy="1021.0" r="0.8" fill="#a49fd6"/><circle cx="121.8" cy="995.3" r="0.6" fill="#b0acd8"/><circle cx="120.2" cy="1024.6" r="0.8" fill="#8f89cc"/><circle cx="147.5" cy="982.2" r="0.4" fill="#b0acd8"/><circle cx="136.2" cy="1007.6" r="0.6" fill="#b0acd8"/><circle cx="189.2" cy="1004.2" r="0.6" fill="#a49fd6"/><circle cx="132.3" cy="1030.5" r="0.5" fill="#8f89cc"/><circle cx="127.9" cy="1005.6" r="0.6" fill="#b0acd8"/><circle cx="185.7" cy="1009.1" r="0.7" fill="#b0acd8"/><circle cx="187.2" cy="1007.4" r="0.4" fill="#a49fd6"/><circle cx="152.2" cy="994.2" r="0.4" fill="#a49fd6"/><circle cx="112.6" cy="1000.4" r="0.4" fill="#a49fd6"/><circle cx="132.2" cy="994.9" r="0.7" fill="#8f89cc"/><circle cx="124.4" cy="1039.6" r="0.5" fill="#8f89cc"/><circle cx="127.5" cy="998.3" r="0.6" fill="#b0acd8"/><circle cx="126.6" cy="1037.3" r="0.4" fill="#8f89cc"/><circle cx="112.5" cy="999.9" r="0.5" fill="#a49fd6"/><circle cx="139.9" cy="1018.6" r="0.7" fill="#8f89cc"/><circle cx="129.6" cy="998.7" r="0.6" fill="#8f89cc"/><circle cx="141.2" cy="997.4" r="0.5" fill="#a49fd6"/><circle cx="132.9" cy="1044.6" r="0.5" fill="#b0acd8"/><circle cx="181.5" cy="981.6" r="0.7" fill="#b0acd8"/><circle cx="131.1" cy="980.3" r="0.4" fill="#b0acd8"/><circle cx="135.9" cy="989.2" r="0.7" fill="#b0acd8"/><circle cx="132.5" cy="1044.0" r="0.4" fill="#b0acd8"/><circle cx="193.0" cy="1021.7" r="0.7" fill="#b0acd8"/><circle cx="171.6" cy="978.6" r="0.5" fill="#b0acd8"/><circle cx="181.8" cy="1013.7" r="0.4" fill="#a49fd6"/><circle cx="194.5" cy="1025.1" r="0.6" fill="#8f89cc"/><circle cx="189.3" cy="988.9" r="0.7" fill="#a49fd6"/><circle cx="178.0" cy="1030.5" r="0.4" fill="#b0acd8"/><circle cx="200.1" cy="1032.6" r="0.5" fill="#a49fd6"/><circle cx="200.5" cy="1029.0" r="0.8" fill="#a49fd6"/><circle cx="147.8" cy="1042.4" r="0.5" fill="#b0acd8"/><circle cx="145.1" cy="1014.9" r="0.7" fill="#b0acd8"/><circle cx="150.9" cy="1036.1" r="0.7" fill="#b0acd8"/><circle cx="117.4" cy="1039.2" r="0.8" fill="#b0acd8"/><circle cx="143.1" cy="1016.9" r="0.5" fill="#8f89cc"/><circle cx="192.1" cy="1042.2" r="0.6" fill="#a49fd6"/><circle cx="151.4" cy="1040.6" r="0.6" fill="#b0acd8"/><circle cx="139.1" cy="1032.5" r="0.8" fill="#8f89cc"/><circle cx="116.3" cy="1015.8" r="0.5" fill="#b0acd8"/><circle cx="124.4" cy="982.9" r="0.7" fill="#a49fd6"/><circle cx="176.3" cy="999.6" r="0.8" fill="#a49fd6"/><circle cx="183.8" cy="985.2" r="0.7" fill="#a49fd6"/><circle cx="153.1" cy="1041.8" r="0.4" fill="#b0acd8"/><circle cx="156.3" cy="986.5" r="0.5" fill="#8f89cc"/><circle cx="156.4" cy="1028.3" r="0.8" fill="#b0acd8"/><circle cx="189.3" cy="1043.3" r="0.6" fill="#b0acd8"/><circle cx="199.8" cy="1026.2" r="0.6" fill="#8f89cc"/><circle cx="119.8" cy="1038.3" r="0.4" fill="#a49fd6"/><circle cx="192.7" cy="980.2" r="0.5" fill="#8f89cc"/><circle cx="198.2" cy="1020.1" r="0.8" fill="#a49fd6"/><circle cx="151.2" cy="982.4" r="0.6" fill="#a49fd6"/><circle cx="156.0" cy="1011.4" r="0.5" fill="#a49fd6"/><circle cx="164.1" cy="1025.3" r="0.7" fill="#a49fd6"/><circle cx="139.3" cy="999.6" r="0.7" fill="#a49fd6"/><circle cx="157.0" cy="1036.2" r="0.6" fill="#a49fd6"/><circle cx="176.4" cy="1000.4" r="0.5" fill="#b0acd8"/><circle cx="177.2" cy="1012.8" r="0.5" fill="#8f89cc"/><circle cx="162.1" cy="1018.6" r="0.7" fill="#a49fd6"/><circle cx="146.1" cy="1043.6" r="0.7" fill="#a49fd6"/><circle cx="161.4" cy="1044.0" r="0.4" fill="#8f89cc"/><circle cx="194.4" cy="1024.0" r="0.7" fill="#a49fd6"/><circle cx="164.8" cy="1036.5" r="0.5" fill="#b0acd8"/><circle cx="145.4" cy="1043.2" r="0.7" fill="#b0acd8"/><circle cx="168.6" cy="1000.3" r="0.8" fill="#8f89cc"/><circle cx="115.9" cy="1017.8" r="0.5" fill="#b0acd8"/><circle cx="134.0" cy="1021.6" r="0.5" fill="#8f89cc"/><circle cx="119.3" cy="1002.1" r="0.7" fill="#a49fd6"/><circle cx="173.6" cy="1039.6" r="0.7" fill="#8f89cc"/><circle cx="137.3" cy="1026.7" r="0.8" fill="#b0acd8"/><circle cx="111.7" cy="1024.6" r="0.8" fill="#8f89cc"/><circle cx="144.9" cy="995.9" r="0.6" fill="#b0acd8"/><circle cx="174.7" cy="1009.9" r="0.5" fill="#b0acd8"/><circle cx="133.4" cy="1034.2" r="0.7" fill="#8f89cc"/><circle cx="140.6" cy="1010.5" r="0.6" fill="#b0acd8"/><circle cx="201.8" cy="1017.7" r="0.7" fill="#8f89cc"/><circle cx="129.2" cy="1011.7" r="0.7" fill="#8f89cc"/><circle cx="184.9" cy="1033.4" r="0.4" fill="#a49fd6"/><circle cx="142.1" cy="1009.3" r="0.6" fill="#8f89cc"/><circle cx="112.8" cy="977.5" r="0.8" fill="#8f89cc"/><circle cx="195.0" cy="986.3" r="0.4" fill="#8f89cc"/><circle cx="132.8" cy="1027.6" r="0.7" fill="#a49fd6"/><circle cx="199.7" cy="1039.9" r="0.4" fill="#a49fd6"/><circle cx="162.1" cy="999.5" r="0.8" fill="#8f89cc"/><circle cx="180.9" cy="1030.5" r="0.4" fill="#b0acd8"/><circle cx="180.1" cy="1043.9" r="0.6" fill="#a49fd6"/><circle cx="112.4" cy="1007.4" r="0.7" fill="#b0acd8"/><circle cx="154.9" cy="1040.5" r="0.7" fill="#8f89cc"/><circle cx="198.6" cy="1037.5" r="0.8" fill="#a49fd6"/><circle cx="150.2" cy="1034.7" r="0.4" fill="#8f89cc"/><circle cx="169.5" cy="991.0" r="0.7" fill="#b0acd8"/><circle cx="184.0" cy="1021.2" r="0.4" fill="#b0acd8"/><circle cx="136.7" cy="1004.3" r="0.7" fill="#b0acd8"/><circle cx="202.1" cy="1036.3" r="0.6" fill="#b0acd8"/><circle cx="184.4" cy="1033.0" r="0.7" fill="#b0acd8"/><circle cx="189.4" cy="1033.6" r="0.8" fill="#8f89cc"/><circle cx="197.6" cy="1027.8" r="0.5" fill="#8f89cc"/><circle cx="189.1" cy="1028.5" r="0.7" fill="#8f89cc"/><circle cx="202.5" cy="1002.5" r="0.6" fill="#8f89cc"/><circle cx="200.3" cy="1010.7" r="0.8" fill="#b0acd8"/><circle cx="121.2" cy="1024.7" r="0.6" fill="#b0acd8"/><circle cx="118.5" cy="1020.8" r="0.8" fill="#8f89cc"/><circle cx="120.0" cy="1019.0" r="0.4" fill="#b0acd8"/><circle cx="192.6" cy="978.3" r="0.7" fill="#b0acd8"/><circle cx="115.8" cy="1004.1" r="0.6" fill="#b0acd8"/><circle cx="116.1" cy="1034.1" r="0.7" fill="#a49fd6"/><circle cx="141.8" cy="1008.4" r="0.5" fill="#8f89cc"/><circle cx="185.9" cy="978.6" r="0.6" fill="#8f89cc"/><circle cx="120.5" cy="1019.2" r="0.7" fill="#8f89cc"/><circle cx="132.3" cy="1027.5" r="0.6" fill="#a49fd6"/><circle cx="150.0" cy="1020.8" r="0.6" fill="#8f89cc"/><circle cx="149.4" cy="1008.2" r="0.6" fill="#b0acd8"/><circle cx="139.5" cy="1043.4" r="0.7" fill="#a49fd6"/><circle cx="173.3" cy="990.1" r="0.4" fill="#8f89cc"/><circle cx="128.6" cy="1036.1" r="0.8" fill="#b0acd8"/><circle cx="199.7" cy="1024.5" r="0.5" fill="#a49fd6"/><circle cx="146.3" cy="1027.2" r="0.6" fill="#b0acd8"/><circle cx="169.2" cy="1023.6" r="0.7" fill="#b0acd8"/><circle cx="190.0" cy="991.1" r="0.7" fill="#b0acd8"/><circle cx="182.0" cy="991.0" r="0.4" fill="#a49fd6"/><circle cx="162.4" cy="1042.5" r="0.6" fill="#a49fd6"/><circle cx="199.7" cy="1030.2" r="0.6" fill="#8f89cc"/><circle cx="121.8" cy="1002.3" r="0.6" fill="#8f89cc"/><circle cx="112.6" cy="1029.4" r="0.8" fill="#a49fd6"/><circle cx="159.5" cy="988.3" r="0.7" fill="#8f89cc"/><circle cx="169.5" cy="1037.5" r="0.8" fill="#a49fd6"/><circle cx="156.9" cy="994.1" r="0.4" fill="#8f89cc"/><circle cx="156.1" cy="994.0" r="0.5" fill="#b0acd8"/><circle cx="178.5" cy="1013.4" r="0.7" fill="#b0acd8"/><circle cx="167.5" cy="1011.5" r="0.6" fill="#8f89cc"/><circle cx="152.5" cy="1024.9" r="0.6" fill="#a49fd6"/><circle cx="134.6" cy="1035.7" r="0.6" fill="#b0acd8"/><circle cx="163.4" cy="996.2" r="0.5" fill="#a49fd6"/><circle cx="163.5" cy="1021.1" r="0.6" fill="#b0acd8"/><circle cx="180.4" cy="978.3" r="0.7" fill="#b0acd8"/><circle cx="161.5" cy="995.3" r="0.5" fill="#8f89cc"/><circle cx="149.2" cy="1025.4" r="0.7" fill="#8f89cc"/><circle cx="185.9" cy="1018.5" r="0.7" fill="#b0acd8"/><circle cx="194.8" cy="982.1" r="0.7" fill="#a49fd6"/><circle cx="161.5" cy="1043.7" r="0.5" fill="#b0acd8"/><circle cx="163.1" cy="1000.5" r="0.7" fill="#8f89cc"/><circle cx="190.3" cy="1010.8" r="0.7" fill="#b0acd8"/><circle cx="149.2" cy="1024.2" r="0.6" fill="#b0acd8"/><circle cx="147.3" cy="997.7" r="0.6" fill="#a49fd6"/><circle cx="146.0" cy="1025.6" r="0.4" fill="#b0acd8"/><circle cx="159.5" cy="1026.4" r="0.7" fill="#a49fd6"/><circle cx="125.5" cy="997.3" r="0.5" fill="#a49fd6"/><circle cx="152.2" cy="1028.8" r="0.7" fill="#a49fd6"/><circle cx="170.1" cy="1028.8" r="0.6" fill="#a49fd6"/><circle cx="182.9" cy="982.9" r="0.7" fill="#8f89cc"/><circle cx="195.7" cy="1036.9" r="0.7" fill="#8f89cc"/><circle cx="158.6" cy="1024.5" r="0.6" fill="#b0acd8"/><circle cx="142.2" cy="989.2" r="0.7" fill="#b0acd8"/><circle cx="134.7" cy="1042.0" r="0.6" fill="#8f89cc"/><circle cx="182.3" cy="1026.0" r="0.6" fill="#b0acd8"/><circle cx="156.8" cy="997.5" r="0.4" fill="#a49fd6"/><circle cx="117.6" cy="1007.8" r="0.4" fill="#b0acd8"/><circle cx="185.3" cy="1019.0" r="0.6" fill="#b0acd8"/><circle cx="153.6" cy="1043.0" r="0.5" fill="#8f89cc"/><circle cx="184.9" cy="1014.5" r="0.5" fill="#8f89cc"/><circle cx="122.2" cy="1039.4" r="0.5" fill="#a49fd6"/><circle cx="114.2" cy="1021.5" r="0.4" fill="#a49fd6"/><circle cx="174.9" cy="981.5" r="0.5" fill="#b0acd8"/><circle cx="131.5" cy="1033.7" r="0.7" fill="#b0acd8"/><circle cx="112.7" cy="993.0" r="0.5" fill="#a49fd6"/><circle cx="113.6" cy="994.6" r="0.7" fill="#a49fd6"/><circle cx="188.5" cy="990.8" r="0.6" fill="#8f89cc"/><circle cx="153.6" cy="989.4" r="0.4" fill="#b0acd8"/><circle cx="195.9" cy="986.8" r="0.6" fill="#8f89cc"/><circle cx="129.8" cy="1041.1" r="0.6" fill="#8f89cc"/><circle cx="187.0" cy="1038.9" r="0.5" fill="#8f89cc"/><circle cx="190.1" cy="997.6" r="0.4" fill="#b0acd8"/><circle cx="203.0" cy="981.6" r="0.5" fill="#8f89cc"/><circle cx="160.4" cy="1026.7" r="0.8" fill="#8f89cc"/><circle cx="112.7" cy="995.3" r="0.8" fill="#b0acd8"/><circle cx="156.0" cy="1036.1" r="0.6" fill="#8f89cc"/><circle cx="190.3" cy="990.6" r="0.6" fill="#8f89cc"/><circle cx="189.8" cy="1028.7" r="0.5" fill="#a49fd6"/><circle cx="174.5" cy="1026.3" r="0.8" fill="#a49fd6"/><circle cx="188.5" cy="1037.7" r="0.5" fill="#8f89cc"/><circle cx="160.4" cy="995.3" r="0.8" fill="#a49fd6"/><circle cx="195.3" cy="1005.8" r="0.6" fill="#8f89cc"/><circle cx="180.6" cy="1021.7" r="0.5" fill="#a49fd6"/><circle cx="153.0" cy="1026.2" r="0.5" fill="#a49fd6"/><circle cx="121.0" cy="1013.3" r="0.5" fill="#b0acd8"/><circle cx="137.4" cy="1012.2" r="0.8" fill="#8f89cc"/><circle cx="162.4" cy="1009.3" r="0.6" fill="#a49fd6"/><circle cx="145.6" cy="1044.4" r="0.5" fill="#a49fd6"/><circle cx="166.3" cy="981.0" r="0.7" fill="#a49fd6"/><circle cx="178.8" cy="1001.1" r="0.5" fill="#a49fd6"/><circle cx="131.3" cy="1015.8" r="0.5" fill="#b0acd8"/><circle cx="170.9" cy="1014.8" r="0.7" fill="#b0acd8"/><circle cx="174.1" cy="1016.1" r="0.6" fill="#8f89cc"/><circle cx="136.0" cy="1034.8" r="0.5" fill="#b0acd8"/><circle cx="138.7" cy="994.3" r="0.7" fill="#b0acd8"/><circle cx="122.5" cy="1024.9" r="0.5" fill="#8f89cc"/><circle cx="178.2" cy="1038.8" r="0.6" fill="#8f89cc"/><circle cx="157.1" cy="1004.7" r="0.7" fill="#b0acd8"/><circle cx="155.7" cy="1026.3" r="0.6" fill="#b0acd8"/><circle cx="192.2" cy="1029.3" r="0.6" fill="#b0acd8"/><circle cx="119.3" cy="1029.7" r="0.7" fill="#b0acd8"/><circle cx="116.6" cy="1012.4" r="0.4" fill="#a49fd6"/><circle cx="150.5" cy="985.2" r="0.6" fill="#a49fd6"/><circle cx="187.0" cy="994.7" r="0.7" fill="#b0acd8"/><circle cx="141.3" cy="1014.8" r="0.6" fill="#8f89cc"/><circle cx="159.7" cy="1001.7" r="0.4" fill="#a49fd6"/><circle cx="191.5" cy="1037.9" r="0.5" fill="#8f89cc"/><circle cx="172.8" cy="1031.2" r="0.4" fill="#a49fd6"/><circle cx="194.2" cy="998.6" r="0.7" fill="#a49fd6"/><circle cx="180.9" cy="996.6" r="0.5" fill="#8f89cc"/><circle cx="195.7" cy="979.8" r="0.7" fill="#8f89cc"/><circle cx="127.1" cy="993.0" r="0.7" fill="#b0acd8"/><circle cx="157.7" cy="985.2" r="0.6" fill="#b0acd8"/><circle cx="170.3" cy="1034.5" r="0.6" fill="#a49fd6"/><circle cx="117.9" cy="992.4" r="0.6" fill="#8f89cc"/><circle cx="190.4" cy="1039.9" r="0.4" fill="#a49fd6"/><circle cx="170.4" cy="1013.5" r="0.6" fill="#b0acd8"/><circle cx="184.2" cy="1005.9" r="0.4" fill="#b0acd8"/><circle cx="111.9" cy="1026.8" r="0.5" fill="#b0acd8"/><circle cx="197.5" cy="1021.6" r="0.4" fill="#b0acd8"/><circle cx="139.9" cy="1039.7" r="0.6" fill="#8f89cc"/><circle cx="197.3" cy="1042.0" r="0.5" fill="#b0acd8"/><circle cx="178.1" cy="1021.4" r="0.8" fill="#8f89cc"/><circle cx="129.9" cy="1031.8" r="0.6" fill="#a49fd6"/><circle cx="111.2" cy="1003.9" r="0.7" fill="#8f89cc"/><circle cx="162.9" cy="981.2" r="0.4" fill="#8f89cc"/><circle cx="197.2" cy="994.9" r="0.4" fill="#b0acd8"/><circle cx="122.2" cy="1041.5" r="0.5" fill="#b0acd8"/><circle cx="178.0" cy="985.4" r="0.7" fill="#a49fd6"/><circle cx="141.3" cy="1037.2" r="0.7" fill="#b0acd8"/><circle cx="142.5" cy="1030.7" r="0.5" fill="#a49fd6"/><circle cx="201.0" cy="1009.6" r="0.6" fill="#a49fd6"/><circle cx="151.4" cy="985.4" r="0.5" fill="#8f89cc"/><circle cx="166.9" cy="981.1" r="0.8" fill="#8f89cc"/><circle cx="173.6" cy="985.9" r="0.5" fill="#b0acd8"/><circle cx="157.2" cy="1008.4" r="0.5" fill="#8f89cc"/><circle cx="188.6" cy="1018.1" r="0.6" fill="#b0acd8"/><circle cx="179.8" cy="1014.6" r="0.7" fill="#a49fd6"/><circle cx="158.1" cy="1036.4" r="0.6" fill="#a49fd6"/><circle cx="134.8" cy="1037.1" r="0.5" fill="#b0acd8"/><circle cx="111.6" cy="1005.8" r="0.4" fill="#a49fd6"/><circle cx="169.7" cy="1032.1" r="0.4" fill="#a49fd6"/><circle cx="187.2" cy="1001.4" r="0.5" fill="#8f89cc"/><circle cx="144.0" cy="1027.9" r="0.5" fill="#b0acd8"/><circle cx="173.2" cy="1025.9" r="0.5" fill="#8f89cc"/><circle cx="181.5" cy="1000.3" r="0.7" fill="#b0acd8"/><circle cx="200.2" cy="1026.9" r="0.5" fill="#a49fd6"/><circle cx="134.5" cy="1026.4" r="0.7" fill="#a49fd6"/><circle cx="159.7" cy="1000.8" r="0.5" fill="#b0acd8"/><circle cx="185.0" cy="988.3" r="0.4" fill="#a49fd6"/><circle cx="189.0" cy="1026.0" r="0.5" fill="#b0acd8"/><circle cx="147.9" cy="1037.2" r="0.5" fill="#b0acd8"/><circle cx="149.9" cy="1024.4" r="0.7" fill="#b0acd8"/><circle cx="156.7" cy="1029.4" r="0.5" fill="#a49fd6"/><circle cx="111.0" cy="1004.9" r="0.5" fill="#b0acd8"/><circle cx="152.9" cy="1033.8" r="0.5" fill="#8f89cc"/><circle cx="164.0" cy="1033.7" r="0.7" fill="#b0acd8"/><circle cx="163.3" cy="996.6" r="0.8" fill="#8f89cc"/><circle cx="182.1" cy="1043.0" r="0.7" fill="#8f89cc"/><circle cx="174.7" cy="1023.7" r="0.5" fill="#a49fd6"/><circle cx="123.5" cy="1034.4" r="0.7" fill="#8f89cc"/><circle cx="196.5" cy="1039.5" r="0.6" fill="#b0acd8"/><circle cx="130.9" cy="981.4" r="0.7" fill="#a49fd6"/><circle cx="174.5" cy="993.7" r="0.4" fill="#a49fd6"/><circle cx="143.4" cy="1033.4" r="0.6" fill="#a49fd6"/><circle cx="114.2" cy="1001.8" r="0.7" fill="#a49fd6"/><circle cx="147.7" cy="999.4" r="0.4" fill="#a49fd6"/><circle cx="183.1" cy="1036.9" r="0.7" fill="#b0acd8"/><circle cx="120.9" cy="1041.1" r="0.7" fill="#8f89cc"/><circle cx="180.2" cy="1019.2" r="0.7" fill="#b0acd8"/><circle cx="121.1" cy="994.7" r="0.7" fill="#a49fd6"/><circle cx="150.6" cy="980.2" r="0.7" fill="#a49fd6"/><circle cx="112.0" cy="1032.2" r="0.8" fill="#a49fd6"/><circle cx="125.4" cy="991.4" r="0.6" fill="#a49fd6"/><circle cx="179.0" cy="1036.9" r="0.4" fill="#b0acd8"/><circle cx="160.0" cy="986.0" r="0.7" fill="#a49fd6"/><circle cx="182.5" cy="984.9" r="0.7" fill="#b0acd8"/><circle cx="150.0" cy="1044.3" r="0.5" fill="#a49fd6"/><circle cx="124.8" cy="1020.6" r="0.7" fill="#a49fd6"/><circle cx="157.2" cy="1026.2" r="0.6" fill="#a49fd6"/><circle cx="171.7" cy="1028.4" r="0.7" fill="#b0acd8"/><circle cx="120.9" cy="1015.3" r="0.6" fill="#a49fd6"/><circle cx="198.4" cy="998.6" r="0.8" fill="#b0acd8"/><circle cx="157.2" cy="1001.1" r="0.7" fill="#8f89cc"/><circle cx="127.7" cy="1013.5" r="0.7" fill="#8f89cc"/><circle cx="181.6" cy="1032.6" r="0.4" fill="#b0acd8"/><circle cx="140.9" cy="997.2" r="0.4" fill="#a49fd6"/><circle cx="144.9" cy="1001.9" r="0.5" fill="#a49fd6"/><circle cx="123.9" cy="979.8" r="0.6" fill="#b0acd8"/><circle cx="131.7" cy="1007.6" r="0.5" fill="#a49fd6"/><circle cx="114.9" cy="1031.5" r="0.8" fill="#8f89cc"/><circle cx="168.4" cy="1042.3" r="0.6" fill="#8f89cc"/><circle cx="158.6" cy="1024.0" r="0.6" fill="#a49fd6"/><circle cx="183.3" cy="1039.1" r="0.7" fill="#8f89cc"/><circle cx="113.7" cy="1033.2" r="0.6" fill="#8f89cc"/><circle cx="145.7" cy="1002.9" r="0.5" fill="#8f89cc"/><circle cx="167.2" cy="1025.3" r="0.6" fill="#a49fd6"/><circle cx="115.6" cy="979.6" r="0.5" fill="#8f89cc"/><circle cx="119.7" cy="997.7" r="0.5" fill="#b0acd8"/><circle cx="189.1" cy="1001.4" r="0.4" fill="#a49fd6"/><circle cx="124.4" cy="1019.2" r="0.4" fill="#b0acd8"/><circle cx="155.1" cy="1040.1" r="0.6" fill="#b0acd8"/><circle cx="157.5" cy="994.4" r="0.7" fill="#a49fd6"/><circle cx="128.3" cy="1019.2" r="0.8" fill="#a49fd6"/><circle cx="199.4" cy="1032.1" r="0.8" fill="#b0acd8"/><circle cx="128.5" cy="988.4" r="0.7" fill="#a49fd6"/><circle cx="150.5" cy="978.4" r="0.5" fill="#b0acd8"/><circle cx="130.5" cy="1020.0" r="0.5" fill="#b0acd8"/><circle cx="186.9" cy="995.1" r="0.6" fill="#a49fd6"/><circle cx="162.3" cy="1023.5" r="0.6" fill="#b0acd8"/><circle cx="128.9" cy="1001.7" r="0.5" fill="#8f89cc"/><circle cx="182.4" cy="987.4" r="0.8" fill="#a49fd6"/><circle cx="146.9" cy="1031.0" r="0.5" fill="#a49fd6"/><circle cx="171.2" cy="1010.0" r="0.4" fill="#b0acd8"/><circle cx="134.4" cy="984.2" r="0.7" fill="#b0acd8"/><circle cx="112.3" cy="979.6" r="0.7" fill="#a49fd6"/><circle cx="170.7" cy="996.9" r="0.8" fill="#a49fd6"/><circle cx="145.9" cy="1018.1" r="0.8" fill="#8f89cc"/><circle cx="179.6" cy="1004.2" r="0.7" fill="#a49fd6"/></g><g clip-path="url(#g3)"><circle cx="225.0" cy="969.2" r="0.6" fill="#8f89cc"/><circle cx="246.2" cy="977.7" r="0.5" fill="#a49fd6"/><circle cx="266.5" cy="979.4" r="0.4" fill="#8f89cc"/><circle cx="256.8" cy="1009.3" r="0.6" fill="#8f89cc"/><circle cx="299.6" cy="1035.9" r="0.7" fill="#8f89cc"/><circle cx="211.6" cy="1018.3" r="0.7" fill="#a49fd6"/><circle cx="211.1" cy="966.4" r="0.7" fill="#b0acd8"/><circle cx="233.5" cy="1039.0" r="0.4" fill="#8f89cc"/><circle cx="289.6" cy="962.2" r="0.5" fill="#a49fd6"/><circle cx="292.8" cy="1029.1" r="0.4" fill="#8f89cc"/><circle cx="296.9" cy="978.7" r="0.6" fill="#b0acd8"/><circle cx="275.8" cy="969.2" r="0.6" fill="#8f89cc"/><circle cx="278.2" cy="1008.2" r="0.7" fill="#a49fd6"/><circle cx="242.2" cy="1043.7" r="0.6" fill="#b0acd8"/><circle cx="298.9" cy="1000.0" r="0.8" fill="#b0acd8"/><circle cx="291.3" cy="1029.1" r="0.6" fill="#a49fd6"/><circle cx="257.4" cy="961.6" r="0.7" fill="#b0acd8"/><circle cx="254.1" cy="1038.3" r="0.7" fill="#a49fd6"/><circle cx="212.2" cy="994.6" r="0.4" fill="#8f89cc"/><circle cx="225.6" cy="1005.1" r="0.7" fill="#b0acd8"/><circle cx="291.6" cy="1030.7" r="0.6" fill="#a49fd6"/><circle cx="223.9" cy="982.7" r="0.6" fill="#a49fd6"/><circle cx="221.1" cy="997.6" r="0.6" fill="#8f89cc"/><circle cx="256.4" cy="975.8" r="0.6" fill="#b0acd8"/><circle cx="210.5" cy="1019.6" r="0.7" fill="#b0acd8"/><circle cx="279.5" cy="1044.4" r="0.7" fill="#a49fd6"/><circle cx="296.8" cy="978.2" r="0.5" fill="#8f89cc"/><circle cx="230.0" cy="1044.4" r="0.7" fill="#b0acd8"/><circle cx="297.0" cy="983.6" r="0.7" fill="#a49fd6"/><circle cx="255.3" cy="970.4" r="0.6" fill="#a49fd6"/><circle cx="263.0" cy="1039.0" r="0.4" fill="#8f89cc"/><circle cx="227.7" cy="989.7" r="0.5" fill="#b0acd8"/><circle cx="246.9" cy="1005.7" r="0.6" fill="#8f89cc"/><circle cx="293.7" cy="997.0" r="0.5" fill="#8f89cc"/><circle cx="299.7" cy="997.8" r="0.5" fill="#a49fd6"/><circle cx="222.0" cy="996.1" r="0.5" fill="#a49fd6"/><circle cx="271.9" cy="990.6" r="0.7" fill="#8f89cc"/><circle cx="230.0" cy="1005.8" r="0.5" fill="#b0acd8"/><circle cx="286.2" cy="1042.4" r="0.5" fill="#b0acd8"/><circle cx="267.7" cy="1009.1" r="0.4" fill="#8f89cc"/><circle cx="235.2" cy="1031.1" r="0.8" fill="#a49fd6"/><circle cx="230.5" cy="1012.3" r="0.5" fill="#b0acd8"/><circle cx="272.2" cy="1043.9" r="0.7" fill="#b0acd8"/><circle cx="235.6" cy="997.7" r="0.7" fill="#b0acd8"/><circle cx="296.3" cy="970.7" r="0.7" fill="#b0acd8"/><circle cx="235.2" cy="1028.7" r="0.5" fill="#b0acd8"/><circle cx="243.1" cy="1027.6" r="0.7" fill="#b0acd8"/><circle cx="268.0" cy="1043.8" r="0.5" fill="#b0acd8"/><circle cx="284.0" cy="1026.0" r="0.5" fill="#b0acd8"/><circle cx="274.5" cy="961.8" r="0.7" fill="#8f89cc"/><circle cx="241.8" cy="962.1" r="0.4" fill="#8f89cc"/><circle cx="212.9" cy="1011.0" r="0.6" fill="#8f89cc"/><circle cx="228.0" cy="962.6" r="0.4" fill="#8f89cc"/><circle cx="232.3" cy="967.6" r="0.7" fill="#8f89cc"/><circle cx="222.2" cy="970.3" r="0.6" fill="#8f89cc"/><circle cx="237.7" cy="1026.9" r="0.6" fill="#8f89cc"/><circle cx="271.2" cy="1033.8" r="0.4" fill="#a49fd6"/><circle cx="220.1" cy="1028.7" r="0.5" fill="#8f89cc"/><circle cx="222.7" cy="989.7" r="0.5" fill="#a49fd6"/><circle cx="227.6" cy="966.3" r="0.8" fill="#b0acd8"/><circle cx="240.4" cy="978.1" r="0.7" fill="#a49fd6"/><circle cx="233.8" cy="997.8" r="0.7" fill="#b0acd8"/><circle cx="225.5" cy="996.9" r="0.7" fill="#8f89cc"/><circle cx="265.2" cy="980.0" r="0.8" fill="#a49fd6"/><circle cx="229.0" cy="1020.4" r="0.6" fill="#b0acd8"/><circle cx="276.1" cy="1036.3" r="0.8" fill="#8f89cc"/><circle cx="233.3" cy="1037.7" r="0.5" fill="#a49fd6"/><circle cx="277.0" cy="1044.9" r="0.5" fill="#8f89cc"/><circle cx="269.0" cy="1044.0" r="0.5" fill="#a49fd6"/><circle cx="235.2" cy="998.8" r="0.6" fill="#a49fd6"/><circle cx="267.6" cy="967.4" r="0.5" fill="#8f89cc"/><circle cx="280.6" cy="964.7" r="0.5" fill="#8f89cc"/><circle cx="285.2" cy="1027.6" r="0.4" fill="#a49fd6"/><circle cx="228.2" cy="978.4" r="0.7" fill="#8f89cc"/><circle cx="211.2" cy="961.7" r="0.6" fill="#b0acd8"/><circle cx="253.5" cy="1040.7" r="0.5" fill="#8f89cc"/><circle cx="297.1" cy="999.6" r="0.8" fill="#a49fd6"/><circle cx="275.4" cy="1007.4" r="0.5" fill="#a49fd6"/><circle cx="258.5" cy="982.7" r="0.6" fill="#a49fd6"/><circle cx="223.7" cy="1023.1" r="0.6" fill="#8f89cc"/><circle cx="250.2" cy="972.0" r="0.4" fill="#b0acd8"/><circle cx="280.4" cy="964.6" r="0.6" fill="#a49fd6"/><circle cx="240.1" cy="971.0" r="0.6" fill="#b0acd8"/><circle cx="272.9" cy="966.6" r="0.5" fill="#a49fd6"/><circle cx="282.6" cy="977.7" r="0.6" fill="#8f89cc"/><circle cx="289.3" cy="1006.5" r="0.7" fill="#b0acd8"/><circle cx="296.7" cy="1010.9" r="0.7" fill="#8f89cc"/><circle cx="254.1" cy="985.3" r="0.7" fill="#a49fd6"/><circle cx="232.9" cy="986.7" r="0.7" fill="#8f89cc"/><circle cx="270.5" cy="1008.4" r="0.7" fill="#8f89cc"/><circle cx="253.6" cy="983.3" r="0.4" fill="#a49fd6"/><circle cx="290.5" cy="1005.3" r="0.7" fill="#8f89cc"/><circle cx="215.3" cy="970.3" r="0.6" fill="#a49fd6"/><circle cx="291.9" cy="1034.3" r="0.5" fill="#a49fd6"/><circle cx="283.0" cy="1003.8" r="0.6" fill="#8f89cc"/><circle cx="214.6" cy="1029.3" r="0.4" fill="#b0acd8"/><circle cx="217.2" cy="990.1" r="0.7" fill="#8f89cc"/><circle cx="258.6" cy="998.3" r="0.5" fill="#a49fd6"/><circle cx="278.6" cy="1011.3" r="0.6" fill="#8f89cc"/><circle cx="248.1" cy="1036.7" r="0.6" fill="#b0acd8"/><circle cx="242.5" cy="987.6" r="0.4" fill="#b0acd8"/><circle cx="281.2" cy="1015.7" r="0.7" fill="#a49fd6"/><circle cx="209.6" cy="1001.2" r="0.6" fill="#b0acd8"/><circle cx="240.1" cy="1028.3" r="0.8" fill="#b0acd8"/><circle cx="297.2" cy="1013.1" r="0.5" fill="#8f89cc"/><circle cx="237.7" cy="987.7" r="0.8" fill="#a49fd6"/><circle cx="240.9" cy="1039.4" r="0.4" fill="#b0acd8"/><circle cx="211.7" cy="1044.8" r="0.7" fill="#a49fd6"/><circle cx="235.2" cy="996.3" r="0.4" fill="#b0acd8"/><circle cx="287.9" cy="1039.2" r="0.4" fill="#a49fd6"/><circle cx="214.8" cy="1003.2" r="0.6" fill="#b0acd8"/><circle cx="298.0" cy="1018.8" r="0.4" fill="#a49fd6"/><circle cx="246.5" cy="987.5" r="0.6" fill="#b0acd8"/><circle cx="258.1" cy="979.5" r="0.5" fill="#8f89cc"/><circle cx="242.3" cy="1011.6" r="0.8" fill="#b0acd8"/><circle cx="233.7" cy="980.2" r="0.5" fill="#b0acd8"/><circle cx="259.5" cy="987.8" r="0.6" fill="#8f89cc"/><circle cx="214.5" cy="968.8" r="0.4" fill="#b0acd8"/><circle cx="209.3" cy="1005.1" r="0.6" fill="#8f89cc"/><circle cx="260.3" cy="1016.1" r="0.7" fill="#b0acd8"/><circle cx="234.3" cy="1020.0" r="0.7" fill="#8f89cc"/><circle cx="211.3" cy="971.0" r="0.6" fill="#a49fd6"/><circle cx="238.7" cy="961.0" r="0.7" fill="#a49fd6"/><circle cx="280.6" cy="1003.1" r="0.6" fill="#b0acd8"/><circle cx="217.9" cy="1006.5" r="0.5" fill="#a49fd6"/><circle cx="240.9" cy="995.4" r="0.5" fill="#b0acd8"/><circle cx="238.4" cy="1009.9" r="0.6" fill="#b0acd8"/><circle cx="242.7" cy="1025.4" r="0.8" fill="#a49fd6"/><circle cx="213.5" cy="1035.8" r="0.5" fill="#b0acd8"/><circle cx="267.0" cy="986.6" r="0.4" fill="#8f89cc"/><circle cx="229.2" cy="1015.5" r="0.5" fill="#a49fd6"/><circle cx="244.2" cy="993.7" r="0.7" fill="#8f89cc"/><circle cx="260.3" cy="982.2" r="0.6" fill="#8f89cc"/><circle cx="211.2" cy="996.7" r="0.5" fill="#a49fd6"/><circle cx="298.8" cy="995.3" r="0.8" fill="#8f89cc"/><circle cx="256.4" cy="985.1" r="0.4" fill="#b0acd8"/><circle cx="295.2" cy="997.1" r="0.7" fill="#a49fd6"/><circle cx="210.6" cy="998.9" r="0.5" fill="#b0acd8"/><circle cx="273.1" cy="1043.3" r="0.5" fill="#8f89cc"/><circle cx="227.5" cy="1017.4" r="0.8" fill="#a49fd6"/><circle cx="271.5" cy="1016.8" r="0.7" fill="#b0acd8"/><circle cx="231.3" cy="1030.3" r="0.4" fill="#8f89cc"/><circle cx="271.2" cy="983.1" r="0.6" fill="#a49fd6"/><circle cx="292.3" cy="968.3" r="0.7" fill="#b0acd8"/><circle cx="289.3" cy="1021.4" r="0.7" fill="#a49fd6"/><circle cx="263.4" cy="1000.9" r="0.5" fill="#a49fd6"/><circle cx="210.8" cy="977.1" r="0.6" fill="#a49fd6"/><circle cx="248.6" cy="1004.3" r="0.7" fill="#b0acd8"/><circle cx="210.4" cy="1004.3" r="0.5" fill="#b0acd8"/><circle cx="209.0" cy="971.1" r="0.5" fill="#8f89cc"/><circle cx="233.3" cy="1037.2" r="0.7" fill="#a49fd6"/><circle cx="249.1" cy="1034.4" r="0.7" fill="#a49fd6"/><circle cx="253.6" cy="996.1" r="0.6" fill="#b0acd8"/><circle cx="220.3" cy="973.4" r="0.8" fill="#a49fd6"/><circle cx="219.4" cy="986.2" r="0.5" fill="#a49fd6"/><circle cx="297.2" cy="1009.8" r="0.8" fill="#8f89cc"/><circle cx="269.0" cy="981.8" r="0.8" fill="#8f89cc"/><circle cx="209.3" cy="1042.3" r="0.6" fill="#b0acd8"/><circle cx="214.5" cy="992.9" r="0.7" fill="#b0acd8"/><circle cx="245.4" cy="968.2" r="0.5" fill="#b0acd8"/><circle cx="224.8" cy="1019.8" r="0.7" fill="#8f89cc"/><circle cx="266.9" cy="965.5" r="0.8" fill="#b0acd8"/><circle cx="272.1" cy="965.7" r="0.7" fill="#b0acd8"/><circle cx="283.9" cy="1025.8" r="0.5" fill="#8f89cc"/><circle cx="213.7" cy="1004.7" r="0.6" fill="#a49fd6"/><circle cx="269.6" cy="1043.0" r="0.5" fill="#b0acd8"/><circle cx="232.6" cy="1004.7" r="0.4" fill="#8f89cc"/><circle cx="240.1" cy="1037.2" r="0.5" fill="#8f89cc"/><circle cx="257.1" cy="980.9" r="0.7" fill="#a49fd6"/><circle cx="258.8" cy="983.9" r="0.5" fill="#a49fd6"/><circle cx="218.3" cy="1019.4" r="0.6" fill="#8f89cc"/><circle cx="297.5" cy="982.2" r="0.5" fill="#a49fd6"/><circle cx="291.6" cy="977.3" r="0.4" fill="#a49fd6"/><circle cx="233.5" cy="967.0" r="0.6" fill="#a49fd6"/><circle cx="235.5" cy="975.1" r="0.5" fill="#a49fd6"/><circle cx="291.2" cy="969.1" r="0.6" fill="#b0acd8"/><circle cx="232.5" cy="1020.7" r="0.6" fill="#a49fd6"/><circle cx="276.0" cy="983.8" r="0.8" fill="#b0acd8"/><circle cx="260.1" cy="1019.3" r="0.8" fill="#b0acd8"/><circle cx="259.4" cy="1027.5" r="0.4" fill="#8f89cc"/><circle cx="212.6" cy="1003.3" r="0.6" fill="#a49fd6"/><circle cx="251.9" cy="1036.3" r="0.8" fill="#a49fd6"/><circle cx="221.4" cy="1034.4" r="0.5" fill="#a49fd6"/><circle cx="212.0" cy="1027.7" r="0.5" fill="#8f89cc"/><circle cx="234.6" cy="982.4" r="0.4" fill="#b0acd8"/><circle cx="228.9" cy="978.1" r="0.7" fill="#b0acd8"/><circle cx="237.1" cy="970.0" r="0.6" fill="#b0acd8"/><circle cx="270.4" cy="1032.0" r="0.6" fill="#b0acd8"/><circle cx="211.7" cy="1027.8" r="0.5" fill="#a49fd6"/><circle cx="243.8" cy="1043.6" r="0.7" fill="#a49fd6"/><circle cx="285.7" cy="974.2" r="0.7" fill="#8f89cc"/><circle cx="227.2" cy="1037.6" r="0.8" fill="#8f89cc"/><circle cx="217.4" cy="975.2" r="0.7" fill="#8f89cc"/><circle cx="252.7" cy="966.7" r="0.5" fill="#a49fd6"/><circle cx="279.9" cy="1029.7" r="0.4" fill="#b0acd8"/><circle cx="246.5" cy="996.8" r="0.6" fill="#8f89cc"/><circle cx="274.5" cy="979.7" r="0.8" fill="#b0acd8"/><circle cx="299.5" cy="1040.0" r="0.6" fill="#a49fd6"/><circle cx="210.4" cy="1006.2" r="0.6" fill="#b0acd8"/><circle cx="288.6" cy="1041.4" r="0.5" fill="#b0acd8"/><circle cx="287.2" cy="995.8" r="0.8" fill="#b0acd8"/><circle cx="217.2" cy="965.4" r="0.6" fill="#8f89cc"/><circle cx="262.1" cy="1037.4" r="0.5" fill="#a49fd6"/><circle cx="232.0" cy="1017.5" r="0.6" fill="#b0acd8"/><circle cx="265.9" cy="993.6" r="0.8" fill="#a49fd6"/><circle cx="289.2" cy="1020.9" r="0.6" fill="#8f89cc"/><circle cx="224.4" cy="972.3" r="0.7" fill="#b0acd8"/><circle cx="211.8" cy="1013.5" r="0.6" fill="#8f89cc"/><circle cx="295.7" cy="966.1" r="0.7" fill="#8f89cc"/><circle cx="298.6" cy="1027.9" r="0.7" fill="#a49fd6"/><circle cx="254.6" cy="1013.3" r="0.7" fill="#b0acd8"/><circle cx="272.9" cy="1043.4" r="0.7" fill="#8f89cc"/><circle cx="297.7" cy="1038.9" r="0.8" fill="#8f89cc"/><circle cx="275.8" cy="1026.6" r="0.5" fill="#8f89cc"/><circle cx="210.0" cy="1034.1" r="0.5" fill="#a49fd6"/><circle cx="263.7" cy="993.4" r="0.7" fill="#a49fd6"/><circle cx="239.7" cy="1025.9" r="0.5" fill="#b0acd8"/><circle cx="254.0" cy="998.9" r="0.6" fill="#a49fd6"/><circle cx="292.5" cy="1042.4" r="0.7" fill="#8f89cc"/><circle cx="293.7" cy="993.4" r="0.5" fill="#b0acd8"/><circle cx="243.7" cy="1017.4" r="0.5" fill="#a49fd6"/><circle cx="251.5" cy="993.5" r="0.6" fill="#a49fd6"/><circle cx="293.2" cy="1000.6" r="0.7" fill="#b0acd8"/><circle cx="277.8" cy="994.7" r="0.7" fill="#b0acd8"/><circle cx="230.8" cy="1016.9" r="0.4" fill="#b0acd8"/><circle cx="242.9" cy="1032.6" r="0.6" fill="#a49fd6"/><circle cx="286.8" cy="985.0" r="0.4" fill="#a49fd6"/><circle cx="251.1" cy="1001.2" r="0.7" fill="#b0acd8"/><circle cx="225.9" cy="1044.3" r="0.5" fill="#8f89cc"/><circle cx="287.3" cy="1006.5" r="0.5" fill="#8f89cc"/><circle cx="299.4" cy="1042.5" r="0.8" fill="#a49fd6"/><circle cx="237.2" cy="1043.3" r="0.6" fill="#a49fd6"/><circle cx="227.6" cy="984.4" r="0.5" fill="#b0acd8"/><circle cx="231.6" cy="997.5" r="0.7" fill="#a49fd6"/><circle cx="250.3" cy="983.5" r="0.5" fill="#a49fd6"/><circle cx="284.1" cy="981.4" r="0.5" fill="#8f89cc"/><circle cx="214.8" cy="1029.2" r="0.4" fill="#8f89cc"/><circle cx="284.7" cy="1041.8" r="0.8" fill="#a49fd6"/><circle cx="251.5" cy="1009.8" r="0.7" fill="#8f89cc"/><circle cx="243.5" cy="968.5" r="0.7" fill="#b0acd8"/><circle cx="223.6" cy="1001.6" r="0.7" fill="#a49fd6"/><circle cx="287.4" cy="972.2" r="0.5" fill="#b0acd8"/><circle cx="210.4" cy="970.5" r="0.6" fill="#a49fd6"/><circle cx="255.6" cy="1016.4" r="0.6" fill="#a49fd6"/><circle cx="229.4" cy="988.9" r="0.7" fill="#b0acd8"/><circle cx="250.8" cy="1012.0" r="0.8" fill="#a49fd6"/><circle cx="238.5" cy="977.0" r="0.5" fill="#8f89cc"/><circle cx="261.7" cy="1020.7" r="0.7" fill="#b0acd8"/><circle cx="235.6" cy="1012.3" r="0.5" fill="#b0acd8"/><circle cx="255.9" cy="973.0" r="0.7" fill="#a49fd6"/><circle cx="226.6" cy="966.1" r="0.6" fill="#b0acd8"/><circle cx="237.4" cy="1035.0" r="0.6" fill="#b0acd8"/><circle cx="257.8" cy="1012.6" r="0.5" fill="#8f89cc"/><circle cx="209.5" cy="1003.6" r="0.5" fill="#a49fd6"/><circle cx="213.8" cy="1010.8" r="0.6" fill="#8f89cc"/><circle cx="298.9" cy="1015.9" r="0.7" fill="#a49fd6"/><circle cx="235.4" cy="977.4" r="0.7" fill="#a49fd6"/><circle cx="262.1" cy="1000.3" r="0.7" fill="#b0acd8"/><circle cx="284.3" cy="980.9" r="0.5" fill="#b0acd8"/><circle cx="249.0" cy="1012.1" r="0.6" fill="#a49fd6"/><circle cx="229.8" cy="978.8" r="0.4" fill="#a49fd6"/><circle cx="288.5" cy="1033.1" r="0.7" fill="#b0acd8"/><circle cx="226.0" cy="1008.7" r="0.8" fill="#8f89cc"/><circle cx="285.4" cy="963.2" r="0.6" fill="#b0acd8"/><circle cx="217.3" cy="1017.1" r="0.7" fill="#b0acd8"/><circle cx="288.0" cy="1033.0" r="0.6" fill="#8f89cc"/><circle cx="291.5" cy="1035.7" r="0.4" fill="#8f89cc"/><circle cx="277.9" cy="977.2" r="0.6" fill="#a49fd6"/><circle cx="216.5" cy="1029.6" r="0.7" fill="#a49fd6"/><circle cx="256.0" cy="989.6" r="0.6" fill="#b0acd8"/><circle cx="254.1" cy="1009.9" r="0.7" fill="#8f89cc"/><circle cx="214.5" cy="972.7" r="0.7" fill="#a49fd6"/><circle cx="290.4" cy="1010.9" r="0.5" fill="#b0acd8"/><circle cx="261.4" cy="973.4" r="0.8" fill="#8f89cc"/><circle cx="297.4" cy="980.5" r="0.6" fill="#b0acd8"/><circle cx="294.6" cy="1024.0" r="0.8" fill="#a49fd6"/><circle cx="243.9" cy="1000.0" r="0.6" fill="#8f89cc"/><circle cx="251.2" cy="964.4" r="0.5" fill="#a49fd6"/><circle cx="230.4" cy="964.5" r="0.5" fill="#a49fd6"/><circle cx="232.4" cy="1032.6" r="0.7" fill="#b0acd8"/><circle cx="229.9" cy="1024.6" r="0.4" fill="#a49fd6"/><circle cx="280.1" cy="1027.3" r="0.6" fill="#a49fd6"/><circle cx="218.7" cy="1017.8" r="0.8" fill="#b0acd8"/><circle cx="251.8" cy="990.6" r="0.6" fill="#8f89cc"/><circle cx="266.5" cy="1036.3" r="0.8" fill="#8f89cc"/><circle cx="232.9" cy="996.4" r="0.5" fill="#b0acd8"/><circle cx="271.7" cy="1002.9" r="0.8" fill="#8f89cc"/><circle cx="243.2" cy="1034.9" r="0.6" fill="#a49fd6"/><circle cx="292.4" cy="1043.0" r="0.7" fill="#8f89cc"/><circle cx="278.2" cy="1025.8" r="0.5" fill="#a49fd6"/><circle cx="222.8" cy="1035.1" r="0.7" fill="#b0acd8"/><circle cx="220.0" cy="1022.6" r="0.5" fill="#b0acd8"/><circle cx="223.7" cy="963.4" r="0.8" fill="#b0acd8"/><circle cx="267.8" cy="1002.5" r="0.4" fill="#8f89cc"/><circle cx="258.1" cy="1005.4" r="0.5" fill="#8f89cc"/><circle cx="244.7" cy="979.6" r="0.6" fill="#8f89cc"/><circle cx="257.9" cy="985.4" r="0.7" fill="#b0acd8"/><circle cx="218.2" cy="1032.1" r="0.6" fill="#a49fd6"/><circle cx="243.1" cy="1024.2" r="0.7" fill="#a49fd6"/><circle cx="236.7" cy="1025.7" r="0.6" fill="#a49fd6"/><circle cx="248.6" cy="1010.5" r="0.4" fill="#8f89cc"/><circle cx="273.3" cy="1013.2" r="0.5" fill="#b0acd8"/><circle cx="287.5" cy="985.5" r="0.5" fill="#a49fd6"/><circle cx="212.9" cy="1010.6" r="0.8" fill="#8f89cc"/><circle cx="227.4" cy="968.9" r="0.6" fill="#8f89cc"/><circle cx="251.5" cy="1026.5" r="0.5" fill="#a49fd6"/><circle cx="233.9" cy="1029.8" r="0.5" fill="#8f89cc"/><circle cx="241.3" cy="1000.5" r="0.8" fill="#a49fd6"/><circle cx="286.4" cy="1036.7" r="0.8" fill="#a49fd6"/><circle cx="253.5" cy="990.5" r="0.6" fill="#8f89cc"/><circle cx="235.6" cy="963.8" r="0.4" fill="#a49fd6"/><circle cx="254.7" cy="991.2" r="0.6" fill="#a49fd6"/><circle cx="235.7" cy="1011.3" r="0.7" fill="#a49fd6"/><circle cx="258.4" cy="995.1" r="0.7" fill="#8f89cc"/><circle cx="220.3" cy="983.7" r="0.8" fill="#b0acd8"/><circle cx="231.0" cy="1035.7" r="0.4" fill="#b0acd8"/><circle cx="215.7" cy="965.1" r="0.6" fill="#b0acd8"/><circle cx="239.9" cy="1001.6" r="0.4" fill="#8f89cc"/><circle cx="240.7" cy="1026.1" r="0.5" fill="#b0acd8"/><circle cx="244.2" cy="1015.6" r="0.7" fill="#b0acd8"/><circle cx="247.4" cy="1015.3" r="0.4" fill="#8f89cc"/><circle cx="260.7" cy="1010.6" r="0.6" fill="#a49fd6"/><circle cx="232.8" cy="972.6" r="0.5" fill="#b0acd8"/><circle cx="220.6" cy="993.2" r="0.5" fill="#8f89cc"/><circle cx="227.6" cy="1017.2" r="0.7" fill="#b0acd8"/><circle cx="286.1" cy="1026.1" r="0.5" fill="#a49fd6"/><circle cx="228.6" cy="1040.4" r="0.7" fill="#a49fd6"/><circle cx="267.3" cy="985.3" r="0.7" fill="#8f89cc"/><circle cx="222.6" cy="1015.6" r="0.6" fill="#a49fd6"/><circle cx="233.5" cy="982.2" r="0.7" fill="#b0acd8"/><circle cx="293.6" cy="1014.5" r="0.7" fill="#a49fd6"/><circle cx="276.6" cy="1006.7" r="0.7" fill="#8f89cc"/><circle cx="220.9" cy="1003.1" r="0.5" fill="#a49fd6"/><circle cx="261.3" cy="961.2" r="0.5" fill="#8f89cc"/><circle cx="244.3" cy="1018.6" r="0.6" fill="#b0acd8"/><circle cx="298.4" cy="989.5" r="0.7" fill="#8f89cc"/><circle cx="258.2" cy="977.8" r="0.7" fill="#8f89cc"/><circle cx="222.1" cy="1024.6" r="0.6" fill="#8f89cc"/><circle cx="246.5" cy="1009.9" r="0.4" fill="#8f89cc"/><circle cx="235.5" cy="976.8" r="0.7" fill="#a49fd6"/><circle cx="262.2" cy="989.6" r="0.7" fill="#8f89cc"/><circle cx="299.1" cy="1044.0" r="0.5" fill="#8f89cc"/><circle cx="293.8" cy="1041.8" r="0.6" fill="#a49fd6"/><circle cx="274.8" cy="986.6" r="0.5" fill="#a49fd6"/><circle cx="263.1" cy="1024.2" r="0.5" fill="#8f89cc"/><circle cx="236.3" cy="964.1" r="0.8" fill="#b0acd8"/><circle cx="252.0" cy="997.4" r="0.7" fill="#b0acd8"/><circle cx="248.0" cy="968.3" r="0.5" fill="#b0acd8"/><circle cx="261.6" cy="1041.3" r="0.7" fill="#a49fd6"/><circle cx="290.7" cy="1024.2" r="0.4" fill="#a49fd6"/><circle cx="245.0" cy="1016.1" r="0.5" fill="#8f89cc"/><circle cx="298.7" cy="1009.3" r="0.7" fill="#b0acd8"/><circle cx="237.4" cy="1020.0" r="0.5" fill="#b0acd8"/><circle cx="223.6" cy="978.6" r="0.6" fill="#b0acd8"/><circle cx="249.7" cy="1000.7" r="0.5" fill="#b0acd8"/><circle cx="240.6" cy="994.5" r="0.5" fill="#8f89cc"/><circle cx="237.5" cy="981.3" r="0.8" fill="#8f89cc"/><circle cx="226.5" cy="1004.2" r="0.4" fill="#b0acd8"/><circle cx="230.0" cy="1020.2" r="0.5" fill="#a49fd6"/><circle cx="278.5" cy="989.3" r="0.6" fill="#8f89cc"/><circle cx="239.4" cy="985.8" r="0.5" fill="#8f89cc"/><circle cx="243.0" cy="973.4" r="0.8" fill="#b0acd8"/><circle cx="265.6" cy="991.4" r="0.6" fill="#a49fd6"/><circle cx="241.8" cy="1032.9" r="0.6" fill="#a49fd6"/><circle cx="281.4" cy="967.6" r="0.6" fill="#8f89cc"/><circle cx="236.3" cy="1018.5" r="0.8" fill="#b0acd8"/><circle cx="234.5" cy="975.9" r="0.8" fill="#a49fd6"/><circle cx="283.6" cy="970.8" r="0.6" fill="#8f89cc"/><circle cx="228.1" cy="977.2" r="0.7" fill="#a49fd6"/><circle cx="222.2" cy="967.4" r="0.6" fill="#8f89cc"/><circle cx="296.4" cy="962.4" r="0.7" fill="#a49fd6"/><circle cx="270.5" cy="1043.6" r="0.7" fill="#b0acd8"/><circle cx="248.0" cy="973.6" r="0.5" fill="#a49fd6"/><circle cx="273.1" cy="1039.1" r="0.5" fill="#8f89cc"/><circle cx="246.3" cy="985.9" r="0.5" fill="#a49fd6"/><circle cx="256.2" cy="1043.2" r="0.5" fill="#b0acd8"/><circle cx="291.1" cy="1020.2" r="0.6" fill="#a49fd6"/><circle cx="273.6" cy="1022.7" r="0.6" fill="#b0acd8"/><circle cx="273.1" cy="971.3" r="0.7" fill="#8f89cc"/><circle cx="225.2" cy="1007.2" r="0.8" fill="#8f89cc"/><circle cx="244.1" cy="986.9" r="0.6" fill="#b0acd8"/><circle cx="237.5" cy="1007.8" r="0.7" fill="#b0acd8"/><circle cx="298.4" cy="1016.4" r="0.6" fill="#b0acd8"/><circle cx="279.0" cy="984.0" r="0.8" fill="#b0acd8"/><circle cx="297.6" cy="1030.7" r="0.7" fill="#8f89cc"/><circle cx="289.5" cy="1025.6" r="0.7" fill="#b0acd8"/><circle cx="293.8" cy="962.0" r="0.6" fill="#b0acd8"/><circle cx="236.4" cy="1031.8" r="0.5" fill="#b0acd8"/><circle cx="271.8" cy="1035.3" r="0.6" fill="#8f89cc"/><circle cx="225.0" cy="978.3" r="0.7" fill="#8f89cc"/><circle cx="224.7" cy="990.1" r="0.5" fill="#a49fd6"/><circle cx="245.7" cy="967.0" r="0.7" fill="#a49fd6"/><circle cx="247.5" cy="1024.3" r="0.6" fill="#a49fd6"/><circle cx="221.4" cy="1018.3" r="0.7" fill="#b0acd8"/><circle cx="216.8" cy="977.4" r="0.4" fill="#8f89cc"/><circle cx="269.8" cy="1006.4" r="0.7" fill="#b0acd8"/><circle cx="284.9" cy="996.8" r="0.7" fill="#a49fd6"/><circle cx="280.8" cy="1039.3" r="0.7" fill="#b0acd8"/><circle cx="248.8" cy="1031.8" r="0.8" fill="#b0acd8"/><circle cx="276.6" cy="1031.3" r="0.8" fill="#b0acd8"/><circle cx="213.3" cy="994.7" r="0.6" fill="#a49fd6"/><circle cx="289.6" cy="968.3" r="0.7" fill="#8f89cc"/><circle cx="270.3" cy="1024.8" r="0.8" fill="#8f89cc"/><circle cx="214.6" cy="1036.8" r="0.8" fill="#b0acd8"/><circle cx="244.1" cy="1010.6" r="0.6" fill="#a49fd6"/><circle cx="259.0" cy="988.7" r="0.6" fill="#8f89cc"/><circle cx="225.5" cy="1022.7" r="0.8" fill="#8f89cc"/><circle cx="264.0" cy="978.2" r="0.7" fill="#b0acd8"/><circle cx="297.1" cy="1006.8" r="0.6" fill="#a49fd6"/><circle cx="238.4" cy="1035.7" r="0.5" fill="#a49fd6"/><circle cx="213.7" cy="1019.9" r="0.4" fill="#a49fd6"/><circle cx="286.9" cy="978.6" r="0.5" fill="#8f89cc"/><circle cx="294.5" cy="1000.8" r="0.7" fill="#a49fd6"/><circle cx="260.0" cy="968.9" r="0.7" fill="#b0acd8"/><circle cx="293.4" cy="1038.0" r="0.4" fill="#8f89cc"/><circle cx="292.3" cy="1004.4" r="0.7" fill="#a49fd6"/><circle cx="268.9" cy="978.4" r="0.7" fill="#b0acd8"/><circle cx="230.9" cy="1005.8" r="0.4" fill="#8f89cc"/><circle cx="265.5" cy="969.7" r="0.4" fill="#8f89cc"/><circle cx="265.2" cy="1012.7" r="0.4" fill="#b0acd8"/><circle cx="237.3" cy="971.1" r="0.7" fill="#a49fd6"/><circle cx="222.9" cy="1000.6" r="0.4" fill="#b0acd8"/><circle cx="261.9" cy="1012.9" r="0.5" fill="#a49fd6"/><circle cx="214.6" cy="974.2" r="0.8" fill="#b0acd8"/><circle cx="278.9" cy="961.6" r="0.6" fill="#8f89cc"/><circle cx="243.5" cy="1026.2" r="0.6" fill="#b0acd8"/><circle cx="292.3" cy="1017.8" r="0.5" fill="#a49fd6"/><circle cx="248.2" cy="978.3" r="0.4" fill="#b0acd8"/><circle cx="253.3" cy="1021.1" r="0.5" fill="#8f89cc"/><circle cx="262.7" cy="1022.0" r="0.6" fill="#a49fd6"/><circle cx="209.7" cy="1044.8" r="0.6" fill="#b0acd8"/><circle cx="284.4" cy="1040.1" r="0.6" fill="#b0acd8"/><circle cx="294.4" cy="1008.3" r="0.5" fill="#b0acd8"/><circle cx="258.9" cy="995.2" r="0.6" fill="#a49fd6"/><circle cx="273.5" cy="1043.5" r="0.6" fill="#b0acd8"/><circle cx="248.7" cy="1028.5" r="0.6" fill="#b0acd8"/><circle cx="227.0" cy="1021.5" r="0.6" fill="#b0acd8"/><circle cx="296.5" cy="991.6" r="0.5" fill="#8f89cc"/><circle cx="254.5" cy="986.4" r="0.5" fill="#8f89cc"/><circle cx="209.4" cy="970.0" r="0.5" fill="#8f89cc"/><circle cx="260.9" cy="991.2" r="0.6" fill="#a49fd6"/><circle cx="226.0" cy="1043.5" r="0.6" fill="#a49fd6"/><circle cx="274.0" cy="1027.1" r="0.7" fill="#b0acd8"/><circle cx="228.9" cy="986.2" r="0.6" fill="#b0acd8"/><circle cx="298.5" cy="1006.2" r="0.6" fill="#b0acd8"/><circle cx="277.3" cy="1042.5" r="0.4" fill="#a49fd6"/><circle cx="255.2" cy="1028.9" r="0.8" fill="#b0acd8"/><circle cx="215.8" cy="996.3" r="0.6" fill="#a49fd6"/><circle cx="244.5" cy="978.5" r="0.4" fill="#a49fd6"/><circle cx="235.7" cy="1043.8" r="0.8" fill="#a49fd6"/><circle cx="242.5" cy="984.9" r="0.8" fill="#b0acd8"/><circle cx="211.9" cy="1016.5" r="0.7" fill="#8f89cc"/><circle cx="211.0" cy="1014.6" r="0.5" fill="#8f89cc"/><circle cx="253.7" cy="1019.5" r="0.5" fill="#8f89cc"/><circle cx="242.9" cy="974.2" r="0.7" fill="#b0acd8"/><circle cx="259.9" cy="1007.1" r="0.7" fill="#b0acd8"/><circle cx="261.4" cy="1042.4" r="0.7" fill="#b0acd8"/><circle cx="254.1" cy="1008.2" r="0.5" fill="#8f89cc"/><circle cx="264.8" cy="963.9" r="0.7" fill="#a49fd6"/><circle cx="232.9" cy="977.3" r="0.7" fill="#a49fd6"/><circle cx="231.3" cy="1017.4" r="0.5" fill="#a49fd6"/><circle cx="245.9" cy="1033.2" r="0.5" fill="#b0acd8"/><circle cx="210.6" cy="1010.1" r="0.7" fill="#a49fd6"/><circle cx="268.5" cy="975.0" r="0.6" fill="#a49fd6"/><circle cx="284.5" cy="1043.1" r="0.6" fill="#b0acd8"/><circle cx="221.2" cy="1001.5" r="0.6" fill="#b0acd8"/><circle cx="275.5" cy="1037.5" r="0.7" fill="#8f89cc"/><circle cx="253.4" cy="971.4" r="0.4" fill="#a49fd6"/><circle cx="264.6" cy="1005.3" r="0.5" fill="#a49fd6"/><circle cx="227.1" cy="1023.9" r="0.5" fill="#b0acd8"/><circle cx="285.3" cy="981.9" r="0.4" fill="#8f89cc"/><circle cx="224.7" cy="990.3" r="0.5" fill="#a49fd6"/><circle cx="281.6" cy="1001.7" r="0.4" fill="#8f89cc"/><circle cx="289.6" cy="969.7" r="0.5" fill="#b0acd8"/><circle cx="241.6" cy="969.2" r="0.6" fill="#b0acd8"/><circle cx="214.1" cy="1036.8" r="0.5" fill="#a49fd6"/><circle cx="268.1" cy="1020.6" r="0.7" fill="#8f89cc"/><circle cx="222.1" cy="981.6" r="0.8" fill="#8f89cc"/><circle cx="240.2" cy="971.8" r="0.5" fill="#a49fd6"/><circle cx="240.8" cy="983.2" r="0.7" fill="#b0acd8"/><circle cx="282.5" cy="999.7" r="0.6" fill="#b0acd8"/><circle cx="241.8" cy="987.6" r="0.6" fill="#a49fd6"/><circle cx="280.5" cy="1032.2" r="0.6" fill="#8f89cc"/><circle cx="222.4" cy="998.4" r="0.5" fill="#a49fd6"/><circle cx="209.0" cy="998.2" r="0.6" fill="#8f89cc"/><circle cx="228.6" cy="992.3" r="0.6" fill="#b0acd8"/><circle cx="297.0" cy="995.2" r="0.5" fill="#8f89cc"/><circle cx="272.2" cy="971.9" r="0.7" fill="#8f89cc"/><circle cx="293.9" cy="969.9" r="0.6" fill="#a49fd6"/><circle cx="226.5" cy="973.5" r="0.5" fill="#a49fd6"/><circle cx="287.8" cy="1002.7" r="0.4" fill="#b0acd8"/><circle cx="295.3" cy="981.1" r="0.5" fill="#a49fd6"/><circle cx="270.1" cy="1012.7" r="0.4" fill="#a49fd6"/><circle cx="259.4" cy="1017.9" r="0.5" fill="#a49fd6"/><circle cx="239.8" cy="961.2" r="0.7" fill="#8f89cc"/><circle cx="277.4" cy="994.2" r="0.5" fill="#b0acd8"/><circle cx="240.7" cy="1039.8" r="0.6" fill="#8f89cc"/><circle cx="252.9" cy="994.8" r="0.7" fill="#8f89cc"/><circle cx="299.5" cy="1042.2" r="0.6" fill="#b0acd8"/><circle cx="240.4" cy="1022.9" r="0.6" fill="#b0acd8"/><circle cx="233.4" cy="1037.4" r="0.5" fill="#8f89cc"/><circle cx="268.3" cy="1012.1" r="0.5" fill="#8f89cc"/><circle cx="262.0" cy="970.2" r="0.6" fill="#a49fd6"/><circle cx="254.7" cy="971.3" r="0.6" fill="#b0acd8"/><circle cx="219.1" cy="1005.3" r="0.6" fill="#8f89cc"/><circle cx="263.1" cy="1011.9" r="0.7" fill="#8f89cc"/><circle cx="238.2" cy="1014.8" r="0.6" fill="#8f89cc"/><circle cx="251.1" cy="1024.4" r="0.4" fill="#8f89cc"/><circle cx="288.0" cy="977.7" r="0.6" fill="#8f89cc"/><circle cx="240.9" cy="972.7" r="0.6" fill="#b0acd8"/><circle cx="237.4" cy="1025.0" r="0.5" fill="#a49fd6"/><circle cx="260.8" cy="987.8" r="0.7" fill="#b0acd8"/><circle cx="224.0" cy="1038.2" r="0.7" fill="#a49fd6"/><circle cx="239.7" cy="1025.7" r="0.8" fill="#a49fd6"/><circle cx="277.4" cy="996.8" r="0.5" fill="#a49fd6"/><circle cx="259.4" cy="1026.7" r="0.7" fill="#b0acd8"/><circle cx="266.4" cy="1025.1" r="0.8" fill="#a49fd6"/><circle cx="260.8" cy="1044.6" r="0.6" fill="#b0acd8"/><circle cx="288.8" cy="1002.8" r="0.6" fill="#a49fd6"/><circle cx="232.1" cy="974.4" r="0.6" fill="#a49fd6"/><circle cx="264.8" cy="1021.9" r="0.8" fill="#8f89cc"/><circle cx="280.0" cy="996.3" r="0.8" fill="#8f89cc"/><circle cx="268.8" cy="988.2" r="0.8" fill="#a49fd6"/><circle cx="261.7" cy="971.9" r="0.5" fill="#8f89cc"/><circle cx="260.6" cy="1009.1" r="0.7" fill="#a49fd6"/><circle cx="251.0" cy="1002.5" r="0.5" fill="#b0acd8"/><circle cx="269.3" cy="1026.0" r="0.8" fill="#b0acd8"/><circle cx="224.5" cy="965.2" r="0.7" fill="#a49fd6"/><circle cx="236.8" cy="974.0" r="0.5" fill="#b0acd8"/><circle cx="274.1" cy="965.2" r="0.5" fill="#8f89cc"/><circle cx="246.9" cy="1027.6" r="0.8" fill="#b0acd8"/><circle cx="278.8" cy="999.3" r="0.8" fill="#a49fd6"/><circle cx="229.7" cy="1003.0" r="0.6" fill="#a49fd6"/><circle cx="278.5" cy="1001.3" r="0.7" fill="#8f89cc"/><circle cx="231.3" cy="1007.8" r="0.5" fill="#b0acd8"/><circle cx="299.8" cy="1042.3" r="0.5" fill="#8f89cc"/><circle cx="229.2" cy="984.3" r="0.6" fill="#8f89cc"/><circle cx="296.4" cy="1006.3" r="0.7" fill="#8f89cc"/><circle cx="240.9" cy="1012.0" r="0.8" fill="#b0acd8"/><circle cx="244.0" cy="1026.4" r="0.5" fill="#8f89cc"/><circle cx="226.6" cy="978.4" r="0.4" fill="#b0acd8"/><circle cx="235.4" cy="1032.2" r="0.6" fill="#8f89cc"/><circle cx="284.3" cy="1005.1" r="0.8" fill="#8f89cc"/><circle cx="287.2" cy="978.9" r="0.5" fill="#8f89cc"/><circle cx="220.4" cy="1000.9" r="0.6" fill="#a49fd6"/><circle cx="230.9" cy="1024.5" r="0.6" fill="#8f89cc"/><circle cx="220.5" cy="1019.8" r="0.4" fill="#b0acd8"/><circle cx="288.2" cy="997.5" r="0.6" fill="#b0acd8"/><circle cx="240.6" cy="1014.5" r="0.4" fill="#a49fd6"/><circle cx="259.0" cy="969.5" r="0.8" fill="#8f89cc"/><circle cx="233.1" cy="1036.2" r="0.5" fill="#b0acd8"/><circle cx="227.7" cy="968.2" r="0.8" fill="#8f89cc"/><circle cx="243.3" cy="967.0" r="0.5" fill="#b0acd8"/><circle cx="272.8" cy="977.1" r="0.4" fill="#b0acd8"/><circle cx="293.4" cy="995.4" r="0.6" fill="#a49fd6"/><circle cx="266.2" cy="978.6" r="0.6" fill="#a49fd6"/><circle cx="258.6" cy="1034.2" r="0.8" fill="#b0acd8"/><circle cx="255.7" cy="1021.8" r="0.5" fill="#8f89cc"/><circle cx="255.6" cy="983.0" r="0.5" fill="#8f89cc"/><circle cx="244.4" cy="995.0" r="0.8" fill="#a49fd6"/><circle cx="286.5" cy="1021.2" r="0.5" fill="#8f89cc"/><circle cx="285.1" cy="1031.1" r="0.6" fill="#a49fd6"/><circle cx="214.3" cy="1010.6" r="0.6" fill="#8f89cc"/><circle cx="288.3" cy="980.2" r="0.8" fill="#a49fd6"/><circle cx="261.8" cy="1041.7" r="0.7" fill="#a49fd6"/><circle cx="256.2" cy="1023.0" r="0.5" fill="#a49fd6"/><circle cx="224.2" cy="1003.8" r="0.5" fill="#a49fd6"/><circle cx="275.5" cy="1006.0" r="0.4" fill="#8f89cc"/><circle cx="213.8" cy="963.5" r="0.7" fill="#a49fd6"/><circle cx="247.2" cy="1028.7" r="0.5" fill="#a49fd6"/><circle cx="243.6" cy="1038.7" r="0.7" fill="#8f89cc"/><circle cx="231.5" cy="1021.4" r="0.7" fill="#8f89cc"/><circle cx="240.0" cy="990.9" r="0.4" fill="#8f89cc"/><circle cx="282.4" cy="1018.3" r="0.5" fill="#8f89cc"/><circle cx="261.4" cy="1012.0" r="0.6" fill="#b0acd8"/><circle cx="268.0" cy="962.8" r="0.7" fill="#8f89cc"/><circle cx="231.3" cy="965.9" r="0.6" fill="#8f89cc"/><circle cx="249.1" cy="1029.4" r="0.6" fill="#8f89cc"/><circle cx="268.9" cy="998.7" r="0.7" fill="#a49fd6"/><circle cx="295.7" cy="1020.5" r="0.5" fill="#8f89cc"/><circle cx="253.9" cy="995.9" r="0.5" fill="#b0acd8"/><circle cx="218.9" cy="1030.5" r="0.4" fill="#a49fd6"/><circle cx="283.0" cy="969.6" r="0.4" fill="#a49fd6"/><circle cx="230.5" cy="1003.1" r="0.5" fill="#b0acd8"/><circle cx="222.5" cy="973.6" r="0.8" fill="#b0acd8"/><circle cx="282.0" cy="982.0" r="0.5" fill="#a49fd6"/><circle cx="256.7" cy="989.9" r="0.7" fill="#a49fd6"/><circle cx="280.0" cy="1012.2" r="0.7" fill="#b0acd8"/><circle cx="278.1" cy="1002.7" r="0.5" fill="#a49fd6"/><circle cx="246.0" cy="1042.0" r="0.8" fill="#a49fd6"/><circle cx="226.3" cy="1023.9" r="0.8" fill="#8f89cc"/><circle cx="261.0" cy="1011.1" r="0.4" fill="#8f89cc"/><circle cx="296.2" cy="970.5" r="0.6" fill="#a49fd6"/><circle cx="251.0" cy="977.1" r="0.5" fill="#b0acd8"/><circle cx="247.8" cy="1002.7" r="0.7" fill="#b0acd8"/><circle cx="274.8" cy="1020.3" r="0.5" fill="#8f89cc"/><circle cx="285.6" cy="1025.1" r="0.7" fill="#b0acd8"/><circle cx="289.6" cy="982.7" r="0.7" fill="#8f89cc"/><circle cx="232.4" cy="1000.1" r="0.7" fill="#8f89cc"/><circle cx="271.9" cy="1004.5" r="0.7" fill="#8f89cc"/></g><defs><linearGradient id="cb1" x1="0" x2="1"><stop offset="0" stop-color="#d9d9d9"/><stop offset="0.5" stop-color="#9d91c9"/><stop offset="1" stop-color="#2b47a3"/></linearGradient><linearGradient id="cb2" x1="0" x2="1"><stop offset="0" stop-color="#2a7ab5"/><stop offset="0.5" stop-color="#88b69f"/><stop offset="1" stop-color="#ede26e"/></linearGradient></defs><rect x="123.2" y="1052.6" width="84.2" height="16.4" fill="url(#cb1)"/><text x="117.0" y="1080.3" font-size="10.4" text-anchor="start" fill="#000">0.0 0.5 1.0 1.5 2.0</text><text x="661.4" y="730.4" font-size="16.3" text-anchor="middle" fill="#000">HCCDB Cohort</text><line x1="406.3" y1="775.3" x2="406.3" y2="948.3" stroke="#000" stroke-width="1.5"/><line x1="401.3" y1="947.7" x2="983.2" y2="947.7" stroke="#000" stroke-width="1.5"/><line x1="401.3" y1="775.7" x2="406.3" y2="775.7" stroke="#000" stroke-width="1.5"/><text x="393.6" y="778.9" font-size="14.8" text-anchor="end" fill="#000" transform="matrix(1.09 0 0 1 -35.42 0)">Normal</text><line x1="401.3" y1="818.8" x2="406.3" y2="818.8" stroke="#000" stroke-width="1.5"/><text x="393.6" y="822.0" font-size="14.8" text-anchor="end" fill="#000" transform="matrix(1.09 0 0 1 -35.42 0)">Stromal</text><line x1="401.3" y1="861.8" x2="406.3" y2="861.8" stroke="#000" stroke-width="1.5"/><text x="393.6" y="865.0" font-size="14.8" text-anchor="end" fill="#000" transform="matrix(1.09 0 0 1 -35.42 0)">Tumor</text><line x1="401.3" y1="904.5" x2="406.3" y2="904.5" stroke="#000" stroke-width="1.5"/><text x="393.6" y="907.7" font-size="14.8" text-anchor="end" fill="#000" transform="matrix(1.09 0 0 1 -35.42 0)">Immune</text><line x1="479.0" y1="947.7" x2="479.0" y2="953.0" stroke="#000" stroke-width="1.5"/><text x="479.0" y="971.8" font-size="16" text-anchor="middle" fill="#000">HCC-1</text><line x1="586.7" y1="947.7" x2="586.7" y2="953.0" stroke="#000" stroke-width="1.5"/><text x="586.7" y="971.8" font-size="16" text-anchor="middle" fill="#000">HCC-2</text><line x1="693.8" y1="947.7" x2="693.8" y2="953.0" stroke="#000" stroke-width="1.5"/><text x="693.8" y="971.8" font-size="16" text-anchor="middle" fill="#000">HCC-3</text><line x1="799.9" y1="947.7" x2="799.9" y2="953.0" stroke="#000" stroke-width="1.5"/><text x="799.9" y="971.8" font-size="16" text-anchor="middle" fill="#000">HCC-4</text><line x1="908.8" y1="947.7" x2="908.8" y2="953.0" stroke="#000" stroke-width="1.5"/><text x="908.8" y="971.8" font-size="16" text-anchor="middle" fill="#000">HCC-5</text><circle cx="479.0" cy="775.7" r="7.5" fill="#6aa4b6" stroke="#2a3a3a" stroke-width="1.0"/><circle cx="479.0" cy="818.8" r="11.4" fill="#8fb9a3" stroke="#2a3a3a" stroke-width="1.0"/><circle cx="479.0" cy="861.8" r="15.2" fill="#7db1a9" stroke="#2a3a3a" stroke-width="1.0"/><circle cx="479.0" cy="904.5" r="11.4" fill="#c6d08f" stroke="#2a3a3a" stroke-width="1.0"/><circle cx="586.7" cy="775.7" r="7.9" fill="#84b6ab" stroke="#2a3a3a" stroke-width="1.0"/><circle cx="586.7" cy="818.8" r="9.5" fill="#a9c796" stroke="#2a3a3a" stroke-width="1.0"/><circle cx="586.7" cy="861.8" r="15.4" fill="#d9d883" stroke="#2a3a3a" stroke-width="1.0"/><circle cx="586.7" cy="904.5" r="9.7" fill="#78b0ab" stroke="#2a3a3a" stroke-width="1.0"/><circle cx="693.8" cy="775.7" r="10.2" fill="#6ba7b6" stroke="#2a3a3a" stroke-width="1.0"/><circle cx="693.8" cy="818.8" r="8.2" fill="#80b5ab" stroke="#2a3a3a" stroke-width="1.0"/><circle cx="693.8" cy="861.8" r="13.6" fill="#77afab" stroke="#2a3a3a" stroke-width="1.0"/><circle cx="693.8" cy="904.5" r="10.2" fill="#8fbba3" stroke="#2a3a3a" stroke-width="1.0"/><circle cx="799.9" cy="775.7" r="4.3" fill="#6aa8ab" stroke="#2a3a3a" stroke-width="1.0"/><circle cx="799.9" cy="818.8" r="9.8" fill="#a9c796" stroke="#2a3a3a" stroke-width="1.0"/><circle cx="799.9" cy="861.8" r="15.5" fill="#dcda7e" stroke="#2a3a3a" stroke-width="1.0"/><circle cx="799.9" cy="904.5" r="7.9" fill="#a9c898" stroke="#2a3a3a" stroke-width="1.0"/><circle cx="908.8" cy="775.7" r="4.3" fill="#67a5b0" stroke="#2a3a3a" stroke-width="1.0"/><circle cx="908.8" cy="818.8" r="4.3" fill="#9cc2a0" stroke="#2a3a3a" stroke-width="1.0"/><circle cx="908.8" cy="861.8" r="7.9" fill="#70acb0" stroke="#2a3a3a" stroke-width="1.0"/><circle cx="908.8" cy="904.5" r="7.9" fill="#96bea0" stroke="#2a3a3a" stroke-width="1.0"/><text x="587.7" y="1006.0" font-size="16" text-anchor="start" fill="#000">avg.exp</text><text x="662.0" y="1008.0" font-size="16" text-anchor="middle" fill="#000">0</text><rect x="671.5" y="995.0" width="107.0" height="15.0" fill="url(#cb2)" rx="2"/><text x="783.6" y="1008.0" font-size="16" text-anchor="start" fill="#000">1</text><text x="2.0" y="1117.9" font-size="19.5" text-anchor="start" fill="#000">G</text><text x="88.2" y="1142.0" font-size="16.3" text-anchor="start" fill="#000">Liver cancer database containing 608 patients</text><text x="73.0" y="1173.7" font-size="16.4" text-anchor="start" fill="#000">PTK2</text><text x="120.4" y="1173.7" font-size="16.4" text-anchor="start" fill="#000">11%</text><rect x="154.7" y="1158.5" width="95.3" height="21.8" fill="#e41a1c"/><rect x="250.0" y="1158.5" width="161.8" height="21.8" fill="#d3d3d3"/><rect x="427.0" y="1158.5" width="8.0" height="21.8" fill="#d3d3d3"/><path d="M416,1171 L420,1167 M419,1171 L423,1167" fill="none" stroke="#bbb" stroke-width="0.8"/><line x1="411.8" y1="1169.4" x2="427.0" y2="1169.4" stroke="#ddd" stroke-width="0.8"/><rect x="252.0" y="1166.0" width="9.2" height="6.7" fill="#5ab43c"/><rect x="154.7" y="1166.0" width="1.5" height="6.7" fill="#5ab43c"/><text x="73.0" y="1203.8" font-size="16.4" text-anchor="start" fill="#000">Genetic</text><text x="73.0" y="1223.6" font-size="16.4" text-anchor="start" fill="#000">Alteration</text><rect x="155.2" y="1191.4" width="3.5" height="15.2" fill="#d3d3d3"/><rect x="155.2" y="1196.5" width="3.5" height="5.0" fill="#5ab43c"/><text x="165.3" y="1204.2" font-size="16.4" text-anchor="start" fill="#000">Missense Mutation</text><rect x="312.9" y="1191.4" width="4.5" height="15.2" fill="#d3d3d3"/><rect x="312.9" y="1196.5" width="4.5" height="5.0" fill="#f2b482"/><text x="323.0" y="1204.2" font-size="16.4" text-anchor="start" fill="#000">Splice Mutation</text><rect x="155.2" y="1218.8" width="4.0" height="15.2" fill="#e41a1c"/><text x="165.3" y="1230.7" font-size="16.4" text-anchor="start" fill="#000">Amplification</text><rect x="312.9" y="1218.2" width="4.5" height="16.3" fill="#d3d3d3"/><text x="323.0" y="1230.7" font-size="16.4" text-anchor="start" fill="#000">No alterations</text><text x="320.5" y="1292.8" font-size="16" text-anchor="middle" fill="#000">Alteration Frequency</text><line x1="295.2" y1="1303.0" x2="295.2" y2="1357.7" stroke="#ececec" stroke-width="0.8"/><line x1="383.5" y1="1303.0" x2="383.5" y2="1357.7" stroke="#ececec" stroke-width="0.8"/><line x1="471.7" y1="1303.0" x2="471.7" y2="1357.7" stroke="#ececec" stroke-width="0.8"/><line x1="206.9" y1="1303.0" x2="206.9" y2="1358.3" stroke="#000" stroke-width="1.5"/><line x1="206.3" y1="1357.7" x2="496.0" y2="1357.7" stroke="#000" stroke-width="1.5"/><rect x="207.5" y="1309.6" width="23.2" height="18.7" fill="#b5202a"/><rect x="230.7" y="1309.6" width="21.8" height="18.7" fill="#3d8b6a"/><rect x="207.5" y="1333.4" width="4.5" height="18.8" fill="#d4a07a"/><rect x="212.0" y="1333.4" width="247.0" height="18.8" fill="#b5202a"/><rect x="459.0" y="1333.4" width="18.2" height="18.8" fill="#3d8b6a"/><text x="199.3" y="1324.3" font-size="16.3" text-anchor="end" fill="#000">Hepatobiliary Cancer</text><text x="199.3" y="1347.6" font-size="16.35" text-anchor="end" fill="#000">Hepatocellular Carcinoma</text><text x="292.6" y="1381.6" font-size="16" text-anchor="middle" fill="#000">5%</text><text x="382.9" y="1381.6" font-size="16" text-anchor="middle" fill="#000">10%</text><text x="472.6" y="1381.6" font-size="16" text-anchor="middle" fill="#000">15%</text><circle cx="69.5" cy="1404.4" r="3.0" fill="#3d8b6a"/><text x="81.1" y="1409.5" font-size="16" text-anchor="start" fill="#000">Mutation</text><circle cx="162.3" cy="1404.4" r="3.0" fill="#b5202a"/><text x="177.5" y="1409.5" font-size="16" text-anchor="start" fill="#000">Amplification</text><circle cx="290.0" cy="1404.4" r="3.0" fill="#d4a07a"/><text x="305.3" y="1409.5" font-size="16" text-anchor="start" fill="#000">Multiple Alterations</text><text x="544.5" y="1058.5" font-size="19" text-anchor="start" fill="#000">H</text><text x="769.0" y="1062.1" font-size="16.3" text-anchor="middle" fill="#000">Liver Hepatocellular Carcinoma</text><line x1="616.7" y1="1077.3" x2="616.7" y2="1279.0" stroke="#000" stroke-width="1.5"/><line x1="616.0" y1="1278.3" x2="904.0" y2="1278.3" stroke="#000" stroke-width="1.5"/><line x1="611.5" y1="1087.2" x2="616.9" y2="1087.2" stroke="#000" stroke-width="1.5"/><text x="608.4" y="1093.2" font-size="16" text-anchor="end" fill="#000">1.00</text><line x1="611.5" y1="1134.7" x2="616.9" y2="1134.7" stroke="#000" stroke-width="1.5"/><text x="608.4" y="1140.7" font-size="16" text-anchor="end" fill="#000">0.75</text><line x1="611.5" y1="1182.2" x2="616.9" y2="1182.2" stroke="#000" stroke-width="1.5"/><text x="608.4" y="1188.2" font-size="16" text-anchor="end" fill="#000">0.50</text><line x1="611.5" y1="1229.8" x2="616.9" y2="1229.8" stroke="#000" stroke-width="1.5"/><text x="608.4" y="1235.8" font-size="16" text-anchor="end" fill="#000">0.25</text><line x1="611.5" y1="1277.3" x2="616.9" y2="1277.3" stroke="#000" stroke-width="1.5"/><text x="608.4" y="1283.3" font-size="16" text-anchor="end" fill="#000">0.00</text><line x1="616.7" y1="1278.3" x2="616.7" y2="1283.5" stroke="#000" stroke-width="1.5"/><text x="616.7" y="1302.5" font-size="16" text-anchor="middle" fill="#000">0</text><line x1="664.4" y1="1278.3" x2="664.4" y2="1283.5" stroke="#000" stroke-width="1.5"/><text x="664.4" y="1302.5" font-size="16" text-anchor="middle" fill="#000">20</text><line x1="712.0" y1="1278.3" x2="712.0" y2="1283.5" stroke="#000" stroke-width="1.5"/><text x="712.0" y="1302.5" font-size="16" text-anchor="middle" fill="#000">40</text><line x1="759.7" y1="1278.3" x2="759.7" y2="1283.5" stroke="#000" stroke-width="1.5"/><text x="759.7" y="1302.5" font-size="16" text-anchor="middle" fill="#000">60</text><line x1="807.3" y1="1278.3" x2="807.3" y2="1283.5" stroke="#000" stroke-width="1.5"/><text x="807.3" y="1302.5" font-size="16" text-anchor="middle" fill="#000">80</text><line x1="855.0" y1="1278.3" x2="855.0" y2="1283.5" stroke="#000" stroke-width="1.5"/><text x="855.0" y="1302.5" font-size="16" text-anchor="middle" fill="#000">100</text><line x1="902.7" y1="1278.3" x2="902.7" y2="1283.5" stroke="#000" stroke-width="1.5"/><text x="902.7" y="1302.5" font-size="16" text-anchor="middle" fill="#000">120</text><text x="761.0" y="1322.4" font-size="16.3" text-anchor="middle" fill="#000">Time (Months)</text><text x="565.0" y="1181.0" font-size="16" text-anchor="middle" fill="#000" transform="rotate(-90 565 1181)" dominant-baseline="central">Overall Survival</text><path d="M616.7,1087.2H618.6V1092.0H620.5V1094.9H622.2V1097.8H624.0V1099.0H625.6V1100.1H627.3V1101.3H628.4V1102.4H630.1V1103.2H631.8V1103.9H632.4V1104.7H634.4V1105.4H636.4V1106.2H637.4V1107.0H639.1V1108.2H640.9V1109.5H641.6V1110.8H643.4V1112.0H644.7V1113.3H646.5V1114.6H648.0V1116.1H649.6V1117.6H650.5V1119.1H652.2V1120.7H653.8V1122.2H655.5V1123.7H657.5V1124.8H658.9V1126.0H659.7V1127.1H661.9V1128.3H662.8V1129.4H664.8V1130.5H665.8V1131.7H667.7V1132.8H668.7V1133.8H671.2V1134.9H672.0V1135.9H673.6V1136.9H676.0V1137.9H677.0V1138.9H678.9V1141.2H679.7V1143.5H681.9V1145.8H682.9V1148.0H684.5V1148.8H686.2V1149.6H687.2V1150.3H689.5V1151.1H690.7V1151.8H692.0V1152.6H694.0V1153.1H695.5V1153.6H696.4V1154.1H698.0V1154.6H699.3V1155.1H700.8V1155.6H702.2V1156.1H704.0V1156.6H705.9V1157.2H706.8V1157.7H709.0V1158.2H710.4V1158.7H711.7V1159.3H713.2V1159.9H715.3V1160.5H716.4V1161.1H717.8V1161.7H719.5V1162.3H721.2V1162.9H722.1V1163.5H724.6V1164.2H725.6V1164.8H726.6V1165.1H728.9V1165.5H730.6V1165.9H731.2V1166.3H733.6V1166.7H734.6V1167.0H736.4V1167.4H737.3V1167.8H738.9V1168.2H740.6V1168.6H742.9V1168.9H744.0V1169.3H745.1V1170.0H747.2V1170.7H748.9V1171.5H750.5V1172.2H751.3V1172.9H752.9V1173.6H754.5V1174.3H756.3V1175.0H757.1V1175.7H759.3V1176.5H760.9V1177.2H762.1V1177.9H763.9V1178.2H764.5V1178.6H766.8V1178.9H767.4V1179.2H769.1V1179.6H770.8V1179.9H772.5V1180.3H773.3V1180.6H775.4V1181.0H776.4V1181.3H777.6V1181.6H779.0V1182.0H780.3V1182.3H781.7V1182.7H783.5V1183.0H810.4V1184.9H812.5V1186.8H814.4V1188.7H815.4V1190.6H816.4V1205.8H861.9V1218.0H863.1V1220.0H864.5V1222.0H867.0V1224.1H868.0V1226.1H869.4V1228.1H871.0V1230.2H903.6" fill="none" stroke="#3a6cb5" stroke-width="1.5"/><path d="M629.5,1103.2H632.5M631.0,1101.7V1104.7M639.0,1108.2H642.0M640.5,1106.7V1109.7M648.6,1117.6H651.6M650.1,1116.1V1119.1M658.1,1126.0H661.1M659.6,1124.5V1127.5M667.6,1133.8H670.6M669.1,1132.3V1135.3M677.2,1138.9H680.2M678.7,1137.4V1140.4M686.7,1150.3H689.7M688.2,1148.8V1151.8M696.2,1154.1H699.2M697.7,1152.6V1155.6M703.4,1156.6H706.4M704.9,1155.1V1158.1M715.3,1161.1H718.3M716.8,1159.6V1162.6M722.4,1163.5H725.4M723.9,1162.0V1165.0M729.6,1165.9H732.6M731.1,1164.4V1167.4M734.4,1167.0H737.4M735.9,1165.5V1168.5M739.1,1168.6H742.1M740.6,1167.1V1170.1M746.3,1170.7H749.3M747.8,1169.2V1172.2M753.4,1174.3H756.4M754.9,1172.8V1175.8M762.9,1178.2H765.9M764.4,1176.7V1179.7M770.1,1179.9H773.1M771.6,1178.4V1181.4M777.2,1181.6H780.2M778.7,1180.1V1183.1M786.8,1183.0H789.8M788.3,1181.5V1184.5M796.3,1183.0H799.3M797.8,1181.5V1184.5M805.8,1183.0H808.8M807.3,1181.5V1184.5M829.7,1205.8H832.7M831.2,1204.3V1207.3M872.6,1230.2H875.6M874.1,1228.7V1231.7M882.1,1230.2H885.1M883.6,1228.7V1231.7M891.6,1230.2H894.6M893.1,1228.7V1231.7M901.2,1230.2H904.2M902.7,1228.7V1231.7" fill="none" stroke="#3a6cb5" stroke-width="0.9"/><path d="M616.7,1087.2H618.6V1090.1H622.2V1096.3H626.8V1100.1H629.8V1103.9H634.3V1119.1H640.3V1138.9H645.0V1144.2H647.9V1149.6H651.5V1151.1H654.5V1152.6H658.6V1154.1H661.6V1157.2H667.7V1160.2H670.8V1170.3H714.9V1176.9H720.1V1184.5H724.2V1192.1H749.2V1211.9H811.4V1244.8H832.7V1277.3H832.7" fill="none" stroke="#d04428" stroke-width="1.5"/><path d="M648.6,1149.6H651.6M650.1,1148.1V1151.1M681.9,1170.3H684.9M683.4,1168.8V1171.8M686.7,1170.3H689.7M688.2,1168.8V1171.8M698.6,1170.3H701.6M700.1,1168.8V1171.8M705.8,1170.3H708.8M707.3,1168.8V1171.8M758.2,1211.9H761.2M759.7,1210.4V1213.4M791.5,1211.9H794.5M793.0,1210.4V1213.4M798.7,1211.9H801.7M800.2,1210.4V1213.4M803.5,1211.9H806.5M805.0,1210.4V1213.4" fill="none" stroke="#d04428" stroke-width="0.9"/><rect x="806.5" y="1085.5" width="6.0" height="6.0" fill="#d04428"/><rect x="806.5" y="1106.0" width="6.0" height="6.0" fill="#3a6cb5"/><text x="820.5" y="1093.8" font-size="16.4" text-anchor="start" fill="#000">PTK2 Altered group</text><text x="820.5" y="1114.1" font-size="16.4" text-anchor="start" fill="#000">PTK2 Unaltered group</text><text x="820.5" y="1134.9" font-size="16.4" text-anchor="start" fill="#000">Log-rank <tspan font-style="italic">P</tspan> = 9.383e-3</text><text x="751.6" y="1345.7" font-size="16" text-anchor="middle" fill="#000">Number at risk</text><text x="683.0" y="1366.5" font-size="16" text-anchor="end" fill="#d04428">PTK2 Altered</text><text x="683.0" y="1385.4" font-size="16" text-anchor="end" fill="#3a6cb5">PTK2 Unaltered</text><line x1="692.5" y1="1356.0" x2="692.5" y2="1390.6" stroke="#000" stroke-width="1.5"/><line x1="691.9" y1="1390.0" x2="952.4" y2="1390.0" stroke="#000" stroke-width="1.5"/><line x1="688.0" y1="1361.0" x2="692.5" y2="1361.0" stroke="#000" stroke-width="1.5"/><line x1="688.0" y1="1380.0" x2="692.5" y2="1380.0" stroke="#000" stroke-width="1.5"/><text x="711.4" y="1366.5" font-size="16" text-anchor="middle" fill="#d04428">56</text><text x="711.4" y="1385.4" font-size="16" text-anchor="middle" fill="#3a6cb5">302</text><line x1="711.4" y1="1390.0" x2="711.4" y2="1394.0" stroke="#000" stroke-width="1.5"/><text x="711.4" y="1410.4" font-size="16" text-anchor="middle" fill="#000">0</text><text x="750.2" y="1366.5" font-size="16" text-anchor="middle" fill="#d04428">26</text><text x="750.2" y="1385.4" font-size="16" text-anchor="middle" fill="#3a6cb5">149</text><line x1="750.2" y1="1390.0" x2="750.2" y2="1394.0" stroke="#000" stroke-width="1.5"/><text x="750.2" y="1410.4" font-size="16" text-anchor="middle" fill="#000">20</text><text x="787.0" y="1366.5" font-size="16" text-anchor="middle" fill="#d04428">15</text><text x="787.0" y="1385.4" font-size="16" text-anchor="middle" fill="#3a6cb5">65</text><line x1="787.0" y1="1390.0" x2="787.0" y2="1394.0" stroke="#000" stroke-width="1.5"/><text x="787.0" y="1410.4" font-size="16" text-anchor="middle" fill="#000">40</text><text x="824.8" y="1366.5" font-size="16" text-anchor="middle" fill="#d04428">5</text><text x="824.8" y="1385.4" font-size="16" text-anchor="middle" fill="#3a6cb5">35</text><line x1="824.8" y1="1390.0" x2="824.8" y2="1394.0" stroke="#000" stroke-width="1.5"/><text x="824.8" y="1410.4" font-size="16" text-anchor="middle" fill="#000">60</text><text x="863.6" y="1366.5" font-size="16" text-anchor="middle" fill="#d04428">2</text><text x="863.6" y="1385.4" font-size="16" text-anchor="middle" fill="#3a6cb5">15</text><line x1="863.6" y1="1390.0" x2="863.6" y2="1394.0" stroke="#000" stroke-width="1.5"/><text x="863.6" y="1410.4" font-size="16" text-anchor="middle" fill="#000">80</text><text x="901.9" y="1366.5" font-size="16" text-anchor="middle" fill="#d04428">0</text><text x="901.9" y="1385.4" font-size="16" text-anchor="middle" fill="#3a6cb5">6</text><line x1="901.9" y1="1390.0" x2="901.9" y2="1394.0" stroke="#000" stroke-width="1.5"/><text x="901.9" y="1410.4" font-size="16" text-anchor="middle" fill="#000">100</text><text x="938.2" y="1366.5" font-size="16" text-anchor="middle" fill="#d04428">0</text><text x="938.2" y="1385.4" font-size="16" text-anchor="middle" fill="#3a6cb5">1</text><line x1="938.2" y1="1390.0" x2="938.2" y2="1394.0" stroke="#000" stroke-width="1.5"/><text x="938.2" y="1410.4" font-size="16" text-anchor="middle" fill="#000">120</text><text x="822.5" y="1426.0" font-size="16" text-anchor="middle" fill="#000">Time (Months)</text>
</svg></body></html>
